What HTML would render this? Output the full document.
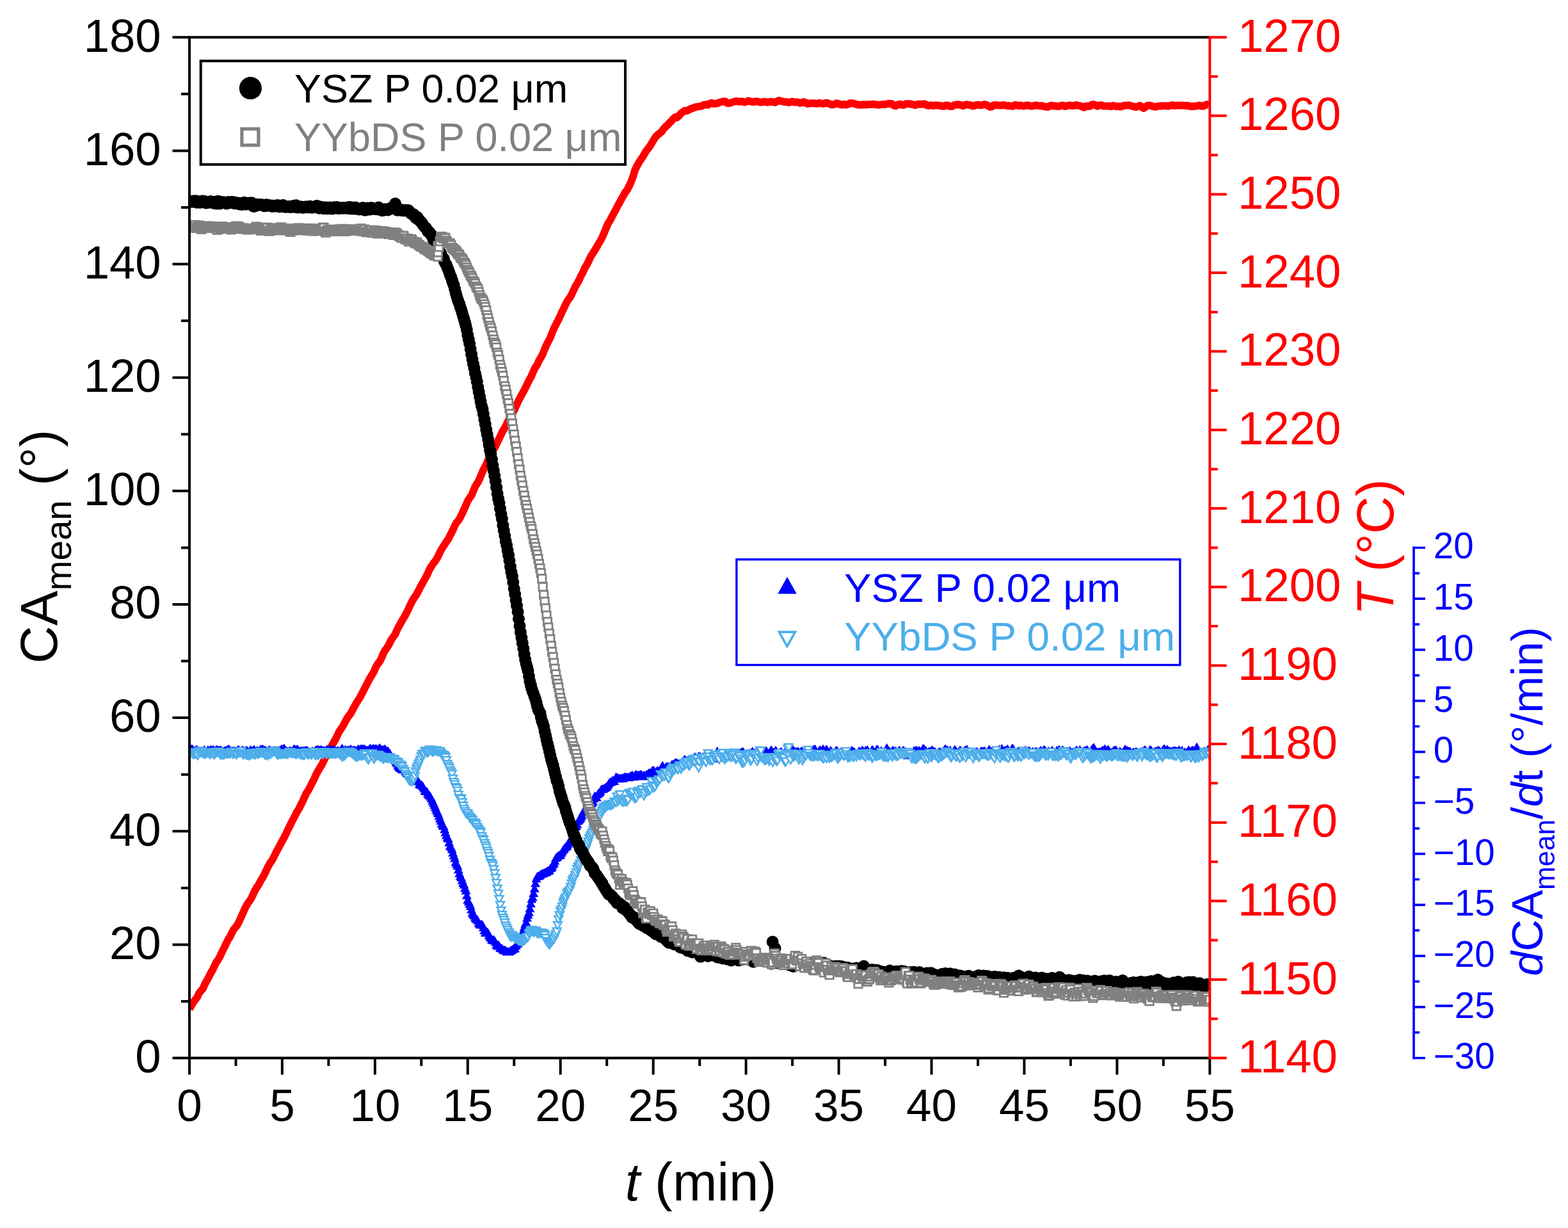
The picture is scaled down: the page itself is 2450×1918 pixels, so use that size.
<!DOCTYPE html>
<html><head><meta charset="utf-8"><title>CA mean vs time</title>
<style>html,body{margin:0;padding:0;background:#fff;overflow:hidden}svg{display:block}</style>
</head><body>
<svg xmlns="http://www.w3.org/2000/svg" width="2450" height="1918" viewBox="0 0 2450 1918" font-family="'Liberation Sans', Arial, Helvetica, sans-serif">
<rect width="2450" height="1918" fill="#fff"/>
<defs><clipPath id="pc"><rect x="296" y="56" width="1594.3" height="1600"/></clipPath></defs><g clip-path="url(#pc)"><path d="M296 1575.8 299 1570.9 302 1565.5 305 1561.6 308 1557.9 311 1551.3 314 1547.6 317 1544.3 320 1537.2 323 1531.8 326 1526.6 329 1520.4 332 1515.4 335 1508.9 338 1502.9 341 1498.7 344 1493.4 347 1486.7 350 1480.8 353 1474.4 356 1468.2 359 1463.9 362 1457.7 365 1451.8 368 1448.3 371 1444.5 374 1438.4 377 1431.8 380 1425.2 383 1418.4 386 1412.7 389 1408.4 392 1404.3 395 1398.1 398 1391.3 401 1386.4 404 1382 407 1376.2 410 1371.4 413 1365.9 416 1359.5 419 1353.3 422 1347.9 425 1343.9 428 1338.3 431 1331.9 434 1326.5 437 1321 440 1315.4 443 1309.9 446 1304.2 449 1297.6 452 1291.7 455 1285.4 458 1279.6 461 1274 464 1268 467 1263.4 470 1257.3 473 1251.3 476 1244.7 479 1238.3 482 1234 485 1228.1 488 1222.3 491 1216.4 494 1209.6 497 1204.1 500 1199 503 1194.3 506 1188 509 1181.9 512 1178 515 1172.3 518 1165.2 521 1160.2 524 1155.1 527 1149 530 1142.6 533 1138.2 536 1133.7 539 1128 542 1122.5 545 1118.2 548 1114.2 551 1108.8 554 1103.1 557 1097.7 560 1093.1 563 1088.3 566 1082.6 569 1076.7 572 1070.9 575 1065.1 578 1059.3 581 1054.5 584 1049.5 587 1042.5 590 1037.1 593 1033.6 596 1028 599 1020.6 602 1015.2 605 1011.4 608 1006.2 611 999.9 614 995.5 617 991.5 620 984.8 623 978.6 626 973.5 629 968 632 963.2 635 957.7 638 951.4 641 945 644 938.9 647 933.9 650 929.7 653 924.5 656 918.4 659 912.9 662 907.6 665 902.4 668 896.4 671 889.5 674 884.7 677 880.1 680 876.3 683 871.8 686 865.4 689 859.4 692 854.6 695 850.1 698 845.4 701 841.1 704 834.7 707 829.1 710 822.4 713 816.3 716 813.3 719 808.6 722 802.2 725 795.9 728 789 731 782.2 734 777.3 737 773.3 740 765.7 743 758.9 746 754.5 749 748.6 752 741.5 755 734.4 758 728.9 761 722.4 764 715.5 767 709.5 770 704.2 773 699 776 693 779 686.9 782 680.6 785 674.2 788 669.4 791 664 794 657.4 797 652.1 800 647.1 803 641.5 806 635.1 809 628.4 812 622.5 815 616.7 818 611.6 821 605.7 824 599.4 827 593.4 830 588.1 833 581 836 574.5 839 570.5 842 563.6 845 558.6 848 553.2 851 545.6 854 538.7 857 532.9 860 526.9 863 519 866 512 869 506.1 872 500.4 875 494.2 878 487.3 881 481.3 884 475 887 469.3 890 465.5 893 460.4 896 453.9 899 447.4 902 442.5 905 437 908 430.6 911 424.9 914 418.2 917 413.3 920 407.5 923 400.6 926 396.2 929 391.5 932 386.4 935 381.1 938 376.4 941 370.6 944 363.7 947 356.2 950 349.1 953 344.8 956 338.8 959 333.2 962 327.8 965 321.8 968 316.5 971 311 974 305.7 977 300.3 980 296.6 983 290.7 986 284.1 989 276.2 992 266.3 995 259.8 998 254.3 1001 249.8 1004 245.4 1007 240.2 1010 235.3 1013 231.7 1016 227.6 1019 222.4 1022 217.6 1025 213.1 1028 210.3 1031 208.2 1034 205.5 1037 201.2 1040 197.8 1043 195.6 1046 191.7 1049 189.2 1052 185.7 1055 182.9 1058 183.5 1061 180.5 1064 177.1 1067 174.9 1070 172.9 1073 173.2 1076 171.7 1079 170 1082 169.2 1085 167.8 1088 167 1091 166.5 1094 166.1 1097 165.5 1100 163.6 1103 163.4 1106 164 1109 161.6 1112 160.8 1115 162 1118 161.9 1121 161.5 1124 159.9 1127 159.2 1130 158.5 1133 158.4 1136 160.9 1139 161.3 1142 160.4 1145 159.6 1148 158.3 1151 158 1154 158.7 1157 158.9 1160 158.4 1163 159.6 1166 159 1169 157.5 1172 158.2 1175 159 1178 159.2 1181 158.4 1184 158.6 1187 159.5 1190 159.6 1193 159 1196 158.9 1199 159.8 1202 159.2 1205 159 1208 159.1 1211 160.1 1214 158.5 1217 156.8 1220 157.7 1223 158.5 1226 159.2 1229 159.2 1232 160.2 1235 159.5 1238 158.6 1241 159.5 1244 159.4 1247 159.9 1250 160.9 1253 160.3 1256 159.1 1259 160.6 1262 162.1 1265 161.5 1268 161.3 1271 161.1 1274 161.7 1277 161.8 1280 160.9 1283 161.5 1286 162 1289 161.2 1292 160.6 1295 161.9 1298 163 1301 163.6 1304 162.9 1307 161.2 1310 161.9 1313 163.3 1316 163.5 1319 162.9 1322 163.8 1325 163.1 1328 161.2 1331 161.2 1334 161.8 1337 162.6 1340 163.5 1343 163.6 1346 163.9 1349 163.2 1352 163.5 1355 163.5 1358 163.1 1361 163.1 1364 162.6 1367 163.3 1370 163.4 1373 163.9 1376 163.5 1379 163 1382 163.3 1385 162.6 1388 162 1391 161.9 1394 162.4 1397 164.9 1400 165.4 1403 163.4 1406 162.6 1409 163.8 1412 164 1415 162.3 1418 162 1421 162.4 1424 162.5 1427 163.6 1430 164.3 1433 163 1436 162.6 1439 162.9 1442 162.5 1445 162.3 1448 164.2 1451 165 1454 164.3 1457 165.1 1460 164.5 1463 164.3 1466 164.9 1469 164.8 1472 165.8 1475 165.9 1478 164.4 1481 164.7 1484 166 1487 166.2 1490 164.8 1493 163.6 1496 163.4 1499 163.5 1502 164.4 1505 165.4 1508 163.7 1511 163.2 1514 163.9 1517 164.4 1520 165.7 1523 164.8 1526 163.9 1529 163.9 1532 164.4 1535 164 1538 163 1541 163.7 1544 165.2 1547 167.1 1550 166.4 1553 164.1 1556 164.1 1559 164.4 1562 164.6 1565 164.5 1568 164 1571 164.7 1574 165.3 1577 165.2 1580 165.7 1583 165.9 1586 163.9 1589 164.4 1592 165.4 1595 164.4 1598 165.6 1601 165.4 1604 164.5 1607 164.7 1610 165.5 1613 165.7 1616 165 1619 164.4 1622 165.1 1625 165.3 1628 165 1631 166.4 1634 166.6 1637 167.1 1640 165.6 1643 164.7 1646 165.5 1649 165.5 1652 166.2 1655 166 1658 164.8 1661 164.6 1664 166.1 1667 165.5 1670 164.5 1673 164.7 1676 165.3 1679 164.9 1682 164 1685 165 1688 165.3 1691 166.9 1694 167.8 1697 165.6 1700 166 1703 165.9 1706 163.4 1709 163.2 1712 164.5 1715 165.8 1718 164.3 1721 164.2 1724 165.5 1727 165.6 1730 165.6 1733 165.7 1736 166.3 1739 165 1742 165.6 1745 166.4 1748 166 1751 166.7 1754 165.6 1757 164.7 1760 164.8 1763 164.3 1766 165 1769 165.8 1772 166.5 1775 167.2 1778 166.3 1781 164.9 1784 167 1787 168.9 1790 166.8 1793 164.8 1796 164.6 1799 165.4 1802 166.4 1805 166.8 1808 166.4 1811 165.6 1814 165.5 1817 165.4 1820 165.4 1823 165.5 1826 165.8 1829 164.7 1832 164.1 1835 165.1 1838 164.6 1841 164.7 1844 164.8 1847 164.5 1850 165 1853 165.2 1856 165 1859 165.9 1862 166.4 1865 165.9 1868 165.9 1871 165.3 1874 164.6 1877 165.6 1880 165.9 1883 164.2 1886 163.1 1889 164.3" fill="none" stroke="#ff0000" stroke-width="11.8" stroke-linejoin="round" stroke-linecap="butt"/><path d="M296 1166.7l7.5 13.0h-15.0zM297.4 1164.2l7.5 13.0h-15.0zM298.9 1162.4l7.5 13.0h-15.0zM300.3 1162.7l7.5 13.0h-15.0zM301.8 1163.7l7.5 13.0h-15.0zM303.2 1165.8l7.5 13.0h-15.0zM304.7 1166.3l7.5 13.0h-15.0zM306.1 1163.9l7.5 13.0h-15.0zM307.6 1163.6l7.5 13.0h-15.0zM309 1166l7.5 13.0h-15.0zM310.5 1165.5l7.5 13.0h-15.0zM311.9 1166.5l7.5 13.0h-15.0zM313.4 1166.4l7.5 13.0h-15.0zM314.8 1165.7l7.5 13.0h-15.0zM316.3 1168.4l7.5 13.0h-15.0zM317.7 1166.2l7.5 13.0h-15.0zM319.2 1163.7l7.5 13.0h-15.0zM320.6 1165.4l7.5 13.0h-15.0zM322.1 1168.7l7.5 13.0h-15.0zM323.5 1166.5l7.5 13.0h-15.0zM325 1164.1l7.5 13.0h-15.0zM326.4 1166l7.5 13.0h-15.0zM327.9 1165.1l7.5 13.0h-15.0zM329.3 1164l7.5 13.0h-15.0zM330.8 1163.9l7.5 13.0h-15.0zM332.2 1164.4l7.5 13.0h-15.0zM333.7 1163.8l7.5 13.0h-15.0zM335.1 1165.5l7.5 13.0h-15.0zM336.6 1165.6l7.5 13.0h-15.0zM338 1163.8l7.5 13.0h-15.0zM339.5 1164.2l7.5 13.0h-15.0zM340.9 1164.2l7.5 13.0h-15.0zM342.4 1164.9l7.5 13.0h-15.0zM343.8 1164.6l7.5 13.0h-15.0zM345.3 1164.3l7.5 13.0h-15.0zM346.7 1166.6l7.5 13.0h-15.0zM348.2 1167.8l7.5 13.0h-15.0zM349.6 1165.9l7.5 13.0h-15.0zM351.1 1165.8l7.5 13.0h-15.0zM352.5 1165.3l7.5 13.0h-15.0zM354 1164.7l7.5 13.0h-15.0zM355.4 1164.1l7.5 13.0h-15.0zM356.9 1162.8l7.5 13.0h-15.0zM358.3 1163.4l7.5 13.0h-15.0zM359.8 1165.5l7.5 13.0h-15.0zM361.2 1166.5l7.5 13.0h-15.0zM362.7 1165.9l7.5 13.0h-15.0zM364.1 1165.8l7.5 13.0h-15.0zM365.6 1165.7l7.5 13.0h-15.0zM367 1165.9l7.5 13.0h-15.0zM368.5 1166.3l7.5 13.0h-15.0zM369.9 1166.1l7.5 13.0h-15.0zM371.4 1164.5l7.5 13.0h-15.0zM372.8 1163.6l7.5 13.0h-15.0zM374.3 1165.6l7.5 13.0h-15.0zM375.7 1167.6l7.5 13.0h-15.0zM377.2 1167l7.5 13.0h-15.0zM378.6 1164.2l7.5 13.0h-15.0zM380.1 1165.1l7.5 13.0h-15.0zM381.5 1166.9l7.5 13.0h-15.0zM383 1165.4l7.5 13.0h-15.0zM384.4 1165.1l7.5 13.0h-15.0zM385.9 1164.9l7.5 13.0h-15.0zM387.3 1166.5l7.5 13.0h-15.0zM388.8 1168.4l7.5 13.0h-15.0zM390.2 1165.8l7.5 13.0h-15.0zM391.7 1164l7.5 13.0h-15.0zM393.1 1165.3l7.5 13.0h-15.0zM394.6 1166.7l7.5 13.0h-15.0zM396 1164.1l7.5 13.0h-15.0zM397.5 1163.8l7.5 13.0h-15.0zM398.9 1167.6l7.5 13.0h-15.0zM400.4 1166.4l7.5 13.0h-15.0zM401.8 1164.8l7.5 13.0h-15.0zM403.3 1166.3l7.5 13.0h-15.0zM404.7 1166.7l7.5 13.0h-15.0zM406.2 1164.3l7.5 13.0h-15.0zM407.6 1162.9l7.5 13.0h-15.0zM409.1 1163.2l7.5 13.0h-15.0zM410.5 1162.9l7.5 13.0h-15.0zM411.9 1163.9l7.5 13.0h-15.0zM413.4 1164.7l7.5 13.0h-15.0zM414.8 1164.7l7.5 13.0h-15.0zM416.3 1165.9l7.5 13.0h-15.0zM417.7 1167.5l7.5 13.0h-15.0zM419.2 1167l7.5 13.0h-15.0zM420.6 1163.7l7.5 13.0h-15.0zM422.1 1164.7l7.5 13.0h-15.0zM423.5 1166.3l7.5 13.0h-15.0zM425 1166.1l7.5 13.0h-15.0zM426.4 1165.8l7.5 13.0h-15.0zM427.9 1165l7.5 13.0h-15.0zM429.3 1165.3l7.5 13.0h-15.0zM430.8 1165l7.5 13.0h-15.0zM432.2 1166.3l7.5 13.0h-15.0zM433.7 1165.7l7.5 13.0h-15.0zM435.1 1164.7l7.5 13.0h-15.0zM436.6 1165.5l7.5 13.0h-15.0zM438 1165l7.5 13.0h-15.0zM439.5 1162.8l7.5 13.0h-15.0zM440.9 1163.5l7.5 13.0h-15.0zM442.4 1162.9l7.5 13.0h-15.0zM443.8 1161.2l7.5 13.0h-15.0zM445.3 1163.4l7.5 13.0h-15.0zM446.7 1165.1l7.5 13.0h-15.0zM448.2 1166.4l7.5 13.0h-15.0zM449.6 1166.7l7.5 13.0h-15.0zM451.1 1166.5l7.5 13.0h-15.0zM452.5 1165.4l7.5 13.0h-15.0zM454 1166l7.5 13.0h-15.0zM455.4 1166l7.5 13.0h-15.0zM456.9 1166l7.5 13.0h-15.0zM458.3 1164.1l7.5 13.0h-15.0zM459.8 1162.2l7.5 13.0h-15.0zM461.2 1163.8l7.5 13.0h-15.0zM462.7 1164.6l7.5 13.0h-15.0zM464.1 1163l7.5 13.0h-15.0zM465.6 1163.7l7.5 13.0h-15.0zM467 1166.8l7.5 13.0h-15.0zM468.5 1166.8l7.5 13.0h-15.0zM469.9 1165.4l7.5 13.0h-15.0zM471.4 1166l7.5 13.0h-15.0zM472.8 1166l7.5 13.0h-15.0zM474.3 1165.5l7.5 13.0h-15.0zM475.7 1166l7.5 13.0h-15.0zM477.2 1165.1l7.5 13.0h-15.0zM478.6 1165l7.5 13.0h-15.0zM480.1 1165l7.5 13.0h-15.0zM481.5 1166.2l7.5 13.0h-15.0zM483 1167.5l7.5 13.0h-15.0zM484.4 1167.8l7.5 13.0h-15.0zM485.9 1167.3l7.5 13.0h-15.0zM487.3 1166.6l7.5 13.0h-15.0zM488.8 1166.2l7.5 13.0h-15.0zM490.2 1167.2l7.5 13.0h-15.0zM491.7 1166.4l7.5 13.0h-15.0zM493.1 1164.2l7.5 13.0h-15.0zM494.6 1164.6l7.5 13.0h-15.0zM496 1163.7l7.5 13.0h-15.0zM497.5 1163.4l7.5 13.0h-15.0zM498.9 1164.9l7.5 13.0h-15.0zM500.4 1164.2l7.5 13.0h-15.0zM501.8 1163.7l7.5 13.0h-15.0zM503.3 1165.3l7.5 13.0h-15.0zM504.7 1165.6l7.5 13.0h-15.0zM506.2 1165l7.5 13.0h-15.0zM507.6 1166.2l7.5 13.0h-15.0zM509.1 1165.5l7.5 13.0h-15.0zM510.5 1163.5l7.5 13.0h-15.0zM512 1164l7.5 13.0h-15.0zM513.4 1165.4l7.5 13.0h-15.0zM514.9 1163.8l7.5 13.0h-15.0zM516.3 1164l7.5 13.0h-15.0zM517.8 1165.3l7.5 13.0h-15.0zM519.2 1164.3l7.5 13.0h-15.0zM520.7 1163.8l7.5 13.0h-15.0zM522.1 1164l7.5 13.0h-15.0zM523.6 1165.6l7.5 13.0h-15.0zM525 1166.2l7.5 13.0h-15.0zM526.4 1166.1l7.5 13.0h-15.0zM527.9 1165.2l7.5 13.0h-15.0zM529.3 1165.9l7.5 13.0h-15.0zM530.8 1167.4l7.5 13.0h-15.0zM532.2 1165.9l7.5 13.0h-15.0zM533.7 1162.2l7.5 13.0h-15.0zM535.1 1162.3l7.5 13.0h-15.0zM536.6 1167.2l7.5 13.0h-15.0zM538 1167l7.5 13.0h-15.0zM539.5 1163.5l7.5 13.0h-15.0zM540.9 1165.1l7.5 13.0h-15.0zM542.4 1165.4l7.5 13.0h-15.0zM543.8 1164.2l7.5 13.0h-15.0zM545.3 1165.5l7.5 13.0h-15.0zM546.7 1163.6l7.5 13.0h-15.0zM548.2 1163l7.5 13.0h-15.0zM549.6 1165.4l7.5 13.0h-15.0zM551.1 1164.9l7.5 13.0h-15.0zM552.5 1164.4l7.5 13.0h-15.0zM554 1164.6l7.5 13.0h-15.0zM555.4 1164.9l7.5 13.0h-15.0zM556.9 1166.6l7.5 13.0h-15.0zM558.3 1164.5l7.5 13.0h-15.0zM559.8 1162.5l7.5 13.0h-15.0zM561.2 1163.8l7.5 13.0h-15.0zM562.7 1163.5l7.5 13.0h-15.0zM564.1 1162.3l7.5 13.0h-15.0zM565.6 1162.5l7.5 13.0h-15.0zM567 1162.9l7.5 13.0h-15.0zM568.5 1162.6l7.5 13.0h-15.0zM569.9 1163.1l7.5 13.0h-15.0zM571.4 1164.4l7.5 13.0h-15.0zM572.8 1164.7l7.5 13.0h-15.0zM574.3 1164.5l7.5 13.0h-15.0zM575.7 1164.9l7.5 13.0h-15.0zM577.2 1162.9l7.5 13.0h-15.0zM578.6 1161.6l7.5 13.0h-15.0zM580.1 1163l7.5 13.0h-15.0zM581.5 1163.4l7.5 13.0h-15.0zM583 1161.7l7.5 13.0h-15.0zM584.4 1162.8l7.5 13.0h-15.0zM585.9 1163.3l7.5 13.0h-15.0zM587.3 1161.8l7.5 13.0h-15.0zM588.8 1163.2l7.5 13.0h-15.0zM590.2 1163.9l7.5 13.0h-15.0zM591.7 1162.6l7.5 13.0h-15.0zM593.1 1161.1l7.5 13.0h-15.0zM594.6 1162.2l7.5 13.0h-15.0zM596 1163.5l7.5 13.0h-15.0zM597.5 1164.3l7.5 13.0h-15.0zM598.9 1164.1l7.5 13.0h-15.0zM600.4 1163.2l7.5 13.0h-15.0zM601.8 1162.7l7.5 13.0h-15.0zM603.3 1165.3l7.5 13.0h-15.0zM604.7 1165.9l7.5 13.0h-15.0zM606.2 1165.7l7.5 13.0h-15.0zM607.6 1168.1l7.5 13.0h-15.0zM609.1 1169.6l7.5 13.0h-15.0zM610.5 1172l7.5 13.0h-15.0zM612 1174.5l7.5 13.0h-15.0zM613.4 1176l7.5 13.0h-15.0zM614.9 1177.6l7.5 13.0h-15.0zM616.3 1178.4l7.5 13.0h-15.0zM617.8 1180.5l7.5 13.0h-15.0zM619.2 1183.6l7.5 13.0h-15.0zM620.7 1185.5l7.5 13.0h-15.0zM622.1 1189l7.5 13.0h-15.0zM623.6 1190.7l7.5 13.0h-15.0zM625 1192l7.5 13.0h-15.0zM626.5 1193.1l7.5 13.0h-15.0zM627.9 1193.9l7.5 13.0h-15.0zM629.4 1194.9l7.5 13.0h-15.0zM630.8 1193.6l7.5 13.0h-15.0zM632.3 1194.5l7.5 13.0h-15.0zM633.7 1197.6l7.5 13.0h-15.0zM635.2 1199.4l7.5 13.0h-15.0zM636.6 1200.7l7.5 13.0h-15.0zM638 1201.6l7.5 13.0h-15.0zM639.5 1203.4l7.5 13.0h-15.0zM640.9 1205.1l7.5 13.0h-15.0zM642.4 1205.1l7.5 13.0h-15.0zM643.8 1206.4l7.5 13.0h-15.0zM645.3 1206.1l7.5 13.0h-15.0zM646.7 1206.3l7.5 13.0h-15.0zM648.2 1209l7.5 13.0h-15.0zM649.6 1211.6l7.5 13.0h-15.0zM651.1 1212.5l7.5 13.0h-15.0zM652.5 1211.5l7.5 13.0h-15.0zM654 1213.5l7.5 13.0h-15.0zM655.4 1217.6l7.5 13.0h-15.0zM656.9 1218.7l7.5 13.0h-15.0zM658.3 1218.6l7.5 13.0h-15.0zM659.8 1220.1l7.5 13.0h-15.0zM661.2 1221.7l7.5 13.0h-15.0zM662.7 1224.6l7.5 13.0h-15.0zM664.1 1227.9l7.5 13.0h-15.0zM665.6 1229l7.5 13.0h-15.0zM667 1229.1l7.5 13.0h-15.0zM668.5 1232.2l7.5 13.0h-15.0zM669.9 1234.5l7.5 13.0h-15.0zM671.4 1235.3l7.5 13.0h-15.0zM672.8 1237.6l7.5 13.0h-15.0zM674.3 1240.2l7.5 13.0h-15.0zM675.7 1243.7l7.5 13.0h-15.0zM677.2 1246.9l7.5 13.0h-15.0zM678.6 1250.3l7.5 13.0h-15.0zM680.1 1253.8l7.5 13.0h-15.0zM681.5 1257.2l7.5 13.0h-15.0zM683 1260.3l7.5 13.0h-15.0zM684.4 1263.3l7.5 13.0h-15.0zM685.9 1267.5l7.5 13.0h-15.0zM687.3 1271.4l7.5 13.0h-15.0zM688.8 1275l7.5 13.0h-15.0zM690.2 1279.6l7.5 13.0h-15.0zM691.7 1282.2l7.5 13.0h-15.0zM693.1 1283.2l7.5 13.0h-15.0zM694.6 1288.2l7.5 13.0h-15.0zM696 1293.2l7.5 13.0h-15.0zM697.5 1297.4l7.5 13.0h-15.0zM698.9 1301.2l7.5 13.0h-15.0zM700.4 1302.8l7.5 13.0h-15.0zM701.8 1308.7l7.5 13.0h-15.0zM703.3 1314.1l7.5 13.0h-15.0zM704.7 1316.1l7.5 13.0h-15.0zM706.2 1319.5l7.5 13.0h-15.0zM707.6 1324.7l7.5 13.0h-15.0zM709.1 1329.2l7.5 13.0h-15.0zM710.5 1333.6l7.5 13.0h-15.0zM712 1339.6l7.5 13.0h-15.0zM713.4 1342.4l7.5 13.0h-15.0zM714.9 1345.5l7.5 13.0h-15.0zM716.3 1351.2l7.5 13.0h-15.0zM717.8 1357l7.5 13.0h-15.0zM719.2 1361.3l7.5 13.0h-15.0zM720.7 1363.5l7.5 13.0h-15.0zM722.1 1367.9l7.5 13.0h-15.0zM723.6 1372l7.5 13.0h-15.0zM725 1374.8l7.5 13.0h-15.0zM726.5 1379.9l7.5 13.0h-15.0zM727.9 1384l7.5 13.0h-15.0zM729.4 1391.4l7.5 13.0h-15.0zM730.8 1398.5l7.5 13.0h-15.0zM732.3 1401.2l7.5 13.0h-15.0zM733.7 1404.7l7.5 13.0h-15.0zM735.2 1408.3l7.5 13.0h-15.0zM736.6 1413.4l7.5 13.0h-15.0zM738.1 1418.7l7.5 13.0h-15.0zM739.5 1421.1l7.5 13.0h-15.0zM741 1422.9l7.5 13.0h-15.0zM742.4 1426.2l7.5 13.0h-15.0zM743.9 1428.5l7.5 13.0h-15.0zM745.3 1428.5l7.5 13.0h-15.0zM746.8 1431.1l7.5 13.0h-15.0zM748.2 1434.7l7.5 13.0h-15.0zM749.7 1436.5l7.5 13.0h-15.0zM751.1 1437.3l7.5 13.0h-15.0zM752.5 1436.6l7.5 13.0h-15.0zM754 1437.8l7.5 13.0h-15.0zM755.4 1441.5l7.5 13.0h-15.0zM756.9 1446l7.5 13.0h-15.0zM758.3 1449.5l7.5 13.0h-15.0zM759.8 1449.9l7.5 13.0h-15.0zM761.2 1448.5l7.5 13.0h-15.0zM762.7 1449.9l7.5 13.0h-15.0zM764.1 1453.5l7.5 13.0h-15.0zM765.6 1456.1l7.5 13.0h-15.0zM767 1457.7l7.5 13.0h-15.0zM768.5 1460.4l7.5 13.0h-15.0zM769.9 1461.4l7.5 13.0h-15.0zM771.4 1460.2l7.5 13.0h-15.0zM772.8 1461.9l7.5 13.0h-15.0zM774.3 1464.3l7.5 13.0h-15.0zM775.7 1468.3l7.5 13.0h-15.0zM777.2 1470.4l7.5 13.0h-15.0zM778.6 1468.4l7.5 13.0h-15.0zM780.1 1470.2l7.5 13.0h-15.0zM781.5 1473.4l7.5 13.0h-15.0zM783 1474l7.5 13.0h-15.0zM784.4 1474.3l7.5 13.0h-15.0zM785.9 1476.1l7.5 13.0h-15.0zM787.3 1477.3l7.5 13.0h-15.0zM788.8 1476.6l7.5 13.0h-15.0zM790.2 1477.4l7.5 13.0h-15.0zM791.7 1479.2l7.5 13.0h-15.0zM793.1 1479.4l7.5 13.0h-15.0zM794.6 1479.4l7.5 13.0h-15.0zM796 1479.5l7.5 13.0h-15.0zM797.5 1478.1l7.5 13.0h-15.0zM798.9 1476.8l7.5 13.0h-15.0zM800.4 1476.6l7.5 13.0h-15.0zM801.8 1475.1l7.5 13.0h-15.0zM803.3 1474.3l7.5 13.0h-15.0zM804.7 1474.4l7.5 13.0h-15.0zM806.2 1470.2l7.5 13.0h-15.0zM807.6 1467.5l7.5 13.0h-15.0zM809.1 1466.6l7.5 13.0h-15.0zM810.5 1463.6l7.5 13.0h-15.0zM812 1461.3l7.5 13.0h-15.0zM813.4 1458.1l7.5 13.0h-15.0zM814.9 1454.6l7.5 13.0h-15.0zM816.3 1450.8l7.5 13.0h-15.0zM817.8 1446.3l7.5 13.0h-15.0zM819.2 1440.9l7.5 13.0h-15.0zM820.7 1435.7l7.5 13.0h-15.0zM822.1 1433.2l7.5 13.0h-15.0zM823.6 1426.6l7.5 13.0h-15.0zM825 1421.7l7.5 13.0h-15.0zM826.5 1417.9l7.5 13.0h-15.0zM827.9 1411.8l7.5 13.0h-15.0zM829.4 1404.3l7.5 13.0h-15.0zM830.8 1397.2l7.5 13.0h-15.0zM832.3 1394.3l7.5 13.0h-15.0zM833.7 1388.1l7.5 13.0h-15.0zM835.2 1380.7l7.5 13.0h-15.0zM836.6 1372.6l7.5 13.0h-15.0zM838.1 1365.2l7.5 13.0h-15.0zM839.5 1361.7l7.5 13.0h-15.0zM841 1361.2l7.5 13.0h-15.0zM842.4 1361l7.5 13.0h-15.0zM843.9 1359.6l7.5 13.0h-15.0zM845.3 1358.3l7.5 13.0h-15.0zM846.8 1357.6l7.5 13.0h-15.0zM848.2 1357.4l7.5 13.0h-15.0zM849.7 1356.4l7.5 13.0h-15.0zM851.1 1355.7l7.5 13.0h-15.0zM852.6 1355.7l7.5 13.0h-15.0zM854 1354.5l7.5 13.0h-15.0zM855.5 1353.1l7.5 13.0h-15.0zM856.9 1353.5l7.5 13.0h-15.0zM858.4 1351.9l7.5 13.0h-15.0zM859.8 1349.1l7.5 13.0h-15.0zM861.3 1348.7l7.5 13.0h-15.0zM862.7 1346.7l7.5 13.0h-15.0zM864.2 1343.2l7.5 13.0h-15.0zM865.6 1341l7.5 13.0h-15.0zM867 1337.4l7.5 13.0h-15.0zM868.5 1333.1l7.5 13.0h-15.0zM869.9 1331.8l7.5 13.0h-15.0zM871.4 1330.5l7.5 13.0h-15.0zM872.8 1328.8l7.5 13.0h-15.0zM874.3 1328.8l7.5 13.0h-15.0zM875.7 1328.6l7.5 13.0h-15.0zM877.2 1325.3l7.5 13.0h-15.0zM878.6 1322.4l7.5 13.0h-15.0zM880.1 1320.1l7.5 13.0h-15.0zM881.5 1318.4l7.5 13.0h-15.0zM883 1316.3l7.5 13.0h-15.0zM884.4 1315.3l7.5 13.0h-15.0zM885.9 1314l7.5 13.0h-15.0zM887.3 1311.2l7.5 13.0h-15.0zM888.8 1308.1l7.5 13.0h-15.0zM890.2 1306.1l7.5 13.0h-15.0zM891.7 1304.7l7.5 13.0h-15.0zM893.1 1302l7.5 13.0h-15.0zM894.6 1298.2l7.5 13.0h-15.0zM896 1291.7l7.5 13.0h-15.0zM897.5 1287.5l7.5 13.0h-15.0zM898.9 1284.3l7.5 13.0h-15.0zM900.4 1283l7.5 13.0h-15.0zM901.8 1280.3l7.5 13.0h-15.0zM903.3 1275.3l7.5 13.0h-15.0zM904.7 1273.6l7.5 13.0h-15.0zM906.2 1272l7.5 13.0h-15.0zM907.6 1269.6l7.5 13.0h-15.0zM909.1 1266.7l7.5 13.0h-15.0zM910.5 1262.4l7.5 13.0h-15.0zM912 1259.5l7.5 13.0h-15.0zM913.4 1257.3l7.5 13.0h-15.0zM914.9 1257.5l7.5 13.0h-15.0zM916.3 1258.2l7.5 13.0h-15.0zM917.8 1254.9l7.5 13.0h-15.0zM919.2 1252.8l7.5 13.0h-15.0zM920.7 1251.8l7.5 13.0h-15.0zM922.1 1250.1l7.5 13.0h-15.0zM923.6 1248.2l7.5 13.0h-15.0zM925 1246.7l7.5 13.0h-15.0zM926.5 1244.6l7.5 13.0h-15.0zM927.9 1240.2l7.5 13.0h-15.0zM929.4 1236.1l7.5 13.0h-15.0zM930.8 1237.4l7.5 13.0h-15.0zM932.3 1238.6l7.5 13.0h-15.0zM933.7 1233.7l7.5 13.0h-15.0zM935.2 1231.7l7.5 13.0h-15.0zM936.6 1231.3l7.5 13.0h-15.0zM938.1 1229l7.5 13.0h-15.0zM939.5 1225.8l7.5 13.0h-15.0zM941 1225.2l7.5 13.0h-15.0zM942.4 1225.6l7.5 13.0h-15.0zM943.9 1224l7.5 13.0h-15.0zM945.3 1223.4l7.5 13.0h-15.0zM946.8 1222.3l7.5 13.0h-15.0zM948.2 1221.4l7.5 13.0h-15.0zM949.7 1219.2l7.5 13.0h-15.0zM951.1 1216.8l7.5 13.0h-15.0zM952.6 1215l7.5 13.0h-15.0zM954 1214.3l7.5 13.0h-15.0zM955.5 1213.9l7.5 13.0h-15.0zM956.9 1211.7l7.5 13.0h-15.0zM958.4 1212.2l7.5 13.0h-15.0zM959.8 1213.1l7.5 13.0h-15.0zM961.3 1209.1l7.5 13.0h-15.0zM962.7 1206.3l7.5 13.0h-15.0zM964.2 1207.8l7.5 13.0h-15.0zM965.6 1207.7l7.5 13.0h-15.0zM967.1 1208.4l7.5 13.0h-15.0zM968.5 1209.2l7.5 13.0h-15.0zM970 1208.2l7.5 13.0h-15.0zM971.4 1208.5l7.5 13.0h-15.0zM972.9 1208.8l7.5 13.0h-15.0zM974.3 1207.4l7.5 13.0h-15.0zM975.8 1206.5l7.5 13.0h-15.0zM977.2 1206.8l7.5 13.0h-15.0zM978.7 1206.7l7.5 13.0h-15.0zM980.1 1206.8l7.5 13.0h-15.0zM981.5 1207.2l7.5 13.0h-15.0zM983 1207l7.5 13.0h-15.0zM984.4 1205.2l7.5 13.0h-15.0zM985.9 1204.8l7.5 13.0h-15.0zM987.3 1204.1l7.5 13.0h-15.0zM988.8 1204.1l7.5 13.0h-15.0zM990.2 1206.3l7.5 13.0h-15.0zM991.7 1205.4l7.5 13.0h-15.0zM993.1 1202.6l7.5 13.0h-15.0zM994.6 1202.9l7.5 13.0h-15.0zM996 1203.8l7.5 13.0h-15.0zM997.5 1203.7l7.5 13.0h-15.0zM998.9 1203.5l7.5 13.0h-15.0zM1000.4 1203.1l7.5 13.0h-15.0zM1001.8 1202.2l7.5 13.0h-15.0zM1003.3 1204.5l7.5 13.0h-15.0zM1004.7 1205.6l7.5 13.0h-15.0zM1006.2 1203.6l7.5 13.0h-15.0zM1007.6 1205l7.5 13.0h-15.0zM1009.1 1203.6l7.5 13.0h-15.0zM1010.5 1202.8l7.5 13.0h-15.0zM1012 1202.2l7.5 13.0h-15.0zM1013.4 1200.4l7.5 13.0h-15.0zM1014.9 1200l7.5 13.0h-15.0zM1016.3 1201.1l7.5 13.0h-15.0zM1017.8 1198.9l7.5 13.0h-15.0zM1019.2 1196.2l7.5 13.0h-15.0zM1020.7 1196.5l7.5 13.0h-15.0zM1022.1 1196.5l7.5 13.0h-15.0zM1023.6 1199.3l7.5 13.0h-15.0zM1025 1199.6l7.5 13.0h-15.0zM1026.5 1196.7l7.5 13.0h-15.0zM1027.9 1196.4l7.5 13.0h-15.0zM1029.4 1198.1l7.5 13.0h-15.0zM1030.8 1196l7.5 13.0h-15.0zM1032.3 1195.3l7.5 13.0h-15.0zM1033.7 1192l7.5 13.0h-15.0zM1035.2 1188.2l7.5 13.0h-15.0zM1036.6 1193.7l7.5 13.0h-15.0zM1038.1 1197l7.5 13.0h-15.0zM1039.5 1194.3l7.5 13.0h-15.0zM1041 1190.3l7.5 13.0h-15.0zM1042.4 1190.7l7.5 13.0h-15.0zM1043.9 1190.1l7.5 13.0h-15.0zM1045.3 1190.6l7.5 13.0h-15.0zM1046.8 1192.6l7.5 13.0h-15.0zM1048.2 1190.8l7.5 13.0h-15.0zM1049.7 1186.9l7.5 13.0h-15.0zM1051.1 1186.8l7.5 13.0h-15.0zM1052.6 1187.3l7.5 13.0h-15.0zM1054 1184.9l7.5 13.0h-15.0zM1055.5 1184.1l7.5 13.0h-15.0zM1056.9 1183.9l7.5 13.0h-15.0zM1058.4 1184.9l7.5 13.0h-15.0zM1059.8 1186.1l7.5 13.0h-15.0zM1061.3 1186.2l7.5 13.0h-15.0zM1062.7 1190l7.5 13.0h-15.0zM1064.2 1187.6l7.5 13.0h-15.0zM1065.6 1183.6l7.5 13.0h-15.0zM1067.1 1182.7l7.5 13.0h-15.0zM1068.5 1180.1l7.5 13.0h-15.0zM1070 1178.9l7.5 13.0h-15.0zM1071.4 1180.8l7.5 13.0h-15.0zM1072.9 1182.8l7.5 13.0h-15.0zM1074.3 1180.6l7.5 13.0h-15.0zM1075.8 1179.7l7.5 13.0h-15.0zM1077.2 1180.6l7.5 13.0h-15.0zM1078.7 1179.7l7.5 13.0h-15.0zM1080.1 1178.5l7.5 13.0h-15.0zM1081.6 1183.2l7.5 13.0h-15.0zM1083 1182l7.5 13.0h-15.0zM1084.5 1176.6l7.5 13.0h-15.0zM1085.9 1174.9l7.5 13.0h-15.0zM1087.4 1177l7.5 13.0h-15.0zM1088.8 1178.5l7.5 13.0h-15.0zM1090.3 1175.7l7.5 13.0h-15.0zM1091.7 1174l7.5 13.0h-15.0zM1093.2 1175.1l7.5 13.0h-15.0zM1094.6 1174.6l7.5 13.0h-15.0zM1096 1177.8l7.5 13.0h-15.0zM1097.5 1178.9l7.5 13.0h-15.0zM1098.9 1175l7.5 13.0h-15.0zM1100.4 1175l7.5 13.0h-15.0zM1101.8 1172.1l7.5 13.0h-15.0zM1103.3 1169.7l7.5 13.0h-15.0zM1104.7 1171.9l7.5 13.0h-15.0zM1106.2 1174l7.5 13.0h-15.0zM1107.6 1172.4l7.5 13.0h-15.0zM1109.1 1175l7.5 13.0h-15.0zM1110.5 1177.6l7.5 13.0h-15.0zM1112 1176.8l7.5 13.0h-15.0zM1113.4 1177.8l7.5 13.0h-15.0zM1114.9 1175.1l7.5 13.0h-15.0zM1116.3 1177l7.5 13.0h-15.0zM1117.8 1177.4l7.5 13.0h-15.0zM1119.2 1170.2l7.5 13.0h-15.0zM1120.7 1166l7.5 13.0h-15.0zM1122.1 1168.9l7.5 13.0h-15.0zM1123.6 1174l7.5 13.0h-15.0zM1125 1174l7.5 13.0h-15.0zM1126.5 1175.2l7.5 13.0h-15.0zM1127.9 1174.4l7.5 13.0h-15.0zM1129.4 1172.4l7.5 13.0h-15.0zM1130.8 1173.9l7.5 13.0h-15.0zM1132.3 1171.2l7.5 13.0h-15.0zM1133.7 1170.3l7.5 13.0h-15.0zM1135.2 1172.5l7.5 13.0h-15.0zM1136.6 1173.6l7.5 13.0h-15.0zM1138.1 1174.9l7.5 13.0h-15.0zM1139.5 1174.5l7.5 13.0h-15.0zM1141 1171.2l7.5 13.0h-15.0zM1142.4 1170.7l7.5 13.0h-15.0zM1143.9 1173.5l7.5 13.0h-15.0zM1145.3 1172.3l7.5 13.0h-15.0zM1146.8 1171.6l7.5 13.0h-15.0zM1148.2 1172.7l7.5 13.0h-15.0zM1149.7 1173.3l7.5 13.0h-15.0zM1151.1 1172l7.5 13.0h-15.0zM1152.6 1170.8l7.5 13.0h-15.0zM1154 1170.9l7.5 13.0h-15.0zM1155.5 1170.1l7.5 13.0h-15.0zM1156.9 1168.7l7.5 13.0h-15.0zM1158.4 1167.9l7.5 13.0h-15.0zM1159.8 1167l7.5 13.0h-15.0zM1161.3 1167.1l7.5 13.0h-15.0zM1162.7 1170l7.5 13.0h-15.0zM1164.2 1171.2l7.5 13.0h-15.0zM1165.6 1171.3l7.5 13.0h-15.0zM1167.1 1170l7.5 13.0h-15.0zM1168.5 1171l7.5 13.0h-15.0zM1170 1170.3l7.5 13.0h-15.0zM1171.4 1169.3l7.5 13.0h-15.0zM1172.9 1170.6l7.5 13.0h-15.0zM1174.3 1168.1l7.5 13.0h-15.0zM1175.8 1166.2l7.5 13.0h-15.0zM1177.2 1168.6l7.5 13.0h-15.0zM1178.7 1169.8l7.5 13.0h-15.0zM1180.1 1168.9l7.5 13.0h-15.0zM1181.6 1173.8l7.5 13.0h-15.0zM1183 1174.3l7.5 13.0h-15.0zM1184.5 1169.4l7.5 13.0h-15.0zM1185.9 1169.7l7.5 13.0h-15.0zM1187.4 1168.5l7.5 13.0h-15.0zM1188.8 1167l7.5 13.0h-15.0zM1190.3 1168.6l7.5 13.0h-15.0zM1191.7 1167.5l7.5 13.0h-15.0zM1193.2 1166.7l7.5 13.0h-15.0zM1194.6 1167.7l7.5 13.0h-15.0zM1196.1 1167.9l7.5 13.0h-15.0zM1197.5 1165.3l7.5 13.0h-15.0zM1199 1168l7.5 13.0h-15.0zM1200.4 1170.7l7.5 13.0h-15.0zM1201.9 1168.7l7.5 13.0h-15.0zM1203.3 1167.1l7.5 13.0h-15.0zM1204.8 1164.1l7.5 13.0h-15.0zM1206.2 1165.8l7.5 13.0h-15.0zM1207.6 1167.3l7.5 13.0h-15.0zM1209.1 1168.3l7.5 13.0h-15.0zM1210.5 1167.3l7.5 13.0h-15.0zM1212 1164.6l7.5 13.0h-15.0zM1213.4 1166.6l7.5 13.0h-15.0zM1214.9 1169.4l7.5 13.0h-15.0zM1216.3 1170.3l7.5 13.0h-15.0zM1217.8 1169.1l7.5 13.0h-15.0zM1219.2 1168l7.5 13.0h-15.0zM1220.7 1166.7l7.5 13.0h-15.0zM1222.1 1168.4l7.5 13.0h-15.0zM1223.6 1171.6l7.5 13.0h-15.0zM1225 1171.2l7.5 13.0h-15.0zM1226.5 1166.7l7.5 13.0h-15.0zM1227.9 1166.3l7.5 13.0h-15.0zM1229.4 1167.7l7.5 13.0h-15.0zM1230.8 1167.1l7.5 13.0h-15.0zM1232.3 1169l7.5 13.0h-15.0zM1233.7 1170.1l7.5 13.0h-15.0zM1235.2 1169.1l7.5 13.0h-15.0zM1236.6 1166.6l7.5 13.0h-15.0zM1238.1 1165.2l7.5 13.0h-15.0zM1239.5 1163.9l7.5 13.0h-15.0zM1241 1166.4l7.5 13.0h-15.0zM1242.4 1166.9l7.5 13.0h-15.0zM1243.9 1167l7.5 13.0h-15.0zM1245.3 1167.9l7.5 13.0h-15.0zM1246.8 1165.9l7.5 13.0h-15.0zM1248.2 1168l7.5 13.0h-15.0zM1249.7 1170.3l7.5 13.0h-15.0zM1251.1 1167.2l7.5 13.0h-15.0zM1252.6 1165.5l7.5 13.0h-15.0zM1254 1167.1l7.5 13.0h-15.0zM1255.5 1168.4l7.5 13.0h-15.0zM1256.9 1167.2l7.5 13.0h-15.0zM1258.4 1165.5l7.5 13.0h-15.0zM1259.8 1166.5l7.5 13.0h-15.0zM1261.3 1168.3l7.5 13.0h-15.0zM1262.7 1169.9l7.5 13.0h-15.0zM1264.2 1167.9l7.5 13.0h-15.0zM1265.6 1169.3l7.5 13.0h-15.0zM1267.1 1170.9l7.5 13.0h-15.0zM1268.5 1166.7l7.5 13.0h-15.0zM1270 1163.5l7.5 13.0h-15.0zM1271.4 1164l7.5 13.0h-15.0zM1272.9 1162.6l7.5 13.0h-15.0zM1274.3 1163.7l7.5 13.0h-15.0zM1275.8 1168.5l7.5 13.0h-15.0zM1277.2 1170.3l7.5 13.0h-15.0zM1278.7 1170.2l7.5 13.0h-15.0zM1280.1 1165.3l7.5 13.0h-15.0zM1281.6 1164.1l7.5 13.0h-15.0zM1283 1168l7.5 13.0h-15.0zM1284.5 1164.9l7.5 13.0h-15.0zM1285.9 1162.4l7.5 13.0h-15.0zM1287.4 1167l7.5 13.0h-15.0zM1288.8 1168.4l7.5 13.0h-15.0zM1290.3 1164.1l7.5 13.0h-15.0zM1291.7 1163.2l7.5 13.0h-15.0zM1293.2 1166.5l7.5 13.0h-15.0zM1294.6 1170.7l7.5 13.0h-15.0zM1296.1 1169.9l7.5 13.0h-15.0zM1297.5 1165.1l7.5 13.0h-15.0zM1299 1166.2l7.5 13.0h-15.0zM1300.4 1168.2l7.5 13.0h-15.0zM1301.9 1168.7l7.5 13.0h-15.0zM1303.3 1170.5l7.5 13.0h-15.0zM1304.8 1169.5l7.5 13.0h-15.0zM1306.2 1164.9l7.5 13.0h-15.0zM1307.7 1165.1l7.5 13.0h-15.0zM1309.1 1167.3l7.5 13.0h-15.0zM1310.6 1168.8l7.5 13.0h-15.0zM1312 1170.2l7.5 13.0h-15.0zM1313.5 1167.4l7.5 13.0h-15.0zM1314.9 1167.3l7.5 13.0h-15.0zM1316.4 1170.1l7.5 13.0h-15.0zM1317.8 1168.6l7.5 13.0h-15.0zM1319.3 1168.5l7.5 13.0h-15.0zM1320.7 1169l7.5 13.0h-15.0zM1322.1 1167.8l7.5 13.0h-15.0zM1323.6 1167.3l7.5 13.0h-15.0zM1325 1168.3l7.5 13.0h-15.0zM1326.5 1173.2l7.5 13.0h-15.0zM1327.9 1172.3l7.5 13.0h-15.0zM1329.4 1165.7l7.5 13.0h-15.0zM1330.8 1165l7.5 13.0h-15.0zM1332.3 1165.9l7.5 13.0h-15.0zM1333.7 1166.8l7.5 13.0h-15.0zM1335.2 1167.5l7.5 13.0h-15.0zM1336.6 1171.1l7.5 13.0h-15.0zM1338.1 1172.5l7.5 13.0h-15.0zM1339.5 1171.4l7.5 13.0h-15.0zM1341 1169.1l7.5 13.0h-15.0zM1342.4 1165.7l7.5 13.0h-15.0zM1343.9 1170.2l7.5 13.0h-15.0zM1345.3 1167.8l7.5 13.0h-15.0zM1346.8 1164.7l7.5 13.0h-15.0zM1348.2 1164.9l7.5 13.0h-15.0zM1349.7 1167.2l7.5 13.0h-15.0zM1351.1 1167.4l7.5 13.0h-15.0zM1352.6 1164.4l7.5 13.0h-15.0zM1354 1166.4l7.5 13.0h-15.0zM1355.5 1164.1l7.5 13.0h-15.0zM1356.9 1168.4l7.5 13.0h-15.0zM1358.4 1170.9l7.5 13.0h-15.0zM1359.8 1169.6l7.5 13.0h-15.0zM1361.3 1168.7l7.5 13.0h-15.0zM1362.7 1163.7l7.5 13.0h-15.0zM1364.2 1165.1l7.5 13.0h-15.0zM1365.6 1167.8l7.5 13.0h-15.0zM1367.1 1172.2l7.5 13.0h-15.0zM1368.5 1170.2l7.5 13.0h-15.0zM1370 1162.9l7.5 13.0h-15.0zM1371.4 1163.5l7.5 13.0h-15.0zM1372.9 1166.5l7.5 13.0h-15.0zM1374.3 1168.5l7.5 13.0h-15.0zM1375.8 1166.8l7.5 13.0h-15.0zM1377.2 1165.3l7.5 13.0h-15.0zM1378.7 1167.4l7.5 13.0h-15.0zM1380.1 1169.8l7.5 13.0h-15.0zM1381.6 1167.9l7.5 13.0h-15.0zM1383 1166.4l7.5 13.0h-15.0zM1384.5 1162.8l7.5 13.0h-15.0zM1385.9 1161l7.5 13.0h-15.0zM1387.4 1166.2l7.5 13.0h-15.0zM1388.8 1167.8l7.5 13.0h-15.0zM1390.3 1166.8l7.5 13.0h-15.0zM1391.7 1169.4l7.5 13.0h-15.0zM1393.2 1169.2l7.5 13.0h-15.0zM1394.6 1164.8l7.5 13.0h-15.0zM1396.1 1165.6l7.5 13.0h-15.0zM1397.5 1167.8l7.5 13.0h-15.0zM1399 1165.5l7.5 13.0h-15.0zM1400.4 1166.8l7.5 13.0h-15.0zM1401.9 1171.5l7.5 13.0h-15.0zM1403.3 1168.9l7.5 13.0h-15.0zM1404.8 1164.7l7.5 13.0h-15.0zM1406.2 1165.5l7.5 13.0h-15.0zM1407.7 1169l7.5 13.0h-15.0zM1409.1 1168.2l7.5 13.0h-15.0zM1410.6 1165l7.5 13.0h-15.0zM1412 1164.9l7.5 13.0h-15.0zM1413.5 1166.5l7.5 13.0h-15.0zM1414.9 1167.8l7.5 13.0h-15.0zM1416.4 1167.1l7.5 13.0h-15.0zM1417.8 1168.7l7.5 13.0h-15.0zM1419.3 1172.7l7.5 13.0h-15.0zM1420.7 1169.8l7.5 13.0h-15.0zM1422.2 1167.8l7.5 13.0h-15.0zM1423.6 1169.2l7.5 13.0h-15.0zM1425.1 1172.4l7.5 13.0h-15.0zM1426.5 1170.5l7.5 13.0h-15.0zM1428 1165.1l7.5 13.0h-15.0zM1429.4 1166.7l7.5 13.0h-15.0zM1430.9 1164.9l7.5 13.0h-15.0zM1432.3 1164.4l7.5 13.0h-15.0zM1433.8 1167.9l7.5 13.0h-15.0zM1435.2 1165.8l7.5 13.0h-15.0zM1436.6 1164.9l7.5 13.0h-15.0zM1438.1 1170.1l7.5 13.0h-15.0zM1439.5 1169l7.5 13.0h-15.0zM1441 1164.6l7.5 13.0h-15.0zM1442.4 1161.4l7.5 13.0h-15.0zM1443.9 1162.7l7.5 13.0h-15.0zM1445.3 1164.2l7.5 13.0h-15.0zM1446.8 1165.3l7.5 13.0h-15.0zM1448.2 1170.6l7.5 13.0h-15.0zM1449.7 1170.6l7.5 13.0h-15.0zM1451.1 1166.6l7.5 13.0h-15.0zM1452.6 1166.8l7.5 13.0h-15.0zM1454 1167.3l7.5 13.0h-15.0zM1455.5 1164.4l7.5 13.0h-15.0zM1456.9 1164.4l7.5 13.0h-15.0zM1458.4 1166.6l7.5 13.0h-15.0zM1459.8 1166.8l7.5 13.0h-15.0zM1461.3 1167.3l7.5 13.0h-15.0zM1462.7 1171.3l7.5 13.0h-15.0zM1464.2 1171.5l7.5 13.0h-15.0zM1465.6 1169.2l7.5 13.0h-15.0zM1467.1 1167.1l7.5 13.0h-15.0zM1468.5 1168.1l7.5 13.0h-15.0zM1470 1169.7l7.5 13.0h-15.0zM1471.4 1169.2l7.5 13.0h-15.0zM1472.9 1167.4l7.5 13.0h-15.0zM1474.3 1166.1l7.5 13.0h-15.0zM1475.8 1163.5l7.5 13.0h-15.0zM1477.2 1162.6l7.5 13.0h-15.0zM1478.7 1165l7.5 13.0h-15.0zM1480.1 1163.9l7.5 13.0h-15.0zM1481.6 1168.1l7.5 13.0h-15.0zM1483 1167.3l7.5 13.0h-15.0zM1484.5 1164.2l7.5 13.0h-15.0zM1485.9 1166.5l7.5 13.0h-15.0zM1487.4 1167.6l7.5 13.0h-15.0zM1488.8 1169.4l7.5 13.0h-15.0zM1490.3 1166l7.5 13.0h-15.0zM1491.7 1163.4l7.5 13.0h-15.0zM1493.2 1164.9l7.5 13.0h-15.0zM1494.6 1166.9l7.5 13.0h-15.0zM1496.1 1169.6l7.5 13.0h-15.0zM1497.5 1167.8l7.5 13.0h-15.0zM1499 1165.4l7.5 13.0h-15.0zM1500.4 1164.4l7.5 13.0h-15.0zM1501.9 1165.9l7.5 13.0h-15.0zM1503.3 1170.2l7.5 13.0h-15.0zM1504.8 1170.2l7.5 13.0h-15.0zM1506.2 1166.4l7.5 13.0h-15.0zM1507.7 1164.4l7.5 13.0h-15.0zM1509.1 1164.4l7.5 13.0h-15.0zM1510.6 1163l7.5 13.0h-15.0zM1512 1167l7.5 13.0h-15.0zM1513.5 1169.8l7.5 13.0h-15.0zM1514.9 1166.5l7.5 13.0h-15.0zM1516.4 1170l7.5 13.0h-15.0zM1517.8 1170.9l7.5 13.0h-15.0zM1519.3 1169.6l7.5 13.0h-15.0zM1520.7 1169.7l7.5 13.0h-15.0zM1522.2 1169.1l7.5 13.0h-15.0zM1523.6 1168.8l7.5 13.0h-15.0zM1525.1 1166.4l7.5 13.0h-15.0zM1526.5 1166.9l7.5 13.0h-15.0zM1528 1168.7l7.5 13.0h-15.0zM1529.4 1169.8l7.5 13.0h-15.0zM1530.9 1169l7.5 13.0h-15.0zM1532.3 1166.8l7.5 13.0h-15.0zM1533.8 1165.8l7.5 13.0h-15.0zM1535.2 1166.7l7.5 13.0h-15.0zM1536.7 1166.6l7.5 13.0h-15.0zM1538.1 1165.5l7.5 13.0h-15.0zM1539.6 1167.2l7.5 13.0h-15.0zM1541 1168.7l7.5 13.0h-15.0zM1542.5 1168.6l7.5 13.0h-15.0zM1543.9 1166.4l7.5 13.0h-15.0zM1545.4 1163.3l7.5 13.0h-15.0zM1546.8 1164.9l7.5 13.0h-15.0zM1548.3 1167.5l7.5 13.0h-15.0zM1549.7 1166.4l7.5 13.0h-15.0zM1551.1 1166.6l7.5 13.0h-15.0zM1552.6 1168.6l7.5 13.0h-15.0zM1554 1167.9l7.5 13.0h-15.0zM1555.5 1167.1l7.5 13.0h-15.0zM1556.9 1165.9l7.5 13.0h-15.0zM1558.4 1164.9l7.5 13.0h-15.0zM1559.8 1165.1l7.5 13.0h-15.0zM1561.3 1163.1l7.5 13.0h-15.0zM1562.7 1165.2l7.5 13.0h-15.0zM1564.2 1162.9l7.5 13.0h-15.0zM1565.6 1162.1l7.5 13.0h-15.0zM1567.1 1168l7.5 13.0h-15.0zM1568.5 1168.7l7.5 13.0h-15.0zM1570 1164.9l7.5 13.0h-15.0zM1571.4 1164.7l7.5 13.0h-15.0zM1572.9 1164.2l7.5 13.0h-15.0zM1574.3 1162.4l7.5 13.0h-15.0zM1575.8 1167.7l7.5 13.0h-15.0zM1577.2 1169.4l7.5 13.0h-15.0zM1578.7 1169l7.5 13.0h-15.0zM1580.1 1166.9l7.5 13.0h-15.0zM1581.6 1161.6l7.5 13.0h-15.0zM1583 1162.2l7.5 13.0h-15.0zM1584.5 1167.7l7.5 13.0h-15.0zM1585.9 1170.4l7.5 13.0h-15.0zM1587.4 1170l7.5 13.0h-15.0zM1588.8 1168.3l7.5 13.0h-15.0zM1590.3 1166.4l7.5 13.0h-15.0zM1591.7 1166.3l7.5 13.0h-15.0zM1593.2 1171.2l7.5 13.0h-15.0zM1594.6 1171.7l7.5 13.0h-15.0zM1596.1 1169.8l7.5 13.0h-15.0zM1597.5 1169.4l7.5 13.0h-15.0zM1599 1168.8l7.5 13.0h-15.0zM1600.4 1167.3l7.5 13.0h-15.0zM1601.9 1164.2l7.5 13.0h-15.0zM1603.3 1166.6l7.5 13.0h-15.0zM1604.8 1166.4l7.5 13.0h-15.0zM1606.2 1165.2l7.5 13.0h-15.0zM1607.7 1165.9l7.5 13.0h-15.0zM1609.1 1165.7l7.5 13.0h-15.0zM1610.6 1168.5l7.5 13.0h-15.0zM1612 1171.2l7.5 13.0h-15.0zM1613.5 1166.4l7.5 13.0h-15.0zM1614.9 1167.3l7.5 13.0h-15.0zM1616.4 1169.5l7.5 13.0h-15.0zM1617.8 1166.7l7.5 13.0h-15.0zM1619.3 1166.5l7.5 13.0h-15.0zM1620.7 1168l7.5 13.0h-15.0zM1622.2 1169.4l7.5 13.0h-15.0zM1623.6 1167.1l7.5 13.0h-15.0zM1625.1 1166.1l7.5 13.0h-15.0zM1626.5 1164.8l7.5 13.0h-15.0zM1628 1167.7l7.5 13.0h-15.0zM1629.4 1168.5l7.5 13.0h-15.0zM1630.9 1164l7.5 13.0h-15.0zM1632.3 1164.2l7.5 13.0h-15.0zM1633.8 1165.9l7.5 13.0h-15.0zM1635.2 1168.3l7.5 13.0h-15.0zM1636.7 1167.5l7.5 13.0h-15.0zM1638.1 1166.3l7.5 13.0h-15.0zM1639.6 1166.3l7.5 13.0h-15.0zM1641 1168.4l7.5 13.0h-15.0zM1642.5 1169.3l7.5 13.0h-15.0zM1643.9 1164.4l7.5 13.0h-15.0zM1645.4 1166.5l7.5 13.0h-15.0zM1646.8 1169.8l7.5 13.0h-15.0zM1648.3 1170.5l7.5 13.0h-15.0zM1649.7 1169l7.5 13.0h-15.0zM1651.2 1165l7.5 13.0h-15.0zM1652.6 1165.8l7.5 13.0h-15.0zM1654.1 1164.3l7.5 13.0h-15.0zM1655.5 1164l7.5 13.0h-15.0zM1657 1168.3l7.5 13.0h-15.0zM1658.4 1170l7.5 13.0h-15.0zM1659.9 1164.1l7.5 13.0h-15.0zM1661.3 1165l7.5 13.0h-15.0zM1662.7 1169.5l7.5 13.0h-15.0zM1664.2 1168.8l7.5 13.0h-15.0zM1665.6 1168.3l7.5 13.0h-15.0zM1667.1 1167.2l7.5 13.0h-15.0zM1668.5 1167.3l7.5 13.0h-15.0zM1670 1167l7.5 13.0h-15.0zM1671.4 1165.2l7.5 13.0h-15.0zM1672.9 1166.9l7.5 13.0h-15.0zM1674.3 1168.9l7.5 13.0h-15.0zM1675.8 1167.8l7.5 13.0h-15.0zM1677.2 1168l7.5 13.0h-15.0zM1678.7 1166.9l7.5 13.0h-15.0zM1680.1 1166.3l7.5 13.0h-15.0zM1681.6 1164.6l7.5 13.0h-15.0zM1683 1165.1l7.5 13.0h-15.0zM1684.5 1167.7l7.5 13.0h-15.0zM1685.9 1166.9l7.5 13.0h-15.0zM1687.4 1163.7l7.5 13.0h-15.0zM1688.8 1166.2l7.5 13.0h-15.0zM1690.3 1168.7l7.5 13.0h-15.0zM1691.7 1166.5l7.5 13.0h-15.0zM1693.2 1166.3l7.5 13.0h-15.0zM1694.6 1165.4l7.5 13.0h-15.0zM1696.1 1165.2l7.5 13.0h-15.0zM1697.5 1164.4l7.5 13.0h-15.0zM1699 1164.1l7.5 13.0h-15.0zM1700.4 1169.3l7.5 13.0h-15.0zM1701.9 1172.1l7.5 13.0h-15.0zM1703.3 1172l7.5 13.0h-15.0zM1704.8 1169.1l7.5 13.0h-15.0zM1706.2 1162.8l7.5 13.0h-15.0zM1707.7 1161.5l7.5 13.0h-15.0zM1709.1 1160.3l7.5 13.0h-15.0zM1710.6 1164.3l7.5 13.0h-15.0zM1712 1170.6l7.5 13.0h-15.0zM1713.5 1169l7.5 13.0h-15.0zM1714.9 1167.6l7.5 13.0h-15.0zM1716.4 1168.1l7.5 13.0h-15.0zM1717.8 1167.3l7.5 13.0h-15.0zM1719.3 1167.8l7.5 13.0h-15.0zM1720.7 1166.4l7.5 13.0h-15.0zM1722.2 1164.5l7.5 13.0h-15.0zM1723.6 1165.9l7.5 13.0h-15.0zM1725.1 1163.8l7.5 13.0h-15.0zM1726.5 1162.4l7.5 13.0h-15.0zM1728 1165.9l7.5 13.0h-15.0zM1729.4 1168.1l7.5 13.0h-15.0zM1730.9 1163.4l7.5 13.0h-15.0zM1732.3 1164.3l7.5 13.0h-15.0zM1733.8 1168.9l7.5 13.0h-15.0zM1735.2 1168.7l7.5 13.0h-15.0zM1736.7 1168l7.5 13.0h-15.0zM1738.1 1167.7l7.5 13.0h-15.0zM1739.6 1165.7l7.5 13.0h-15.0zM1741 1164.4l7.5 13.0h-15.0zM1742.5 1164.8l7.5 13.0h-15.0zM1743.9 1164.3l7.5 13.0h-15.0zM1745.4 1167.9l7.5 13.0h-15.0zM1746.8 1171.4l7.5 13.0h-15.0zM1748.3 1169.5l7.5 13.0h-15.0zM1749.7 1166.2l7.5 13.0h-15.0zM1751.2 1167.4l7.5 13.0h-15.0zM1752.6 1168.8l7.5 13.0h-15.0zM1754.1 1170.7l7.5 13.0h-15.0zM1755.5 1171l7.5 13.0h-15.0zM1757 1164l7.5 13.0h-15.0zM1758.4 1163.1l7.5 13.0h-15.0zM1759.9 1166.4l7.5 13.0h-15.0zM1761.3 1165l7.5 13.0h-15.0zM1762.8 1165.7l7.5 13.0h-15.0zM1764.2 1167.1l7.5 13.0h-15.0zM1765.7 1166.3l7.5 13.0h-15.0zM1767.1 1168.7l7.5 13.0h-15.0zM1768.6 1169.9l7.5 13.0h-15.0zM1770 1168.1l7.5 13.0h-15.0zM1771.5 1167.7l7.5 13.0h-15.0zM1772.9 1169.1l7.5 13.0h-15.0zM1774.4 1167l7.5 13.0h-15.0zM1775.8 1167l7.5 13.0h-15.0zM1777.2 1168.4l7.5 13.0h-15.0zM1778.7 1168.9l7.5 13.0h-15.0zM1780.1 1171.6l7.5 13.0h-15.0zM1781.6 1169.9l7.5 13.0h-15.0zM1783 1166.9l7.5 13.0h-15.0zM1784.5 1166.5l7.5 13.0h-15.0zM1785.9 1167.9l7.5 13.0h-15.0zM1787.4 1165l7.5 13.0h-15.0zM1788.8 1163.9l7.5 13.0h-15.0zM1790.3 1165.2l7.5 13.0h-15.0zM1791.7 1167.9l7.5 13.0h-15.0zM1793.2 1171.8l7.5 13.0h-15.0zM1794.6 1168.4l7.5 13.0h-15.0zM1796.1 1164.8l7.5 13.0h-15.0zM1797.5 1163.8l7.5 13.0h-15.0zM1799 1165.1l7.5 13.0h-15.0zM1800.4 1168.6l7.5 13.0h-15.0zM1801.9 1171.1l7.5 13.0h-15.0zM1803.3 1167.6l7.5 13.0h-15.0zM1804.8 1166.2l7.5 13.0h-15.0zM1806.2 1168.1l7.5 13.0h-15.0zM1807.7 1165.4l7.5 13.0h-15.0zM1809.1 1165.1l7.5 13.0h-15.0zM1810.6 1165l7.5 13.0h-15.0zM1812 1166.3l7.5 13.0h-15.0zM1813.5 1167.5l7.5 13.0h-15.0zM1814.9 1168.7l7.5 13.0h-15.0zM1816.4 1167.9l7.5 13.0h-15.0zM1817.8 1162.9l7.5 13.0h-15.0zM1819.3 1162.2l7.5 13.0h-15.0zM1820.7 1165.8l7.5 13.0h-15.0zM1822.2 1165l7.5 13.0h-15.0zM1823.6 1163.2l7.5 13.0h-15.0zM1825.1 1166.4l7.5 13.0h-15.0zM1826.5 1165.4l7.5 13.0h-15.0zM1828 1165.9l7.5 13.0h-15.0zM1829.4 1168.7l7.5 13.0h-15.0zM1830.9 1166.4l7.5 13.0h-15.0zM1832.3 1165.8l7.5 13.0h-15.0zM1833.8 1165.9l7.5 13.0h-15.0zM1835.2 1165.3l7.5 13.0h-15.0zM1836.7 1165.6l7.5 13.0h-15.0zM1838.1 1166.3l7.5 13.0h-15.0zM1839.6 1166.7l7.5 13.0h-15.0zM1841 1165.4l7.5 13.0h-15.0zM1842.5 1164l7.5 13.0h-15.0zM1843.9 1168.5l7.5 13.0h-15.0zM1845.4 1168.4l7.5 13.0h-15.0zM1846.8 1164.7l7.5 13.0h-15.0zM1848.3 1168.5l7.5 13.0h-15.0zM1849.7 1170.3l7.5 13.0h-15.0zM1851.2 1167.2l7.5 13.0h-15.0zM1852.6 1168.9l7.5 13.0h-15.0zM1854.1 1172.9l7.5 13.0h-15.0zM1855.5 1169.1l7.5 13.0h-15.0zM1857 1164.3l7.5 13.0h-15.0zM1858.4 1165.8l7.5 13.0h-15.0zM1859.9 1167.5l7.5 13.0h-15.0zM1861.3 1166l7.5 13.0h-15.0zM1862.8 1165l7.5 13.0h-15.0zM1864.2 1164.5l7.5 13.0h-15.0zM1865.7 1166.1l7.5 13.0h-15.0zM1867.1 1168.5l7.5 13.0h-15.0zM1868.6 1164.9l7.5 13.0h-15.0zM1870 1159.6l7.5 13.0h-15.0zM1871.5 1164.5l7.5 13.0h-15.0zM1872.9 1167l7.5 13.0h-15.0zM1874.4 1166.5l7.5 13.0h-15.0zM1875.8 1168.1l7.5 13.0h-15.0zM1877.3 1169l7.5 13.0h-15.0zM1878.7 1170.3l7.5 13.0h-15.0zM1880.2 1167.8l7.5 13.0h-15.0zM1881.6 1166.1l7.5 13.0h-15.0zM1883.1 1167l7.5 13.0h-15.0zM1884.5 1168.5l7.5 13.0h-15.0zM1886 1167l7.5 13.0h-15.0zM1887.4 1163.3l7.5 13.0h-15.0zM1888.9 1164.5l7.5 13.0h-15.0zM1890.3 1166.9l7.5 13.0h-15.0z" fill="#0000ff"/><defs><path id="tv" d="M-6.5 -5.5H6.5L0 6z" fill="#fff" stroke="#4daeea" stroke-width="2.4"/></defs><g><use href="#tv" x="296" y="1177.7"/><use href="#tv" x="297.4" y="1177.7"/><use href="#tv" x="298.9" y="1175"/><use href="#tv" x="300.3" y="1175.7"/><use href="#tv" x="301.8" y="1178.1"/><use href="#tv" x="303.2" y="1177.4"/><use href="#tv" x="304.7" y="1177.6"/><use href="#tv" x="306.1" y="1177.1"/><use href="#tv" x="307.6" y="1178.3"/><use href="#tv" x="309" y="1180"/><use href="#tv" x="310.5" y="1176.1"/><use href="#tv" x="311.9" y="1173.3"/><use href="#tv" x="313.4" y="1175.5"/><use href="#tv" x="314.8" y="1173.7"/><use href="#tv" x="316.3" y="1175.8"/><use href="#tv" x="317.7" y="1177.6"/><use href="#tv" x="319.2" y="1176.4"/><use href="#tv" x="320.6" y="1177.7"/><use href="#tv" x="322.1" y="1176.7"/><use href="#tv" x="323.5" y="1175.2"/><use href="#tv" x="325" y="1175"/><use href="#tv" x="326.4" y="1176.4"/><use href="#tv" x="327.9" y="1177.8"/><use href="#tv" x="329.3" y="1177.5"/><use href="#tv" x="330.8" y="1176"/><use href="#tv" x="332.2" y="1175.9"/><use href="#tv" x="333.7" y="1178.1"/><use href="#tv" x="335.1" y="1178.8"/><use href="#tv" x="336.6" y="1176.3"/><use href="#tv" x="338" y="1174.3"/><use href="#tv" x="339.5" y="1174.7"/><use href="#tv" x="340.9" y="1175.1"/><use href="#tv" x="342.4" y="1175.1"/><use href="#tv" x="343.8" y="1178"/><use href="#tv" x="345.3" y="1179.4"/><use href="#tv" x="346.7" y="1178"/><use href="#tv" x="348.2" y="1177.6"/><use href="#tv" x="349.6" y="1179.5"/><use href="#tv" x="351.1" y="1177.6"/><use href="#tv" x="352.5" y="1176"/><use href="#tv" x="354" y="1177.2"/><use href="#tv" x="355.4" y="1176.8"/><use href="#tv" x="356.9" y="1177.1"/><use href="#tv" x="358.3" y="1176.6"/><use href="#tv" x="359.8" y="1177.2"/><use href="#tv" x="361.2" y="1174.8"/><use href="#tv" x="362.7" y="1174.5"/><use href="#tv" x="364.1" y="1178.1"/><use href="#tv" x="365.6" y="1176.6"/><use href="#tv" x="367" y="1174.5"/><use href="#tv" x="368.5" y="1178.1"/><use href="#tv" x="369.9" y="1178.2"/><use href="#tv" x="371.4" y="1175.3"/><use href="#tv" x="372.8" y="1175.5"/><use href="#tv" x="374.3" y="1175.2"/><use href="#tv" x="375.7" y="1175.3"/><use href="#tv" x="377.2" y="1173.5"/><use href="#tv" x="378.6" y="1177.3"/><use href="#tv" x="380.1" y="1179.1"/><use href="#tv" x="381.5" y="1176.6"/><use href="#tv" x="383" y="1177.4"/><use href="#tv" x="384.4" y="1178.6"/><use href="#tv" x="385.9" y="1179.6"/><use href="#tv" x="387.3" y="1179.3"/><use href="#tv" x="388.8" y="1179.9"/><use href="#tv" x="390.2" y="1179.6"/><use href="#tv" x="391.7" y="1178.1"/><use href="#tv" x="393.1" y="1178.2"/><use href="#tv" x="394.6" y="1176.2"/><use href="#tv" x="396" y="1176.2"/><use href="#tv" x="397.5" y="1179.1"/><use href="#tv" x="398.9" y="1178.3"/><use href="#tv" x="400.4" y="1175.8"/><use href="#tv" x="401.8" y="1177.1"/><use href="#tv" x="403.3" y="1177.9"/><use href="#tv" x="404.7" y="1177"/><use href="#tv" x="406.2" y="1175.6"/><use href="#tv" x="407.6" y="1174.5"/><use href="#tv" x="409.1" y="1176.1"/><use href="#tv" x="410.5" y="1175.3"/><use href="#tv" x="411.9" y="1175.3"/><use href="#tv" x="413.4" y="1178.5"/><use href="#tv" x="414.8" y="1179.3"/><use href="#tv" x="416.3" y="1177.5"/><use href="#tv" x="417.7" y="1180.3"/><use href="#tv" x="419.2" y="1178"/><use href="#tv" x="420.6" y="1177.3"/><use href="#tv" x="422.1" y="1178.6"/><use href="#tv" x="423.5" y="1175.9"/><use href="#tv" x="425" y="1175.9"/><use href="#tv" x="426.4" y="1174.4"/><use href="#tv" x="427.9" y="1173"/><use href="#tv" x="429.3" y="1173.8"/><use href="#tv" x="430.8" y="1175"/><use href="#tv" x="432.2" y="1177.4"/><use href="#tv" x="433.7" y="1179.5"/><use href="#tv" x="435.1" y="1178.1"/><use href="#tv" x="436.6" y="1177.2"/><use href="#tv" x="438" y="1178.2"/><use href="#tv" x="439.5" y="1177.5"/><use href="#tv" x="440.9" y="1177.2"/><use href="#tv" x="442.4" y="1176.8"/><use href="#tv" x="443.8" y="1177.2"/><use href="#tv" x="445.3" y="1177.7"/><use href="#tv" x="446.7" y="1177"/><use href="#tv" x="448.2" y="1177.6"/><use href="#tv" x="449.6" y="1177.8"/><use href="#tv" x="451.1" y="1176.5"/><use href="#tv" x="452.5" y="1174.7"/><use href="#tv" x="454" y="1175.5"/><use href="#tv" x="455.4" y="1176.5"/><use href="#tv" x="456.9" y="1175.9"/><use href="#tv" x="458.3" y="1176.5"/><use href="#tv" x="459.8" y="1176.3"/><use href="#tv" x="461.2" y="1177"/><use href="#tv" x="462.7" y="1178.4"/><use href="#tv" x="464.1" y="1176.7"/><use href="#tv" x="465.6" y="1176.6"/><use href="#tv" x="467" y="1176.6"/><use href="#tv" x="468.5" y="1177"/><use href="#tv" x="469.9" y="1179"/><use href="#tv" x="471.4" y="1178.1"/><use href="#tv" x="472.8" y="1178.5"/><use href="#tv" x="474.3" y="1179.8"/><use href="#tv" x="475.7" y="1179.2"/><use href="#tv" x="477.2" y="1175.6"/><use href="#tv" x="478.6" y="1175.2"/><use href="#tv" x="480.1" y="1177.8"/><use href="#tv" x="481.5" y="1178.7"/><use href="#tv" x="483" y="1177.2"/><use href="#tv" x="484.4" y="1177.1"/><use href="#tv" x="485.9" y="1178.8"/><use href="#tv" x="487.3" y="1178.4"/><use href="#tv" x="488.8" y="1176.4"/><use href="#tv" x="490.2" y="1174.8"/><use href="#tv" x="491.7" y="1177.8"/><use href="#tv" x="493.1" y="1180"/><use href="#tv" x="494.6" y="1178.4"/><use href="#tv" x="496" y="1178.8"/><use href="#tv" x="497.5" y="1179.2"/><use href="#tv" x="498.9" y="1177.3"/><use href="#tv" x="500.4" y="1175"/><use href="#tv" x="501.8" y="1176.8"/><use href="#tv" x="503.3" y="1178.7"/><use href="#tv" x="504.7" y="1177.7"/><use href="#tv" x="506.2" y="1175.6"/><use href="#tv" x="507.6" y="1174.7"/><use href="#tv" x="509.1" y="1177.3"/><use href="#tv" x="510.5" y="1177.7"/><use href="#tv" x="512" y="1176.5"/><use href="#tv" x="513.4" y="1175.4"/><use href="#tv" x="514.9" y="1176.6"/><use href="#tv" x="516.3" y="1177.6"/><use href="#tv" x="517.8" y="1176.9"/><use href="#tv" x="519.2" y="1177.1"/><use href="#tv" x="520.7" y="1176.7"/><use href="#tv" x="522.1" y="1176.7"/><use href="#tv" x="523.6" y="1176.8"/><use href="#tv" x="525" y="1177.3"/><use href="#tv" x="526.4" y="1176.4"/><use href="#tv" x="527.9" y="1175"/><use href="#tv" x="529.3" y="1176.8"/><use href="#tv" x="530.8" y="1178.1"/><use href="#tv" x="532.2" y="1178.3"/><use href="#tv" x="533.7" y="1181.1"/><use href="#tv" x="535.1" y="1181.9"/><use href="#tv" x="536.6" y="1180.8"/><use href="#tv" x="538" y="1180.5"/><use href="#tv" x="539.5" y="1179"/><use href="#tv" x="540.9" y="1177.5"/><use href="#tv" x="542.4" y="1175.4"/><use href="#tv" x="543.8" y="1174.7"/><use href="#tv" x="545.3" y="1174.1"/><use href="#tv" x="546.7" y="1174.6"/><use href="#tv" x="548.2" y="1175.6"/><use href="#tv" x="549.6" y="1175.9"/><use href="#tv" x="551.1" y="1177.9"/><use href="#tv" x="552.5" y="1178.7"/><use href="#tv" x="554" y="1179.9"/><use href="#tv" x="555.4" y="1181.7"/><use href="#tv" x="556.9" y="1181.9"/><use href="#tv" x="558.3" y="1181.9"/><use href="#tv" x="559.8" y="1181.1"/><use href="#tv" x="561.2" y="1179.4"/><use href="#tv" x="562.7" y="1179.8"/><use href="#tv" x="564.1" y="1180.2"/><use href="#tv" x="565.6" y="1179.4"/><use href="#tv" x="567" y="1180.4"/><use href="#tv" x="568.5" y="1179.3"/><use href="#tv" x="569.9" y="1176.9"/><use href="#tv" x="571.4" y="1178.8"/><use href="#tv" x="572.8" y="1183.1"/><use href="#tv" x="574.3" y="1184.2"/><use href="#tv" x="575.7" y="1186.8"/><use href="#tv" x="577.2" y="1183.8"/><use href="#tv" x="578.6" y="1178.3"/><use href="#tv" x="580.1" y="1177.3"/><use href="#tv" x="581.5" y="1177.1"/><use href="#tv" x="583" y="1182.5"/><use href="#tv" x="584.4" y="1185.7"/><use href="#tv" x="585.9" y="1182.2"/><use href="#tv" x="587.3" y="1179.9"/><use href="#tv" x="588.8" y="1180.3"/><use href="#tv" x="590.2" y="1179.1"/><use href="#tv" x="591.7" y="1180"/><use href="#tv" x="593.1" y="1181.4"/><use href="#tv" x="594.6" y="1182"/><use href="#tv" x="596" y="1182.9"/><use href="#tv" x="597.5" y="1183.9"/><use href="#tv" x="598.9" y="1185.5"/><use href="#tv" x="600.4" y="1184.3"/><use href="#tv" x="601.8" y="1183"/><use href="#tv" x="603.3" y="1183.4"/><use href="#tv" x="604.7" y="1184.2"/><use href="#tv" x="606.2" y="1184.4"/><use href="#tv" x="607.6" y="1183.4"/><use href="#tv" x="609.1" y="1183.3"/><use href="#tv" x="610.5" y="1185.2"/><use href="#tv" x="612" y="1185.1"/><use href="#tv" x="613.4" y="1185.7"/><use href="#tv" x="614.9" y="1186"/><use href="#tv" x="616.3" y="1186.7"/><use href="#tv" x="617.8" y="1189.4"/><use href="#tv" x="619.2" y="1189.8"/><use href="#tv" x="620.7" y="1190.4"/><use href="#tv" x="622.1" y="1191.6"/><use href="#tv" x="623.6" y="1194.5"/><use href="#tv" x="625" y="1195.7"/><use href="#tv" x="626.5" y="1195"/><use href="#tv" x="627.9" y="1197.2"/><use href="#tv" x="629.4" y="1200.9"/><use href="#tv" x="630.8" y="1203.5"/><use href="#tv" x="632.3" y="1205.3"/><use href="#tv" x="633.7" y="1209"/><use href="#tv" x="635.2" y="1211.6"/><use href="#tv" x="636.6" y="1213"/><use href="#tv" x="638" y="1215.3"/><use href="#tv" x="639.5" y="1219.4"/><use href="#tv" x="640.9" y="1220.1"/><use href="#tv" x="642.4" y="1218.7"/><use href="#tv" x="643.8" y="1220.7"/><use href="#tv" x="645.3" y="1219.9"/><use href="#tv" x="646.7" y="1217.4"/><use href="#tv" x="648.2" y="1212.5"/><use href="#tv" x="649.6" y="1205.1"/><use href="#tv" x="651.1" y="1200.6"/><use href="#tv" x="652.5" y="1197.4"/><use href="#tv" x="654" y="1193.6"/><use href="#tv" x="655.4" y="1190.6"/><use href="#tv" x="656.9" y="1186.9"/><use href="#tv" x="658.3" y="1181.7"/><use href="#tv" x="659.8" y="1177.6"/><use href="#tv" x="661.2" y="1178.5"/><use href="#tv" x="662.7" y="1177.8"/><use href="#tv" x="664.1" y="1173.4"/><use href="#tv" x="665.6" y="1173"/><use href="#tv" x="667" y="1175.2"/><use href="#tv" x="668.5" y="1175.2"/><use href="#tv" x="669.9" y="1174"/><use href="#tv" x="671.4" y="1171.3"/><use href="#tv" x="672.8" y="1171.1"/><use href="#tv" x="674.3" y="1172.9"/><use href="#tv" x="675.7" y="1174.3"/><use href="#tv" x="677.2" y="1174.3"/><use href="#tv" x="678.6" y="1172.7"/><use href="#tv" x="680.1" y="1172.2"/><use href="#tv" x="681.5" y="1172.3"/><use href="#tv" x="683" y="1173.4"/><use href="#tv" x="684.4" y="1173.7"/><use href="#tv" x="685.9" y="1173.5"/><use href="#tv" x="687.3" y="1173.9"/><use href="#tv" x="688.8" y="1176.1"/><use href="#tv" x="690.2" y="1178.2"/><use href="#tv" x="691.7" y="1179.3"/><use href="#tv" x="693.1" y="1179.8"/><use href="#tv" x="694.6" y="1181"/><use href="#tv" x="696" y="1183"/><use href="#tv" x="697.5" y="1187.6"/><use href="#tv" x="698.9" y="1193.7"/><use href="#tv" x="700.4" y="1196.9"/><use href="#tv" x="701.8" y="1199.5"/><use href="#tv" x="703.3" y="1203.4"/><use href="#tv" x="704.7" y="1206.3"/><use href="#tv" x="706.2" y="1209.2"/><use href="#tv" x="707.6" y="1216.5"/><use href="#tv" x="709.1" y="1221.6"/><use href="#tv" x="710.5" y="1225.1"/><use href="#tv" x="712" y="1229.7"/><use href="#tv" x="713.4" y="1231.4"/><use href="#tv" x="714.9" y="1235.1"/><use href="#tv" x="716.3" y="1241.6"/><use href="#tv" x="717.8" y="1246.9"/><use href="#tv" x="719.2" y="1247.3"/><use href="#tv" x="720.7" y="1248"/><use href="#tv" x="722.1" y="1253.2"/><use href="#tv" x="723.6" y="1258.8"/><use href="#tv" x="725" y="1263.6"/><use href="#tv" x="726.5" y="1267.1"/><use href="#tv" x="727.9" y="1270.2"/><use href="#tv" x="729.4" y="1270.8"/><use href="#tv" x="730.8" y="1270.6"/><use href="#tv" x="732.3" y="1274"/><use href="#tv" x="733.7" y="1276.7"/><use href="#tv" x="735.2" y="1277.9"/><use href="#tv" x="736.6" y="1279.9"/><use href="#tv" x="738.1" y="1281.5"/><use href="#tv" x="739.5" y="1284.7"/><use href="#tv" x="741" y="1286"/><use href="#tv" x="742.4" y="1285.5"/><use href="#tv" x="743.9" y="1287.7"/><use href="#tv" x="745.3" y="1291.6"/><use href="#tv" x="746.8" y="1294.4"/><use href="#tv" x="748.2" y="1296.9"/><use href="#tv" x="749.7" y="1298.2"/><use href="#tv" x="751.1" y="1300.5"/><use href="#tv" x="752.5" y="1306.5"/><use href="#tv" x="754" y="1310.4"/><use href="#tv" x="755.4" y="1312.3"/><use href="#tv" x="756.9" y="1317.1"/><use href="#tv" x="758.3" y="1320.8"/><use href="#tv" x="759.8" y="1324.3"/><use href="#tv" x="761.2" y="1328.9"/><use href="#tv" x="762.7" y="1332.5"/><use href="#tv" x="764.1" y="1337.3"/><use href="#tv" x="765.6" y="1343.2"/><use href="#tv" x="767" y="1347.7"/><use href="#tv" x="768.5" y="1349.4"/><use href="#tv" x="769.9" y="1352.1"/><use href="#tv" x="771.4" y="1357.8"/><use href="#tv" x="772.8" y="1364.3"/><use href="#tv" x="774.3" y="1371.5"/><use href="#tv" x="775.7" y="1379.4"/><use href="#tv" x="777.2" y="1388.2"/><use href="#tv" x="778.6" y="1396.1"/><use href="#tv" x="780.1" y="1404.6"/><use href="#tv" x="781.5" y="1413.9"/><use href="#tv" x="783" y="1422.4"/><use href="#tv" x="784.4" y="1429.3"/><use href="#tv" x="785.9" y="1433.8"/><use href="#tv" x="787.3" y="1437.1"/><use href="#tv" x="788.8" y="1441.1"/><use href="#tv" x="790.2" y="1446"/><use href="#tv" x="791.7" y="1449.4"/><use href="#tv" x="793.1" y="1452.8"/><use href="#tv" x="794.6" y="1456.4"/><use href="#tv" x="796" y="1459.2"/><use href="#tv" x="797.5" y="1462.9"/><use href="#tv" x="798.9" y="1463.3"/><use href="#tv" x="800.4" y="1460.9"/><use href="#tv" x="801.8" y="1463.1"/><use href="#tv" x="803.3" y="1464.3"/><use href="#tv" x="804.7" y="1464.5"/><use href="#tv" x="806.2" y="1466.3"/><use href="#tv" x="807.6" y="1466.4"/><use href="#tv" x="809.1" y="1467.8"/><use href="#tv" x="810.5" y="1469.6"/><use href="#tv" x="812" y="1469.4"/><use href="#tv" x="813.4" y="1469.7"/><use href="#tv" x="814.9" y="1470.6"/><use href="#tv" x="816.3" y="1469.8"/><use href="#tv" x="817.8" y="1469.3"/><use href="#tv" x="819.2" y="1469"/><use href="#tv" x="820.7" y="1467.1"/><use href="#tv" x="822.1" y="1465"/><use href="#tv" x="823.6" y="1464.7"/><use href="#tv" x="825" y="1463.5"/><use href="#tv" x="826.5" y="1458.6"/><use href="#tv" x="827.9" y="1456.9"/><use href="#tv" x="829.4" y="1454.2"/><use href="#tv" x="830.8" y="1452.8"/><use href="#tv" x="832.3" y="1455"/><use href="#tv" x="833.7" y="1455.9"/><use href="#tv" x="835.2" y="1455.5"/><use href="#tv" x="836.6" y="1453.8"/><use href="#tv" x="838.1" y="1455.8"/><use href="#tv" x="839.5" y="1457.9"/><use href="#tv" x="841" y="1457.9"/><use href="#tv" x="842.4" y="1457.4"/><use href="#tv" x="843.9" y="1457.6"/><use href="#tv" x="845.3" y="1457"/><use href="#tv" x="846.8" y="1457.8"/><use href="#tv" x="848.2" y="1458.4"/><use href="#tv" x="849.7" y="1458.2"/><use href="#tv" x="851.1" y="1460.8"/><use href="#tv" x="852.6" y="1465.3"/><use href="#tv" x="854" y="1470.3"/><use href="#tv" x="855.5" y="1471.4"/><use href="#tv" x="856.9" y="1473.9"/><use href="#tv" x="858.4" y="1475.8"/><use href="#tv" x="859.8" y="1473"/><use href="#tv" x="861.3" y="1471.7"/><use href="#tv" x="862.7" y="1470.1"/><use href="#tv" x="864.2" y="1468.1"/><use href="#tv" x="865.6" y="1466.9"/><use href="#tv" x="867" y="1462.8"/><use href="#tv" x="868.5" y="1459.5"/><use href="#tv" x="869.9" y="1455"/><use href="#tv" x="871.4" y="1445.3"/><use href="#tv" x="872.8" y="1436.2"/><use href="#tv" x="874.3" y="1429.7"/><use href="#tv" x="875.7" y="1423.7"/><use href="#tv" x="877.2" y="1420.6"/><use href="#tv" x="878.6" y="1416"/><use href="#tv" x="880.1" y="1410.2"/><use href="#tv" x="881.5" y="1407.1"/><use href="#tv" x="883" y="1404.3"/><use href="#tv" x="884.4" y="1401.4"/><use href="#tv" x="885.9" y="1396.5"/><use href="#tv" x="887.3" y="1393.7"/><use href="#tv" x="888.8" y="1393"/><use href="#tv" x="890.2" y="1390.4"/><use href="#tv" x="891.7" y="1385.7"/><use href="#tv" x="893.1" y="1380.3"/><use href="#tv" x="894.6" y="1376"/><use href="#tv" x="896" y="1373.5"/><use href="#tv" x="897.5" y="1371.1"/><use href="#tv" x="898.9" y="1367.3"/><use href="#tv" x="900.4" y="1363.3"/><use href="#tv" x="901.8" y="1357.8"/><use href="#tv" x="903.3" y="1354.5"/><use href="#tv" x="904.7" y="1352.8"/><use href="#tv" x="906.2" y="1349.1"/><use href="#tv" x="907.6" y="1344.3"/><use href="#tv" x="909.1" y="1340.7"/><use href="#tv" x="910.5" y="1338.1"/><use href="#tv" x="912" y="1333.5"/><use href="#tv" x="913.4" y="1330.3"/><use href="#tv" x="914.9" y="1327.2"/><use href="#tv" x="916.3" y="1322.7"/><use href="#tv" x="917.8" y="1319"/><use href="#tv" x="919.2" y="1314.6"/><use href="#tv" x="920.7" y="1310.3"/><use href="#tv" x="922.1" y="1307.2"/><use href="#tv" x="923.6" y="1304.4"/><use href="#tv" x="925" y="1301.4"/><use href="#tv" x="926.5" y="1297.2"/><use href="#tv" x="927.9" y="1293.8"/><use href="#tv" x="929.4" y="1291.6"/><use href="#tv" x="930.8" y="1286.3"/><use href="#tv" x="932.3" y="1281.6"/><use href="#tv" x="933.7" y="1279.6"/><use href="#tv" x="935.2" y="1276.9"/><use href="#tv" x="936.6" y="1275.6"/><use href="#tv" x="938.1" y="1274"/><use href="#tv" x="939.5" y="1269.7"/><use href="#tv" x="941" y="1266.3"/><use href="#tv" x="942.4" y="1263.2"/><use href="#tv" x="943.9" y="1260.7"/><use href="#tv" x="945.3" y="1262"/><use href="#tv" x="946.8" y="1260.3"/><use href="#tv" x="948.2" y="1258.6"/><use href="#tv" x="949.7" y="1258.6"/><use href="#tv" x="951.1" y="1256.9"/><use href="#tv" x="952.6" y="1256.7"/><use href="#tv" x="954" y="1258"/><use href="#tv" x="955.5" y="1257.7"/><use href="#tv" x="956.9" y="1255.8"/><use href="#tv" x="958.4" y="1255.9"/><use href="#tv" x="959.8" y="1252.8"/><use href="#tv" x="961.3" y="1252.1"/><use href="#tv" x="962.7" y="1253.3"/><use href="#tv" x="964.2" y="1244.5"/><use href="#tv" x="965.6" y="1251.5"/><use href="#tv" x="967.1" y="1249.3"/><use href="#tv" x="968.5" y="1241"/><use href="#tv" x="970" y="1248"/><use href="#tv" x="971.4" y="1252"/><use href="#tv" x="972.9" y="1250.7"/><use href="#tv" x="974.3" y="1252.7"/><use href="#tv" x="975.8" y="1248.6"/><use href="#tv" x="977.2" y="1251.9"/><use href="#tv" x="978.7" y="1251.2"/><use href="#tv" x="980.1" y="1251.7"/><use href="#tv" x="981.5" y="1249.2"/><use href="#tv" x="983" y="1239.1"/><use href="#tv" x="984.4" y="1239.3"/><use href="#tv" x="985.9" y="1242.7"/><use href="#tv" x="987.3" y="1240.8"/><use href="#tv" x="988.8" y="1237.3"/><use href="#tv" x="990.2" y="1245"/><use href="#tv" x="991.7" y="1247.2"/><use href="#tv" x="993.1" y="1245.8"/><use href="#tv" x="994.6" y="1245.8"/><use href="#tv" x="996" y="1239.6"/><use href="#tv" x="997.5" y="1235.4"/><use href="#tv" x="998.9" y="1237.2"/><use href="#tv" x="1000.4" y="1239.1"/><use href="#tv" x="1001.8" y="1236.1"/><use href="#tv" x="1003.3" y="1233.3"/><use href="#tv" x="1004.7" y="1238.8"/><use href="#tv" x="1006.2" y="1243"/><use href="#tv" x="1007.6" y="1238.4"/><use href="#tv" x="1009.1" y="1233"/><use href="#tv" x="1010.5" y="1229.8"/><use href="#tv" x="1012" y="1236.2"/><use href="#tv" x="1013.4" y="1234.6"/><use href="#tv" x="1014.9" y="1234.5"/><use href="#tv" x="1016.3" y="1233.2"/><use href="#tv" x="1017.8" y="1220.1"/><use href="#tv" x="1019.2" y="1227.5"/><use href="#tv" x="1020.7" y="1230.7"/><use href="#tv" x="1022.1" y="1228"/><use href="#tv" x="1023.6" y="1228.7"/><use href="#tv" x="1025" y="1221.9"/><use href="#tv" x="1026.5" y="1222.4"/><use href="#tv" x="1027.9" y="1221.1"/><use href="#tv" x="1029.4" y="1218.3"/><use href="#tv" x="1030.8" y="1217.7"/><use href="#tv" x="1032.3" y="1209.6"/><use href="#tv" x="1033.7" y="1210.2"/><use href="#tv" x="1035.2" y="1213.1"/><use href="#tv" x="1036.6" y="1210.3"/><use href="#tv" x="1038.1" y="1212.3"/><use href="#tv" x="1039.5" y="1207.2"/><use href="#tv" x="1041" y="1206.7"/><use href="#tv" x="1042.4" y="1212.1"/><use href="#tv" x="1043.9" y="1215.5"/><use href="#tv" x="1045.3" y="1215.5"/><use href="#tv" x="1046.8" y="1209.6"/><use href="#tv" x="1048.2" y="1204.2"/><use href="#tv" x="1049.7" y="1202.2"/><use href="#tv" x="1051.1" y="1199.1"/><use href="#tv" x="1052.6" y="1199.7"/><use href="#tv" x="1054" y="1202.8"/><use href="#tv" x="1055.5" y="1199.6"/><use href="#tv" x="1056.9" y="1199.5"/><use href="#tv" x="1058.4" y="1201.4"/><use href="#tv" x="1059.8" y="1201.5"/><use href="#tv" x="1061.3" y="1195.6"/><use href="#tv" x="1062.7" y="1198.3"/><use href="#tv" x="1064.2" y="1201.4"/><use href="#tv" x="1065.6" y="1197.6"/><use href="#tv" x="1067.1" y="1196.9"/><use href="#tv" x="1068.5" y="1192.3"/><use href="#tv" x="1070" y="1192.5"/><use href="#tv" x="1071.4" y="1193.7"/><use href="#tv" x="1072.9" y="1189.6"/><use href="#tv" x="1074.3" y="1190.7"/><use href="#tv" x="1075.8" y="1195.3"/><use href="#tv" x="1077.2" y="1196.4"/><use href="#tv" x="1078.7" y="1194.1"/><use href="#tv" x="1080.1" y="1189.9"/><use href="#tv" x="1081.6" y="1187.9"/><use href="#tv" x="1083" y="1189"/><use href="#tv" x="1084.5" y="1185.2"/><use href="#tv" x="1085.9" y="1187.8"/><use href="#tv" x="1087.4" y="1192.3"/><use href="#tv" x="1088.8" y="1185.3"/><use href="#tv" x="1090.3" y="1189.4"/><use href="#tv" x="1091.7" y="1199.2"/><use href="#tv" x="1093.2" y="1190.1"/><use href="#tv" x="1094.6" y="1183.1"/><use href="#tv" x="1096" y="1184.2"/><use href="#tv" x="1097.5" y="1186.9"/><use href="#tv" x="1098.9" y="1184.9"/><use href="#tv" x="1100.4" y="1183.7"/><use href="#tv" x="1101.8" y="1188.9"/><use href="#tv" x="1103.3" y="1190.6"/><use href="#tv" x="1104.7" y="1183.1"/><use href="#tv" x="1106.2" y="1177"/><use href="#tv" x="1107.6" y="1182"/><use href="#tv" x="1109.1" y="1187.2"/><use href="#tv" x="1110.5" y="1187.9"/><use href="#tv" x="1112" y="1187"/><use href="#tv" x="1113.4" y="1187.9"/><use href="#tv" x="1114.9" y="1182.6"/><use href="#tv" x="1116.3" y="1180.6"/><use href="#tv" x="1117.8" y="1182"/><use href="#tv" x="1119.2" y="1181.2"/><use href="#tv" x="1120.7" y="1179.4"/><use href="#tv" x="1122.1" y="1182.6"/><use href="#tv" x="1123.6" y="1186.4"/><use href="#tv" x="1125" y="1177.9"/><use href="#tv" x="1126.5" y="1179.2"/><use href="#tv" x="1127.9" y="1183.4"/><use href="#tv" x="1129.4" y="1176.3"/><use href="#tv" x="1130.8" y="1181.9"/><use href="#tv" x="1132.3" y="1186.5"/><use href="#tv" x="1133.7" y="1183.8"/><use href="#tv" x="1135.2" y="1183.4"/><use href="#tv" x="1136.6" y="1182.2"/><use href="#tv" x="1138.1" y="1176.9"/><use href="#tv" x="1139.5" y="1179.4"/><use href="#tv" x="1141" y="1182.8"/><use href="#tv" x="1142.4" y="1180.5"/><use href="#tv" x="1143.9" y="1182.5"/><use href="#tv" x="1145.3" y="1179.4"/><use href="#tv" x="1146.8" y="1175.7"/><use href="#tv" x="1148.2" y="1178.3"/><use href="#tv" x="1149.7" y="1186.3"/><use href="#tv" x="1151.1" y="1184.7"/><use href="#tv" x="1152.6" y="1178.8"/><use href="#tv" x="1154" y="1181.1"/><use href="#tv" x="1155.5" y="1181.2"/><use href="#tv" x="1156.9" y="1185.1"/><use href="#tv" x="1158.4" y="1188.3"/><use href="#tv" x="1159.8" y="1192.1"/><use href="#tv" x="1161.3" y="1191.4"/><use href="#tv" x="1162.7" y="1190.5"/><use href="#tv" x="1164.2" y="1188"/><use href="#tv" x="1165.6" y="1181.7"/><use href="#tv" x="1167.1" y="1180.2"/><use href="#tv" x="1168.5" y="1178.3"/><use href="#tv" x="1170" y="1180.6"/><use href="#tv" x="1171.4" y="1183.8"/><use href="#tv" x="1172.9" y="1189.1"/><use href="#tv" x="1174.3" y="1186.4"/><use href="#tv" x="1175.8" y="1177.5"/><use href="#tv" x="1177.2" y="1178.4"/><use href="#tv" x="1178.7" y="1182.4"/><use href="#tv" x="1180.1" y="1180.9"/><use href="#tv" x="1181.6" y="1184.1"/><use href="#tv" x="1183" y="1189.3"/><use href="#tv" x="1184.5" y="1184.3"/><use href="#tv" x="1185.9" y="1178.5"/><use href="#tv" x="1187.4" y="1172.5"/><use href="#tv" x="1188.8" y="1172.7"/><use href="#tv" x="1190.3" y="1183.5"/><use href="#tv" x="1191.7" y="1182.6"/><use href="#tv" x="1193.2" y="1182.7"/><use href="#tv" x="1194.6" y="1187.7"/><use href="#tv" x="1196.1" y="1186.8"/><use href="#tv" x="1197.5" y="1186.6"/><use href="#tv" x="1199" y="1184.3"/><use href="#tv" x="1200.4" y="1185.5"/><use href="#tv" x="1201.9" y="1189"/><use href="#tv" x="1203.3" y="1186.8"/><use href="#tv" x="1204.8" y="1183.3"/><use href="#tv" x="1206.2" y="1186.2"/><use href="#tv" x="1207.6" y="1191"/><use href="#tv" x="1209.1" y="1184.8"/><use href="#tv" x="1210.5" y="1182.6"/><use href="#tv" x="1212" y="1184.7"/><use href="#tv" x="1213.4" y="1189.4"/><use href="#tv" x="1214.9" y="1188.1"/><use href="#tv" x="1216.3" y="1178.6"/><use href="#tv" x="1217.8" y="1176.6"/><use href="#tv" x="1219.2" y="1181.4"/><use href="#tv" x="1220.7" y="1180.9"/><use href="#tv" x="1222.1" y="1179.9"/><use href="#tv" x="1223.6" y="1181.6"/><use href="#tv" x="1225" y="1183.7"/><use href="#tv" x="1226.5" y="1190.2"/><use href="#tv" x="1227.9" y="1189.5"/><use href="#tv" x="1229.4" y="1178.3"/><use href="#tv" x="1230.8" y="1169.9"/><use href="#tv" x="1232.3" y="1167.5"/><use href="#tv" x="1233.7" y="1180.4"/><use href="#tv" x="1235.2" y="1187"/><use href="#tv" x="1236.6" y="1177.3"/><use href="#tv" x="1238.1" y="1179.3"/><use href="#tv" x="1239.5" y="1182.5"/><use href="#tv" x="1241" y="1180.7"/><use href="#tv" x="1242.4" y="1179.7"/><use href="#tv" x="1243.9" y="1180.3"/><use href="#tv" x="1245.3" y="1177.8"/><use href="#tv" x="1246.8" y="1181.1"/><use href="#tv" x="1248.2" y="1186.7"/><use href="#tv" x="1249.7" y="1183.4"/><use href="#tv" x="1251.1" y="1180"/><use href="#tv" x="1252.6" y="1183.4"/><use href="#tv" x="1254" y="1188.1"/><use href="#tv" x="1255.5" y="1184.8"/><use href="#tv" x="1256.9" y="1181.4"/><use href="#tv" x="1258.4" y="1180.5"/><use href="#tv" x="1259.8" y="1180"/><use href="#tv" x="1261.3" y="1176.1"/><use href="#tv" x="1262.7" y="1171.4"/><use href="#tv" x="1264.2" y="1176.9"/><use href="#tv" x="1265.6" y="1180.7"/><use href="#tv" x="1267.1" y="1180.6"/><use href="#tv" x="1268.5" y="1181.1"/><use href="#tv" x="1270" y="1181.4"/><use href="#tv" x="1271.4" y="1181.8"/><use href="#tv" x="1272.9" y="1180.3"/><use href="#tv" x="1274.3" y="1180.6"/><use href="#tv" x="1275.8" y="1179.7"/><use href="#tv" x="1277.2" y="1181.6"/><use href="#tv" x="1278.7" y="1181"/><use href="#tv" x="1280.1" y="1177.7"/><use href="#tv" x="1281.6" y="1181.1"/><use href="#tv" x="1283" y="1181.2"/><use href="#tv" x="1284.5" y="1181.3"/><use href="#tv" x="1285.9" y="1184.7"/><use href="#tv" x="1287.4" y="1184.3"/><use href="#tv" x="1288.8" y="1180.9"/><use href="#tv" x="1290.3" y="1182.9"/><use href="#tv" x="1291.7" y="1184.6"/><use href="#tv" x="1293.2" y="1179.3"/><use href="#tv" x="1294.6" y="1182.2"/><use href="#tv" x="1296.1" y="1184.3"/><use href="#tv" x="1297.5" y="1181.7"/><use href="#tv" x="1299" y="1183"/><use href="#tv" x="1300.4" y="1181"/><use href="#tv" x="1301.9" y="1181"/><use href="#tv" x="1303.3" y="1179.6"/><use href="#tv" x="1304.8" y="1176.2"/><use href="#tv" x="1306.2" y="1177.7"/><use href="#tv" x="1307.7" y="1183.5"/><use href="#tv" x="1309.1" y="1185.4"/><use href="#tv" x="1310.6" y="1183.5"/><use href="#tv" x="1312" y="1181.6"/><use href="#tv" x="1313.5" y="1180.4"/><use href="#tv" x="1314.9" y="1177.3"/><use href="#tv" x="1316.4" y="1175.9"/><use href="#tv" x="1317.8" y="1180.6"/><use href="#tv" x="1319.3" y="1180"/><use href="#tv" x="1320.7" y="1175.6"/><use href="#tv" x="1322.1" y="1173.6"/><use href="#tv" x="1323.6" y="1178.4"/><use href="#tv" x="1325" y="1183.9"/><use href="#tv" x="1326.5" y="1182"/><use href="#tv" x="1327.9" y="1182.5"/><use href="#tv" x="1329.4" y="1180.8"/><use href="#tv" x="1330.8" y="1179"/><use href="#tv" x="1332.3" y="1181.9"/><use href="#tv" x="1333.7" y="1182.7"/><use href="#tv" x="1335.2" y="1179.4"/><use href="#tv" x="1336.6" y="1179.3"/><use href="#tv" x="1338.1" y="1182.2"/><use href="#tv" x="1339.5" y="1178.8"/><use href="#tv" x="1341" y="1177.7"/><use href="#tv" x="1342.4" y="1178.9"/><use href="#tv" x="1343.9" y="1180.3"/><use href="#tv" x="1345.3" y="1179.1"/><use href="#tv" x="1346.8" y="1176.9"/><use href="#tv" x="1348.2" y="1178.7"/><use href="#tv" x="1349.7" y="1180.2"/><use href="#tv" x="1351.1" y="1180.9"/><use href="#tv" x="1352.6" y="1182.7"/><use href="#tv" x="1354" y="1178.3"/><use href="#tv" x="1355.5" y="1176.4"/><use href="#tv" x="1356.9" y="1180.3"/><use href="#tv" x="1358.4" y="1180.5"/><use href="#tv" x="1359.8" y="1178.1"/><use href="#tv" x="1361.3" y="1179.3"/><use href="#tv" x="1362.7" y="1184.4"/><use href="#tv" x="1364.2" y="1182.8"/><use href="#tv" x="1365.6" y="1178.1"/><use href="#tv" x="1367.1" y="1179.9"/><use href="#tv" x="1368.5" y="1181.4"/><use href="#tv" x="1370" y="1180.2"/><use href="#tv" x="1371.4" y="1180.5"/><use href="#tv" x="1372.9" y="1179.5"/><use href="#tv" x="1374.3" y="1179"/><use href="#tv" x="1375.8" y="1178.5"/><use href="#tv" x="1377.2" y="1174.9"/><use href="#tv" x="1378.7" y="1178.1"/><use href="#tv" x="1380.1" y="1182.3"/><use href="#tv" x="1381.6" y="1180.2"/><use href="#tv" x="1383" y="1182.2"/><use href="#tv" x="1384.5" y="1182"/><use href="#tv" x="1385.9" y="1181.6"/><use href="#tv" x="1387.4" y="1183.4"/><use href="#tv" x="1388.8" y="1180.8"/><use href="#tv" x="1390.3" y="1177"/><use href="#tv" x="1391.7" y="1178.4"/><use href="#tv" x="1393.2" y="1181.1"/><use href="#tv" x="1394.6" y="1182.1"/><use href="#tv" x="1396.1" y="1178.8"/><use href="#tv" x="1397.5" y="1176.7"/><use href="#tv" x="1399" y="1180"/><use href="#tv" x="1400.4" y="1180.9"/><use href="#tv" x="1401.9" y="1180.6"/><use href="#tv" x="1403.3" y="1180.6"/><use href="#tv" x="1404.8" y="1176.1"/><use href="#tv" x="1406.2" y="1174.9"/><use href="#tv" x="1407.7" y="1178"/><use href="#tv" x="1409.1" y="1175.7"/><use href="#tv" x="1410.6" y="1177.1"/><use href="#tv" x="1412" y="1179.3"/><use href="#tv" x="1413.5" y="1176.9"/><use href="#tv" x="1414.9" y="1175"/><use href="#tv" x="1416.4" y="1177.8"/><use href="#tv" x="1417.8" y="1175.6"/><use href="#tv" x="1419.3" y="1174.9"/><use href="#tv" x="1420.7" y="1177.5"/><use href="#tv" x="1422.2" y="1177.9"/><use href="#tv" x="1423.6" y="1183.5"/><use href="#tv" x="1425.1" y="1185.2"/><use href="#tv" x="1426.5" y="1181.5"/><use href="#tv" x="1428" y="1182.4"/><use href="#tv" x="1429.4" y="1186"/><use href="#tv" x="1430.9" y="1185.1"/><use href="#tv" x="1432.3" y="1185"/><use href="#tv" x="1433.8" y="1183.6"/><use href="#tv" x="1435.2" y="1181.3"/><use href="#tv" x="1436.6" y="1180.8"/><use href="#tv" x="1438.1" y="1178.9"/><use href="#tv" x="1439.5" y="1179.1"/><use href="#tv" x="1441" y="1178.4"/><use href="#tv" x="1442.4" y="1178.1"/><use href="#tv" x="1443.9" y="1183.7"/><use href="#tv" x="1445.3" y="1185.2"/><use href="#tv" x="1446.8" y="1180.7"/><use href="#tv" x="1448.2" y="1182.6"/><use href="#tv" x="1449.7" y="1185.7"/><use href="#tv" x="1451.1" y="1180.5"/><use href="#tv" x="1452.6" y="1176.5"/><use href="#tv" x="1454" y="1181.7"/><use href="#tv" x="1455.5" y="1183.2"/><use href="#tv" x="1456.9" y="1180.3"/><use href="#tv" x="1458.4" y="1179.1"/><use href="#tv" x="1459.8" y="1176.7"/><use href="#tv" x="1461.3" y="1179.9"/><use href="#tv" x="1462.7" y="1180.4"/><use href="#tv" x="1464.2" y="1179.3"/><use href="#tv" x="1465.6" y="1184.2"/><use href="#tv" x="1467.1" y="1184.2"/><use href="#tv" x="1468.5" y="1180.4"/><use href="#tv" x="1470" y="1180.5"/><use href="#tv" x="1471.4" y="1182"/><use href="#tv" x="1472.9" y="1180"/><use href="#tv" x="1474.3" y="1179.4"/><use href="#tv" x="1475.8" y="1178"/><use href="#tv" x="1477.2" y="1174.2"/><use href="#tv" x="1478.7" y="1175.5"/><use href="#tv" x="1480.1" y="1175.5"/><use href="#tv" x="1481.6" y="1175.3"/><use href="#tv" x="1483" y="1178.3"/><use href="#tv" x="1484.5" y="1179.8"/><use href="#tv" x="1485.9" y="1183.5"/><use href="#tv" x="1487.4" y="1181.5"/><use href="#tv" x="1488.8" y="1177.1"/><use href="#tv" x="1490.3" y="1178"/><use href="#tv" x="1491.7" y="1176.9"/><use href="#tv" x="1493.2" y="1181.6"/><use href="#tv" x="1494.6" y="1182"/><use href="#tv" x="1496.1" y="1177.8"/><use href="#tv" x="1497.5" y="1178.9"/><use href="#tv" x="1499" y="1183.9"/><use href="#tv" x="1500.4" y="1183.6"/><use href="#tv" x="1501.9" y="1177.6"/><use href="#tv" x="1503.3" y="1180.5"/><use href="#tv" x="1504.8" y="1180.7"/><use href="#tv" x="1506.2" y="1174.5"/><use href="#tv" x="1507.7" y="1177.8"/><use href="#tv" x="1509.1" y="1183.5"/><use href="#tv" x="1510.6" y="1178.7"/><use href="#tv" x="1512" y="1174.6"/><use href="#tv" x="1513.5" y="1177.2"/><use href="#tv" x="1514.9" y="1177.7"/><use href="#tv" x="1516.4" y="1174.9"/><use href="#tv" x="1517.8" y="1174.5"/><use href="#tv" x="1519.3" y="1180.7"/><use href="#tv" x="1520.7" y="1184.9"/><use href="#tv" x="1522.2" y="1179.6"/><use href="#tv" x="1523.6" y="1177.2"/><use href="#tv" x="1525.1" y="1179.4"/><use href="#tv" x="1526.5" y="1179.1"/><use href="#tv" x="1528" y="1178.8"/><use href="#tv" x="1529.4" y="1182.7"/><use href="#tv" x="1530.9" y="1181.6"/><use href="#tv" x="1532.3" y="1176.8"/><use href="#tv" x="1533.8" y="1177.9"/><use href="#tv" x="1535.2" y="1178.1"/><use href="#tv" x="1536.7" y="1177.3"/><use href="#tv" x="1538.1" y="1177.8"/><use href="#tv" x="1539.6" y="1176.7"/><use href="#tv" x="1541" y="1179.8"/><use href="#tv" x="1542.5" y="1180.4"/><use href="#tv" x="1543.9" y="1180.7"/><use href="#tv" x="1545.4" y="1180.3"/><use href="#tv" x="1546.8" y="1176.1"/><use href="#tv" x="1548.3" y="1178.1"/><use href="#tv" x="1549.7" y="1179.4"/><use href="#tv" x="1551.1" y="1180.5"/><use href="#tv" x="1552.6" y="1182.3"/><use href="#tv" x="1554" y="1185"/><use href="#tv" x="1555.5" y="1178.2"/><use href="#tv" x="1556.9" y="1171.9"/><use href="#tv" x="1558.4" y="1177.3"/><use href="#tv" x="1559.8" y="1178.9"/><use href="#tv" x="1561.3" y="1178.9"/><use href="#tv" x="1562.7" y="1184.2"/><use href="#tv" x="1564.2" y="1180"/><use href="#tv" x="1565.6" y="1176.4"/><use href="#tv" x="1567.1" y="1180.2"/><use href="#tv" x="1568.5" y="1178.9"/><use href="#tv" x="1570" y="1181.4"/><use href="#tv" x="1571.4" y="1181.3"/><use href="#tv" x="1572.9" y="1180.7"/><use href="#tv" x="1574.3" y="1183.3"/><use href="#tv" x="1575.8" y="1184.1"/><use href="#tv" x="1577.2" y="1178.1"/><use href="#tv" x="1578.7" y="1174.6"/><use href="#tv" x="1580.1" y="1175.6"/><use href="#tv" x="1581.6" y="1175.4"/><use href="#tv" x="1583" y="1177.5"/><use href="#tv" x="1584.5" y="1182.9"/><use href="#tv" x="1585.9" y="1182.1"/><use href="#tv" x="1587.4" y="1177.5"/><use href="#tv" x="1588.8" y="1178.4"/><use href="#tv" x="1590.3" y="1181.8"/><use href="#tv" x="1591.7" y="1181.1"/><use href="#tv" x="1593.2" y="1179.1"/><use href="#tv" x="1594.6" y="1181.7"/><use href="#tv" x="1596.1" y="1181.9"/><use href="#tv" x="1597.5" y="1176.5"/><use href="#tv" x="1599" y="1173"/><use href="#tv" x="1600.4" y="1178.1"/><use href="#tv" x="1601.9" y="1177.2"/><use href="#tv" x="1603.3" y="1175.4"/><use href="#tv" x="1604.8" y="1175.9"/><use href="#tv" x="1606.2" y="1177.1"/><use href="#tv" x="1607.7" y="1179.8"/><use href="#tv" x="1609.1" y="1176.1"/><use href="#tv" x="1610.6" y="1175.7"/><use href="#tv" x="1612" y="1176.6"/><use href="#tv" x="1613.5" y="1176"/><use href="#tv" x="1614.9" y="1180.4"/><use href="#tv" x="1616.4" y="1182"/><use href="#tv" x="1617.8" y="1180.3"/><use href="#tv" x="1619.3" y="1182.6"/><use href="#tv" x="1620.7" y="1182.2"/><use href="#tv" x="1622.2" y="1181.8"/><use href="#tv" x="1623.6" y="1182.3"/><use href="#tv" x="1625.1" y="1180.4"/><use href="#tv" x="1626.5" y="1178.9"/><use href="#tv" x="1628" y="1176.8"/><use href="#tv" x="1629.4" y="1175.6"/><use href="#tv" x="1630.9" y="1175.4"/><use href="#tv" x="1632.3" y="1178.3"/><use href="#tv" x="1633.8" y="1180.9"/><use href="#tv" x="1635.2" y="1178.3"/><use href="#tv" x="1636.7" y="1179.8"/><use href="#tv" x="1638.1" y="1180.2"/><use href="#tv" x="1639.6" y="1177.2"/><use href="#tv" x="1641" y="1175.8"/><use href="#tv" x="1642.5" y="1174.9"/><use href="#tv" x="1643.9" y="1179.2"/><use href="#tv" x="1645.4" y="1181.6"/><use href="#tv" x="1646.8" y="1178.7"/><use href="#tv" x="1648.3" y="1180.2"/><use href="#tv" x="1649.7" y="1181.3"/><use href="#tv" x="1651.2" y="1179.1"/><use href="#tv" x="1652.6" y="1181.2"/><use href="#tv" x="1654.1" y="1182"/><use href="#tv" x="1655.5" y="1179.4"/><use href="#tv" x="1657" y="1176.5"/><use href="#tv" x="1658.4" y="1179.6"/><use href="#tv" x="1659.9" y="1177.1"/><use href="#tv" x="1661.3" y="1173.5"/><use href="#tv" x="1662.7" y="1174.7"/><use href="#tv" x="1664.2" y="1174.7"/><use href="#tv" x="1665.6" y="1179.6"/><use href="#tv" x="1667.1" y="1180.1"/><use href="#tv" x="1668.5" y="1177.7"/><use href="#tv" x="1670" y="1178.2"/><use href="#tv" x="1671.4" y="1182.7"/><use href="#tv" x="1672.9" y="1185.4"/><use href="#tv" x="1674.3" y="1182.1"/><use href="#tv" x="1675.8" y="1178.3"/><use href="#tv" x="1677.2" y="1177.2"/><use href="#tv" x="1678.7" y="1179"/><use href="#tv" x="1680.1" y="1179.3"/><use href="#tv" x="1681.6" y="1178.5"/><use href="#tv" x="1683" y="1176.9"/><use href="#tv" x="1684.5" y="1174.6"/><use href="#tv" x="1685.9" y="1174.5"/><use href="#tv" x="1687.4" y="1177.5"/><use href="#tv" x="1688.8" y="1177.9"/><use href="#tv" x="1690.3" y="1182.2"/><use href="#tv" x="1691.7" y="1184.9"/><use href="#tv" x="1693.2" y="1181.4"/><use href="#tv" x="1694.6" y="1182.3"/><use href="#tv" x="1696.1" y="1179.1"/><use href="#tv" x="1697.5" y="1175.1"/><use href="#tv" x="1699" y="1176.6"/><use href="#tv" x="1700.4" y="1179.9"/><use href="#tv" x="1701.9" y="1181.4"/><use href="#tv" x="1703.3" y="1183.4"/><use href="#tv" x="1704.8" y="1185"/><use href="#tv" x="1706.2" y="1183.9"/><use href="#tv" x="1707.7" y="1183.5"/><use href="#tv" x="1709.1" y="1182"/><use href="#tv" x="1710.6" y="1181.5"/><use href="#tv" x="1712" y="1180.6"/><use href="#tv" x="1713.5" y="1178.2"/><use href="#tv" x="1714.9" y="1180.5"/><use href="#tv" x="1716.4" y="1178.2"/><use href="#tv" x="1717.8" y="1179.1"/><use href="#tv" x="1719.3" y="1185.7"/><use href="#tv" x="1720.7" y="1182.2"/><use href="#tv" x="1722.2" y="1180.2"/><use href="#tv" x="1723.6" y="1181.4"/><use href="#tv" x="1725.1" y="1178.2"/><use href="#tv" x="1726.5" y="1178.6"/><use href="#tv" x="1728" y="1181.4"/><use href="#tv" x="1729.4" y="1182.6"/><use href="#tv" x="1730.9" y="1181"/><use href="#tv" x="1732.3" y="1179.4"/><use href="#tv" x="1733.8" y="1178.9"/><use href="#tv" x="1735.2" y="1180.5"/><use href="#tv" x="1736.7" y="1181.5"/><use href="#tv" x="1738.1" y="1181.2"/><use href="#tv" x="1739.6" y="1180.2"/><use href="#tv" x="1741" y="1178.8"/><use href="#tv" x="1742.5" y="1178.4"/><use href="#tv" x="1743.9" y="1176.8"/><use href="#tv" x="1745.4" y="1180.5"/><use href="#tv" x="1746.8" y="1181.5"/><use href="#tv" x="1748.3" y="1179.3"/><use href="#tv" x="1749.7" y="1181"/><use href="#tv" x="1751.2" y="1179.7"/><use href="#tv" x="1752.6" y="1181.9"/><use href="#tv" x="1754.1" y="1182"/><use href="#tv" x="1755.5" y="1177.6"/><use href="#tv" x="1757" y="1183.1"/><use href="#tv" x="1758.4" y="1180.7"/><use href="#tv" x="1759.9" y="1179.9"/><use href="#tv" x="1761.3" y="1183.8"/><use href="#tv" x="1762.8" y="1181.5"/><use href="#tv" x="1764.2" y="1178.8"/><use href="#tv" x="1765.7" y="1178.2"/><use href="#tv" x="1767.1" y="1177.8"/><use href="#tv" x="1768.6" y="1179.3"/><use href="#tv" x="1770" y="1181.2"/><use href="#tv" x="1771.5" y="1178.1"/><use href="#tv" x="1772.9" y="1177.6"/><use href="#tv" x="1774.4" y="1178.6"/><use href="#tv" x="1775.8" y="1181.3"/><use href="#tv" x="1777.2" y="1182.2"/><use href="#tv" x="1778.7" y="1179"/><use href="#tv" x="1780.1" y="1176.7"/><use href="#tv" x="1781.6" y="1176.2"/><use href="#tv" x="1783" y="1179.3"/><use href="#tv" x="1784.5" y="1182.1"/><use href="#tv" x="1785.9" y="1178.5"/><use href="#tv" x="1787.4" y="1174.6"/><use href="#tv" x="1788.8" y="1176.5"/><use href="#tv" x="1790.3" y="1178.5"/><use href="#tv" x="1791.7" y="1179.6"/><use href="#tv" x="1793.2" y="1180.4"/><use href="#tv" x="1794.6" y="1180.1"/><use href="#tv" x="1796.1" y="1181.8"/><use href="#tv" x="1797.5" y="1183"/><use href="#tv" x="1799" y="1181.1"/><use href="#tv" x="1800.4" y="1180.5"/><use href="#tv" x="1801.9" y="1179.9"/><use href="#tv" x="1803.3" y="1176.3"/><use href="#tv" x="1804.8" y="1177.8"/><use href="#tv" x="1806.2" y="1182.2"/><use href="#tv" x="1807.7" y="1184.4"/><use href="#tv" x="1809.1" y="1182.1"/><use href="#tv" x="1810.6" y="1176.3"/><use href="#tv" x="1812" y="1177"/><use href="#tv" x="1813.5" y="1179.8"/><use href="#tv" x="1814.9" y="1180.3"/><use href="#tv" x="1816.4" y="1182.7"/><use href="#tv" x="1817.8" y="1180.7"/><use href="#tv" x="1819.3" y="1177.4"/><use href="#tv" x="1820.7" y="1177.5"/><use href="#tv" x="1822.2" y="1177.5"/><use href="#tv" x="1823.6" y="1176.4"/><use href="#tv" x="1825.1" y="1178.1"/><use href="#tv" x="1826.5" y="1178.5"/><use href="#tv" x="1828" y="1177.6"/><use href="#tv" x="1829.4" y="1178.4"/><use href="#tv" x="1830.9" y="1177.7"/><use href="#tv" x="1832.3" y="1179.5"/><use href="#tv" x="1833.8" y="1179.7"/><use href="#tv" x="1835.2" y="1178.5"/><use href="#tv" x="1836.7" y="1180.8"/><use href="#tv" x="1838.1" y="1180.7"/><use href="#tv" x="1839.6" y="1176.5"/><use href="#tv" x="1841" y="1175.9"/><use href="#tv" x="1842.5" y="1177.7"/><use href="#tv" x="1843.9" y="1179.7"/><use href="#tv" x="1845.4" y="1183.6"/><use href="#tv" x="1846.8" y="1182.8"/><use href="#tv" x="1848.3" y="1179.5"/><use href="#tv" x="1849.7" y="1181.9"/><use href="#tv" x="1851.2" y="1180.8"/><use href="#tv" x="1852.6" y="1178.7"/><use href="#tv" x="1854.1" y="1180.8"/><use href="#tv" x="1855.5" y="1180.2"/><use href="#tv" x="1857" y="1179"/><use href="#tv" x="1858.4" y="1179.4"/><use href="#tv" x="1859.9" y="1182.5"/><use href="#tv" x="1861.3" y="1183.2"/><use href="#tv" x="1862.8" y="1179.4"/><use href="#tv" x="1864.2" y="1178.8"/><use href="#tv" x="1865.7" y="1181.7"/><use href="#tv" x="1867.1" y="1184.4"/><use href="#tv" x="1868.6" y="1184.1"/><use href="#tv" x="1870" y="1181.2"/><use href="#tv" x="1871.5" y="1182.3"/><use href="#tv" x="1872.9" y="1183.6"/><use href="#tv" x="1874.4" y="1181.3"/><use href="#tv" x="1875.8" y="1178.5"/><use href="#tv" x="1877.3" y="1178.3"/><use href="#tv" x="1878.7" y="1181.3"/><use href="#tv" x="1880.2" y="1179.2"/><use href="#tv" x="1881.6" y="1174.5"/><use href="#tv" x="1883.1" y="1177.4"/><use href="#tv" x="1884.5" y="1177.5"/><use href="#tv" x="1886" y="1174.2"/><use href="#tv" x="1887.4" y="1176.6"/><use href="#tv" x="1888.9" y="1178.6"/><use href="#tv" x="1890.3" y="1179"/></g><path d="M296 315.4h0M297.4 314.2h0M298.9 314.7h0M300.3 315.3h0M301.8 313.9h0M303.2 314.8h0M304.7 314.8h0M306.1 313.7h0M307.6 316.2h0M309 316h0M310.5 314.8h0M311.9 316.3h0M313.4 316.2h0M314.8 314.3h0M316.3 314h0M317.7 315h0M319.2 314.3h0M320.6 315.5h0M322.1 317h0M323.5 316.4h0M325 316.4h0M326.4 316.2h0M327.9 315.8h0M329.3 314.4h0M330.8 315.3h0M332.2 316.5h0M333.7 317.2h0M335.1 316.4h0M336.6 315.3h0M338 318h0M339.5 316.9h0M340.9 314.3h0M342.4 315.6h0M343.8 317.9h0M345.3 316.9h0M346.7 315.6h0M348.2 316.5h0M349.6 316.1h0M351.1 316.1h0M352.5 317.5h0M354 317.9h0M355.4 316h0M356.9 315.5h0M358.3 316.7h0M359.8 316.1h0M361.2 315.6h0M362.7 316.4h0M364.1 315.4h0M365.6 317.2h0M367 317.7h0M368.5 316.4h0M369.9 317.6h0M371.4 317.1h0M372.8 318.3h0M374.3 318.9h0M375.7 317.4h0M377.2 318.3h0M378.6 319.4h0M380.1 317.8h0M381.5 316.3h0M383 317.9h0M384.4 319h0M385.9 317.3h0M387.3 317.9h0M388.8 318h0M390.2 317.1h0M391.7 317.7h0M393.1 316.7h0M394.6 318h0M396 322.3h0M397.5 322.4h0M398.9 320.1h0M400.4 319.4h0M401.8 319.2h0M403.3 319.7h0M404.7 320.3h0M406.2 319.8h0M407.6 319.4h0M409.1 319.8h0M410.5 320.3h0M411.9 321.3h0M413.4 321.8h0M414.8 320.8h0M416.3 319.7h0M417.7 320.7h0M419.2 321h0M420.6 320.4h0M422.1 321h0M423.5 321.6h0M425 322.4h0M426.4 321.2h0M427.9 321.2h0M429.3 321.9h0M430.8 321.6h0M432.2 321h0M433.7 320.5h0M435.1 321.1h0M436.6 322.7h0M438 322.5h0M439.5 322.1h0M440.9 322.2h0M442.4 320.5h0M443.8 321.5h0M445.3 323.2h0M446.7 323h0M448.2 322.7h0M449.6 323h0M451.1 322.5h0M452.5 323.5h0M454 323.6h0M455.4 323.3h0M456.9 322.4h0M458.3 321.6h0M459.8 323.3h0M461.2 323.2h0M462.7 320.8h0M464.1 321.8h0M465.6 324h0M467 323.2h0M468.5 322.9h0M469.9 322.9h0M471.4 323.2h0M472.8 324.3h0M474.3 324.3h0M475.7 323.4h0M477.2 322.9h0M478.6 322.9h0M480.1 322.9h0M481.5 323.8h0M483 323.4h0M484.4 322.3h0M485.9 323.4h0M487.3 324.2h0M488.8 324.1h0M490.2 323.6h0M491.7 323.6h0M493.1 322.8h0M494.6 321.6h0M496 321.7h0M497.5 323.2h0M498.9 325.3h0M500.4 324.8h0M501.8 323.3h0M503.3 323.5h0M504.7 325.4h0M506.2 325.8h0M507.6 324.5h0M509.1 324h0M510.5 324.3h0M512 325.8h0M513.4 325.6h0M514.9 324h0M516.3 325h0M517.8 325.6h0M519.2 326h0M520.7 325.3h0M522.1 323.8h0M523.6 324.9h0M525 323.7h0M526.4 323.6h0M527.9 325.5h0M529.3 325.4h0M530.8 325.3h0M532.2 325.5h0M533.7 324.6h0M535.1 325.1h0M536.6 325.2h0M538 324.4h0M539.5 324.5h0M540.9 325.2h0M542.4 325.5h0M543.8 324.7h0M545.3 323.4h0M546.7 323.6h0M548.2 326.1h0M549.6 324.7h0M551.1 324.3h0M552.5 325.9h0M554 324.3h0M555.4 324h0M556.9 326.2h0M558.3 326.5h0M559.8 326.1h0M561.2 327h0M562.7 326.5h0M564.1 326.4h0M565.6 325.7h0M567 324.4h0M568.5 326.5h0M569.9 328.3h0M571.4 328h0M572.8 325.8h0M574.3 325h0M575.7 325.5h0M577.2 327.2h0M578.6 326.9h0M580.1 324.4h0M581.5 325h0M583 326.3h0M584.4 326.3h0M585.9 325.9h0M587.3 326.6h0M588.8 326.8h0M590.2 325.1h0M591.7 324.1h0M593.1 326.8h0M594.6 327.7h0M596 327.8h0M597.5 328.8h0M598.9 328.2h0M600.4 327.1h0M601.8 327.3h0M603.3 326.9h0M604.7 327.3h0M606.2 328.1h0M607.6 326.7h0M609.1 325.9h0M610.5 325h0M612 325h0M613.4 325.1h0M614.9 324.6h0M616.3 324.1h0M617.8 325h0M619.2 326.8h0M620.7 328.3h0M622.1 328.2h0M623.6 326.8h0M625 326.9h0M626.5 328.6h0M627.9 328.5h0M629.4 328.3h0M630.8 328.9h0M632.3 328.6h0M633.7 328.2h0M635.2 329.1h0M636.6 329.3h0M638 328.5h0M639.5 330h0M640.9 332.3h0M642.4 333.6h0M643.8 334.5h0M645.3 334.6h0M646.7 335.1h0M648.2 337.4h0M649.6 340.4h0M651.1 338.8h0M652.5 339.6h0M654 343.3h0M655.4 344.3h0M656.9 345.7h0M658.3 347.3h0M659.8 349h0M661.2 351.6h0M662.7 353.5h0M664.1 354.8h0M665.6 356h0M667 358.5h0M668.5 361.6h0M669.9 361.6h0M671.4 363.3h0M672.8 365.8h0M674.3 367.3h0M675.7 370.2h0M677.2 374.2h0M678.6 378.1h0M680.1 380.5h0M681.5 383.1h0M683 386.3h0M684.4 388.9h0M685.9 392h0M687.3 393.5h0M688.8 395.4h0M690.2 400.3h0M691.7 402.4h0M693.1 403.5h0M694.6 408.7h0M696 411.6h0M697.5 413.6h0M698.9 417.8h0M700.4 421h0M701.8 425.1h0M703.3 429.6h0M704.7 432.5h0M706.2 437.3h0M707.6 441.7h0M709.1 445.2h0M710.5 451.1h0M712 457.1h0M713.4 461.9h0M714.9 467h0M716.3 470.9h0M717.8 474.7h0M719.2 479.8h0M720.7 483.8h0M722.1 488.6h0M723.6 493.7h0M725 498.2h0M726.5 503.4h0M727.9 508.8h0M729.4 514.9h0M730.8 523.4h0M732.3 530.3h0M733.7 536.8h0M735.2 544.9h0M736.6 553.3h0M738.1 561.4h0M739.5 568.4h0M741 575.1h0M742.4 582.9h0M743.9 588.9h0M745.3 596.2h0M746.8 604.8h0M748.2 612.1h0M749.7 619.7h0M751.1 627.3h0M752.5 634.1h0M754 639h0M755.4 646.8h0M756.9 655.1h0M758.3 662.5h0M759.8 671.2h0M761.2 678.4h0M762.7 685.9h0M764.1 695.1h0M765.6 703.5h0M767 709.8h0M768.5 717.5h0M769.9 726.8h0M771.4 735h0M772.8 743.3h0M774.3 751.7h0M775.7 761.3h0M777.2 771h0M778.6 779.2h0M780.1 785.6h0M781.5 794.5h0M783 803h0M784.4 810.4h0M785.9 820.5h0M787.3 828.7h0M788.8 836.6h0M790.2 845h0M791.7 851.6h0M793.1 859.6h0M794.6 867.3h0M796 875.6h0M797.5 885.1h0M798.9 893.4h0M800.4 900.2h0M801.8 909.5h0M803.3 919.7h0M804.7 928.1h0M806.2 937.5h0M807.6 946.1h0M809.1 955.7h0M810.5 966.7h0M812 977.8h0M813.4 987.5h0M814.9 996.1h0M816.3 1004.5h0M817.8 1012.6h0M819.2 1021.9h0M820.7 1030.2h0M822.1 1036.7h0M823.6 1042.2h0M825 1047.7h0M826.5 1055.9h0M827.9 1063.9h0M829.4 1070.3h0M830.8 1075.7h0M832.3 1079.9h0M833.7 1083.6h0M835.2 1088.1h0M836.6 1092.1h0M838.1 1097.2h0M839.5 1103.4h0M841 1108.3h0M842.4 1111h0M843.9 1113.5h0M845.3 1119.9h0M846.8 1126.2h0M848.2 1129.7h0M849.7 1134.7h0M851.1 1142.1h0M852.6 1148.5h0M854 1154.9h0M855.5 1161.5h0M856.9 1167.1h0M858.4 1173.5h0M859.8 1179.8h0M861.3 1186.1h0M862.7 1190.8h0M864.2 1195.4h0M865.6 1201.5h0M867 1207h0M868.5 1213.2h0M869.9 1219.2h0M871.4 1222.7h0M872.8 1228.3h0M874.3 1235.4h0M875.7 1239.9h0M877.2 1244.5h0M878.6 1249.6h0M880.1 1254.5h0M881.5 1257.3h0M883 1261.1h0M884.4 1266.8h0M885.9 1271.6h0M887.3 1275.9h0M888.8 1281h0M890.2 1284.9h0M891.7 1288.2h0M893.1 1292.4h0M894.6 1297h0M896 1301.9h0M897.5 1305h0M898.9 1308.6h0M900.4 1312.3h0M901.8 1316.2h0M903.3 1318.1h0M904.7 1320.1h0M906.2 1325.3h0M907.6 1327.8h0M909.1 1328.9h0M910.5 1331.2h0M912 1334.8h0M913.4 1337.5h0M914.9 1340.3h0M916.3 1343h0M917.8 1344.2h0M919.2 1346.1h0M920.7 1349.1h0M922.1 1352.3h0M923.6 1353.6h0M925 1354.3h0M926.5 1356.2h0M927.9 1359.6h0M929.4 1363.9h0M930.8 1365.4h0M932.3 1366.9h0M933.7 1369.3h0M935.2 1371.8h0M936.6 1373.4h0M938.1 1375.6h0M939.5 1378.1h0M941 1379.5h0M942.4 1382.9h0M943.9 1385.6h0M945.3 1387.5h0M946.8 1390.1h0M948.2 1392.3h0M949.7 1394.8h0M951.1 1396.8h0M952.6 1396.8h0M954 1397.7h0M955.5 1399.4h0M956.9 1400.5h0M958.4 1403.5h0M959.8 1404.6h0M961.3 1405.5h0M962.7 1408.4h0M964.2 1410.6h0M965.6 1410.8h0M967.1 1410.4h0M968.5 1411.9h0M970 1412.8h0M971.4 1415.2h0M972.9 1418.3h0M974.3 1416.9h0M975.8 1416.8h0M977.2 1420.9h0M978.7 1422h0M980.1 1422.3h0M981.5 1424.7h0M983 1426.8h0M984.4 1428.3h0M985.9 1429.8h0M987.3 1432.7h0M988.8 1432.6h0M990.2 1432.4h0M991.7 1434.5h0M993.1 1436.3h0M994.6 1437.9h0M996 1439.2h0M997.5 1440.6h0M998.9 1442.9h0M1000.4 1443.6h0M1001.8 1440.8h0M1003.3 1444.7h0M1004.7 1445.7h0M1006.2 1445.7h0M1007.6 1445h0M1009.1 1446.6h0M1010.5 1449.4h0M1012 1450h0M1013.4 1449.8h0M1014.9 1449.1h0M1016.3 1450h0M1017.8 1453.8h0M1019.2 1453.4h0M1020.7 1452.6h0M1022.1 1456.2h0M1023.6 1458.2h0M1025 1459.1h0M1026.5 1456.9h0M1027.9 1458.1h0M1029.4 1458.1h0M1030.8 1459.8h0M1032.3 1462.9h0M1033.7 1461.4h0M1035.2 1461.8h0M1036.6 1464.5h0M1038.1 1463.8h0M1039.5 1466.3h0M1041 1468.5h0M1042.4 1469.1h0M1043.9 1471.2h0M1045.3 1472.5h0M1046.8 1471.5h0M1048.2 1470.9h0M1049.7 1473.2h0M1051.1 1471.9h0M1052.6 1473.8h0M1054 1475.1h0M1055.5 1473.6h0M1056.9 1474.3h0M1058.4 1474.9h0M1059.8 1475.5h0M1061.3 1477.1h0M1062.7 1479.5h0M1064.2 1480.1h0M1065.6 1478.1h0M1067.1 1479.8h0M1068.5 1481h0M1070 1479.2h0M1071.4 1478.5h0M1072.9 1482.8h0M1074.3 1484.8h0M1075.8 1485.2h0M1077.2 1484.5h0M1078.7 1481.4h0M1080.1 1485.6h0M1081.6 1487.3h0M1083 1485.2h0M1084.5 1485.8h0M1085.9 1485.1h0M1087.4 1487.4h0M1088.8 1487.6h0M1090.3 1487.7h0M1091.7 1488.4h0M1093.2 1491.4h0M1094.6 1494.2h0M1096 1492.6h0M1097.5 1489.7h0M1098.9 1489h0M1100.4 1490.8h0M1101.8 1489.4h0M1103.3 1489.4h0M1104.7 1491.9h0M1106.2 1493.4h0M1107.6 1491.8h0M1109.1 1491.1h0M1110.5 1491.1h0M1112 1491.4h0M1113.4 1492.1h0M1114.9 1491.5h0M1116.3 1490.8h0M1117.8 1489.5h0M1119.2 1490.8h0M1120.7 1494.8h0M1122.1 1494.4h0M1123.6 1495.6h0M1125 1495.4h0M1126.5 1493.7h0M1127.9 1496.5h0M1129.4 1496.9h0M1130.8 1494.4h0M1132.3 1494.7h0M1133.7 1495.3h0M1135.2 1496.5h0M1136.6 1498.2h0M1138.1 1496.5h0M1139.5 1496.3h0M1141 1499.1h0M1142.4 1500.1h0M1143.9 1499h0M1145.3 1497.3h0M1146.8 1495.5h0M1148.2 1494.9h0M1149.7 1497.2h0M1151.1 1496.9h0M1152.6 1496.2h0M1154 1500h0M1155.5 1497.4h0M1156.9 1495.8h0M1158.4 1496.7h0M1159.8 1496.2h0M1161.3 1498.4h0M1162.7 1497.4h0M1164.2 1495h0M1165.6 1495.9h0M1167.1 1498.1h0M1168.5 1498.2h0M1170 1496.8h0M1171.4 1498.4h0M1172.9 1498.3h0M1174.3 1495.5h0M1175.8 1497.3h0M1177.2 1502.3h0M1178.7 1501.6h0M1180.1 1498.6h0M1181.6 1498h0M1183 1497.4h0M1184.5 1497.4h0M1185.9 1498.7h0M1187.4 1499.5h0M1188.8 1498.1h0M1190.3 1500.4h0M1191.7 1499.6h0M1193.2 1499.7h0M1194.6 1501.6h0M1196.1 1499.2h0M1197.5 1499.5h0M1199 1500.5h0M1200.4 1501h0M1201.9 1501.2h0M1203.3 1503.5h0M1204.8 1505.3h0M1206.2 1504.4h0M1207.6 1501.4h0M1209.1 1499.5h0M1210.5 1502.9h0M1212 1504.3h0M1213.4 1502.8h0M1214.9 1502h0M1216.3 1503.5h0M1217.8 1501.2h0M1219.2 1498.7h0M1220.7 1499.5h0M1222.1 1502.3h0M1223.6 1502.5h0M1225 1500.6h0M1226.5 1504.5h0M1227.9 1504.5h0M1229.4 1503.2h0M1230.8 1503.8h0M1232.3 1504.4h0M1233.7 1507.5h0M1235.2 1505.1h0M1236.6 1502.2h0M1238.1 1506.1h0M1239.5 1509.5h0M1241 1507.1h0M1242.4 1505.9h0M1243.9 1507.2h0M1245.3 1506.3h0M1246.8 1503.6h0M1248.2 1500.6h0M1249.7 1502.9h0M1251.1 1505.1h0M1252.6 1504.9h0M1254 1503.5h0M1255.5 1505.8h0M1256.9 1507.3h0M1258.4 1509.1h0M1259.8 1509.2h0M1261.3 1506.1h0M1262.7 1507.6h0M1264.2 1506.8h0M1265.6 1504.5h0M1267.1 1504.3h0M1268.5 1505.9h0M1270 1506.1h0M1271.4 1508.9h0M1272.9 1509h0M1274.3 1507.5h0M1275.8 1509.5h0M1277.2 1508.8h0M1278.7 1506.4h0M1280.1 1507h0M1281.6 1509.9h0M1283 1509.6h0M1284.5 1508.5h0M1285.9 1505.4h0M1287.4 1504.1h0M1288.8 1506.9h0M1290.3 1508.8h0M1291.7 1510.2h0M1293.2 1509.7h0M1294.6 1509h0M1296.1 1508.2h0M1297.5 1509h0M1299 1511.5h0M1300.4 1510.6h0M1301.9 1511.1h0M1303.3 1511h0M1304.8 1509.2h0M1306.2 1509.3h0M1307.7 1512.9h0M1309.1 1511.2h0M1310.6 1508.9h0M1312 1510.8h0M1313.5 1510.8h0M1314.9 1509.4h0M1316.4 1510.4h0M1317.8 1513.5h0M1319.3 1512.3h0M1320.7 1510.9h0M1322.1 1511.5h0M1323.6 1513.6h0M1325 1511.5h0M1326.5 1512.3h0M1327.9 1514.1h0M1329.4 1513.5h0M1330.8 1512.9h0M1332.3 1514.6h0M1333.7 1516.2h0M1335.2 1516.1h0M1336.6 1515.1h0M1338.1 1512h0M1339.5 1514.5h0M1341 1516.5h0M1342.4 1515.5h0M1343.9 1516.4h0M1345.3 1516.7h0M1346.8 1514.7h0M1348.2 1511.7h0M1349.7 1509.1h0M1351.1 1512.7h0M1352.6 1516.7h0M1354 1514.8h0M1355.5 1514.9h0M1356.9 1515.9h0M1358.4 1515.4h0M1359.8 1517.1h0M1361.3 1515.1h0M1362.7 1514.4h0M1364.2 1517.3h0M1365.6 1516.7h0M1367.1 1516.4h0M1368.5 1515.2h0M1370 1515.3h0M1371.4 1517.8h0M1372.9 1518.8h0M1374.3 1517.1h0M1375.8 1517.2h0M1377.2 1518.7h0M1378.7 1518.6h0M1380.1 1518.3h0M1381.6 1518.3h0M1383 1518.8h0M1384.5 1521.3h0M1385.9 1520.7h0M1387.4 1519.1h0M1388.8 1519.6h0M1390.3 1516.1h0M1391.7 1516.9h0M1393.2 1520.6h0M1394.6 1521.1h0M1396.1 1520.6h0M1397.5 1518.6h0M1399 1518h0M1400.4 1517.3h0M1401.9 1519.4h0M1403.3 1523.5h0M1404.8 1519.8h0M1406.2 1517.2h0M1407.7 1517.1h0M1409.1 1516.7h0M1410.6 1517.8h0M1412 1517.4h0M1413.5 1517.4h0M1414.9 1520h0M1416.4 1520.3h0M1417.8 1520.5h0M1419.3 1520.8h0M1420.7 1520h0M1422.2 1518.6h0M1423.6 1519.8h0M1425.1 1520.1h0M1426.5 1518.4h0M1428 1518.3h0M1429.4 1519.6h0M1430.9 1520h0M1432.3 1520.1h0M1433.8 1524.3h0M1435.2 1524.1h0M1436.6 1518.5h0M1438.1 1519.4h0M1439.5 1522.8h0M1441 1522.4h0M1442.4 1522.8h0M1443.9 1523.6h0M1445.3 1524.5h0M1446.8 1523h0M1448.2 1520h0M1449.7 1520h0M1451.1 1522.9h0M1452.6 1520.5h0M1454 1519.8h0M1455.5 1519.9h0M1456.9 1521.3h0M1458.4 1526.4h0M1459.8 1526.2h0M1461.3 1523.2h0M1462.7 1523.1h0M1464.2 1525.6h0M1465.6 1526.9h0M1467.1 1527.1h0M1468.5 1526.4h0M1470 1523.2h0M1471.4 1521.6h0M1472.9 1523.7h0M1474.3 1524h0M1475.8 1520.7h0M1477.2 1520.5h0M1478.7 1522.3h0M1480.1 1522.9h0M1481.6 1524.4h0M1483 1522.2h0M1484.5 1520.8h0M1485.9 1523.1h0M1487.4 1522.7h0M1488.8 1522.5h0M1490.3 1522.9h0M1491.7 1522h0M1493.2 1524.5h0M1494.6 1525.3h0M1496.1 1523.4h0M1497.5 1525.8h0M1499 1526.2h0M1500.4 1524.1h0M1501.9 1524.6h0M1503.3 1528.9h0M1504.8 1529.8h0M1506.2 1526.9h0M1507.7 1525.6h0M1509.1 1525.7h0M1510.6 1527.8h0M1512 1525.1h0M1513.5 1524.2h0M1514.9 1528.1h0M1516.4 1530.1h0M1517.8 1528.3h0M1519.3 1529h0M1520.7 1527.8h0M1522.2 1526.2h0M1523.6 1527.9h0M1525.1 1525.1h0M1526.5 1525.8h0M1528 1525.6h0M1529.4 1523.4h0M1530.9 1525.1h0M1532.3 1524.4h0M1533.8 1526.2h0M1535.2 1527.3h0M1536.7 1524.1h0M1538.1 1525.1h0M1539.6 1526.9h0M1541 1525.1h0M1542.5 1524.4h0M1543.9 1527.2h0M1545.4 1529.1h0M1546.8 1525.8h0M1548.3 1526.1h0M1549.7 1529.7h0M1551.1 1530h0M1552.6 1528.1h0M1554 1525.5h0M1555.5 1526.1h0M1556.9 1526.3h0M1558.4 1526.2h0M1559.8 1526.3h0M1561.3 1526.3h0M1562.7 1526.6h0M1564.2 1527.1h0M1565.6 1528h0M1567.1 1527.7h0M1568.5 1526.8h0M1570 1529.4h0M1571.4 1531.4h0M1572.9 1530h0M1574.3 1527.6h0M1575.8 1527.8h0M1577.2 1528.9h0M1578.7 1528.9h0M1580.1 1529.5h0M1581.6 1532.2h0M1583 1531.9h0M1584.5 1527.2h0M1585.9 1528.7h0M1587.4 1531.7h0M1588.8 1532.1h0M1590.3 1527.1h0M1591.7 1524h0M1593.2 1526.5h0M1594.6 1525.6h0M1596.1 1526.9h0M1597.5 1530.1h0M1599 1531.5h0M1600.4 1531.9h0M1601.9 1530.5h0M1603.3 1531.4h0M1604.8 1531.8h0M1606.2 1525.9h0M1607.7 1525.2h0M1609.1 1528h0M1610.6 1528.9h0M1612 1529.4h0M1613.5 1528.6h0M1614.9 1531.1h0M1616.4 1530.6h0M1617.8 1526.9h0M1619.3 1528.3h0M1620.7 1531.1h0M1622.2 1530.6h0M1623.6 1529.8h0M1625.1 1529.2h0M1626.5 1527.5h0M1628 1527.3h0M1629.4 1527.7h0M1630.9 1530.4h0M1632.3 1531.6h0M1633.8 1531.9h0M1635.2 1532.1h0M1636.7 1529h0M1638.1 1529.5h0M1639.6 1531.1h0M1641 1532.7h0M1642.5 1529.7h0M1643.9 1527.4h0M1645.4 1530.8h0M1646.8 1530.4h0M1648.3 1530h0M1649.7 1530.7h0M1651.2 1532.6h0M1652.6 1534.7h0M1654.1 1530h0M1655.5 1526.3h0M1657 1528.1h0M1658.4 1530.1h0M1659.9 1531.1h0M1661.3 1530.5h0M1662.7 1531.6h0M1664.2 1533.6h0M1665.6 1532.9h0M1667.1 1531.4h0M1668.5 1531.4h0M1670 1530.7h0M1671.4 1531.8h0M1672.9 1534.2h0M1674.3 1531.8h0M1675.8 1532.7h0M1677.2 1534h0M1678.7 1533.2h0M1680.1 1533.3h0M1681.6 1532h0M1683 1533h0M1684.5 1532h0M1685.9 1530.7h0M1687.4 1530.5h0M1688.8 1531.6h0M1690.3 1532.9h0M1691.7 1531.9h0M1693.2 1531.5h0M1694.6 1532.9h0M1696.1 1534h0M1697.5 1532.9h0M1699 1532h0M1700.4 1534.8h0M1701.9 1537.5h0M1703.3 1533.6h0M1704.8 1533.3h0M1706.2 1535.6h0M1707.7 1534.4h0M1709.1 1534.3h0M1710.6 1532.1h0M1712 1534.9h0M1713.5 1539.6h0M1714.9 1536.4h0M1716.4 1533.7h0M1717.8 1533.9h0M1719.3 1533h0M1720.7 1533.6h0M1722.2 1534.5h0M1723.6 1532.3h0M1725.1 1531.8h0M1726.5 1532.4h0M1728 1532.3h0M1729.4 1532.7h0M1730.9 1534.5h0M1732.3 1534.4h0M1733.8 1531.4h0M1735.2 1534h0M1736.7 1535.4h0M1738.1 1535.5h0M1739.6 1536.6h0M1741 1535.5h0M1742.5 1534h0M1743.9 1533.5h0M1745.4 1534.2h0M1746.8 1534h0M1748.3 1535.2h0M1749.7 1534.8h0M1751.2 1535.4h0M1752.6 1534h0M1754.1 1531.5h0M1755.5 1534h0M1757 1536.3h0M1758.4 1537.2h0M1759.9 1538.7h0M1761.3 1537.9h0M1762.8 1536.8h0M1764.2 1536.6h0M1765.7 1535.8h0M1767.1 1535.4h0M1768.6 1535.4h0M1770 1534.8h0M1771.5 1534.5h0M1772.9 1536.4h0M1774.4 1537.4h0M1775.8 1537.9h0M1777.2 1536.6h0M1778.7 1534.6h0M1780.1 1535.9h0M1781.6 1535.3h0M1783 1533.5h0M1784.5 1535.6h0M1785.9 1536.4h0M1787.4 1536.8h0M1788.8 1537.3h0M1790.3 1535.6h0M1791.7 1534.1h0M1793.2 1536.4h0M1794.6 1537.7h0M1796.1 1534.9h0M1797.5 1533h0M1799 1532.6h0M1800.4 1534.1h0M1801.9 1537.5h0M1803.3 1536.9h0M1804.8 1535.6h0M1806.2 1537.2h0M1807.7 1532.3h0M1809.1 1530.3h0M1810.6 1536h0M1812 1534.9h0M1813.5 1535.4h0M1814.9 1538.2h0M1816.4 1534.5h0M1817.8 1537h0M1819.3 1539.2h0M1820.7 1538.8h0M1822.2 1539.3h0M1823.6 1536.2h0M1825.1 1537.5h0M1826.5 1541h0M1828 1541.2h0M1829.4 1537.2h0M1830.9 1536.4h0M1832.3 1536.4h0M1833.8 1534.8h0M1835.2 1538.3h0M1836.7 1537.2h0M1838.1 1538.8h0M1839.6 1538.7h0M1841 1533.5h0M1842.5 1536.7h0M1843.9 1538.2h0M1845.4 1537.1h0M1846.8 1536.1h0M1848.3 1537.3h0M1849.7 1539h0M1851.2 1537.9h0M1852.6 1536.5h0M1854.1 1534.6h0M1855.5 1535.7h0M1857 1534.8h0M1858.4 1534h0M1859.9 1537.9h0M1861.3 1539.8h0M1862.8 1538.4h0M1864.2 1533.9h0M1865.7 1535.3h0M1867.1 1540.1h0M1868.6 1539.4h0M1870 1540h0M1871.5 1541.4h0M1872.9 1537.4h0M1874.4 1535.7h0M1875.8 1537.4h0M1877.3 1539.9h0M1878.7 1542h0M1880.2 1540.1h0M1881.6 1539.4h0M1883.1 1540.5h0M1884.5 1538.8h0M1886 1537.4h0M1887.4 1538.3h0M1888.9 1538h0M1890.3 1537.7h0M1207.2 1471h0M1211 1481h0M617.6 318h0" stroke="#000" stroke-width="19" stroke-linecap="round" fill="none"/><g fill="#fff" stroke="#808080" stroke-width="2.8"><rect x="289.8" y="348" width="12.4" height="12.4"/><rect x="291.2" y="347" width="12.4" height="12.4"/><rect x="292.7" y="347.7" width="12.4" height="12.4"/><rect x="294.1" y="348.8" width="12.4" height="12.4"/><rect x="295.6" y="349.7" width="12.4" height="12.4"/><rect x="297" y="346.5" width="12.4" height="12.4"/><rect x="298.5" y="345.2" width="12.4" height="12.4"/><rect x="299.9" y="349.2" width="12.4" height="12.4"/><rect x="301.4" y="350.1" width="12.4" height="12.4"/><rect x="302.8" y="347" width="12.4" height="12.4"/><rect x="304.3" y="345.7" width="12.4" height="12.4"/><rect x="305.7" y="346.7" width="12.4" height="12.4"/><rect x="307.2" y="349" width="12.4" height="12.4"/><rect x="308.6" y="352" width="12.4" height="12.4"/><rect x="310.1" y="349.5" width="12.4" height="12.4"/><rect x="311.5" y="348.1" width="12.4" height="12.4"/><rect x="313" y="349.1" width="12.4" height="12.4"/><rect x="314.4" y="349.2" width="12.4" height="12.4"/><rect x="315.9" y="349.3" width="12.4" height="12.4"/><rect x="317.3" y="347.3" width="12.4" height="12.4"/><rect x="318.8" y="346.9" width="12.4" height="12.4"/><rect x="320.2" y="347.4" width="12.4" height="12.4"/><rect x="321.7" y="349.9" width="12.4" height="12.4"/><rect x="323.1" y="349.8" width="12.4" height="12.4"/><rect x="324.6" y="348.8" width="12.4" height="12.4"/><rect x="326" y="348.7" width="12.4" height="12.4"/><rect x="327.5" y="347.3" width="12.4" height="12.4"/><rect x="328.9" y="348.6" width="12.4" height="12.4"/><rect x="330.4" y="348.7" width="12.4" height="12.4"/><rect x="331.8" y="350.8" width="12.4" height="12.4"/><rect x="333.3" y="353" width="12.4" height="12.4"/><rect x="334.7" y="349.4" width="12.4" height="12.4"/><rect x="336.2" y="348.5" width="12.4" height="12.4"/><rect x="337.6" y="351.6" width="12.4" height="12.4"/><rect x="339.1" y="349.7" width="12.4" height="12.4"/><rect x="340.5" y="347.5" width="12.4" height="12.4"/><rect x="342" y="350.6" width="12.4" height="12.4"/><rect x="343.4" y="350.2" width="12.4" height="12.4"/><rect x="344.9" y="349.3" width="12.4" height="12.4"/><rect x="346.3" y="350.2" width="12.4" height="12.4"/><rect x="347.8" y="349.7" width="12.4" height="12.4"/><rect x="349.2" y="348.6" width="12.4" height="12.4"/><rect x="350.7" y="348.4" width="12.4" height="12.4"/><rect x="352.1" y="349.1" width="12.4" height="12.4"/><rect x="353.6" y="351.3" width="12.4" height="12.4"/><rect x="355" y="352.6" width="12.4" height="12.4"/><rect x="356.5" y="350.7" width="12.4" height="12.4"/><rect x="357.9" y="350" width="12.4" height="12.4"/><rect x="359.4" y="350.7" width="12.4" height="12.4"/><rect x="360.8" y="348.9" width="12.4" height="12.4"/><rect x="362.3" y="347" width="12.4" height="12.4"/><rect x="363.7" y="347.8" width="12.4" height="12.4"/><rect x="365.2" y="348.1" width="12.4" height="12.4"/><rect x="366.6" y="347.3" width="12.4" height="12.4"/><rect x="368.1" y="348.9" width="12.4" height="12.4"/><rect x="369.5" y="350.3" width="12.4" height="12.4"/><rect x="371" y="351.2" width="12.4" height="12.4"/><rect x="372.4" y="351.6" width="12.4" height="12.4"/><rect x="373.9" y="349.8" width="12.4" height="12.4"/><rect x="375.3" y="350.5" width="12.4" height="12.4"/><rect x="376.8" y="351.5" width="12.4" height="12.4"/><rect x="378.2" y="350.7" width="12.4" height="12.4"/><rect x="379.7" y="350.9" width="12.4" height="12.4"/><rect x="381.1" y="352.7" width="12.4" height="12.4"/><rect x="382.6" y="351.6" width="12.4" height="12.4"/><rect x="384" y="351.6" width="12.4" height="12.4"/><rect x="385.5" y="352" width="12.4" height="12.4"/><rect x="386.9" y="351.5" width="12.4" height="12.4"/><rect x="388.4" y="351.8" width="12.4" height="12.4"/><rect x="389.8" y="350.4" width="12.4" height="12.4"/><rect x="391.3" y="350.8" width="12.4" height="12.4"/><rect x="392.7" y="350" width="12.4" height="12.4"/><rect x="394.2" y="347.8" width="12.4" height="12.4"/><rect x="395.6" y="349.1" width="12.4" height="12.4"/><rect x="397.1" y="350.7" width="12.4" height="12.4"/><rect x="398.5" y="349.5" width="12.4" height="12.4"/><rect x="400" y="352.3" width="12.4" height="12.4"/><rect x="401.4" y="354.1" width="12.4" height="12.4"/><rect x="402.9" y="350.8" width="12.4" height="12.4"/><rect x="404.3" y="351" width="12.4" height="12.4"/><rect x="405.7" y="352.5" width="12.4" height="12.4"/><rect x="407.2" y="351.5" width="12.4" height="12.4"/><rect x="408.6" y="350.6" width="12.4" height="12.4"/><rect x="410.1" y="349" width="12.4" height="12.4"/><rect x="411.5" y="349.6" width="12.4" height="12.4"/><rect x="413" y="353.9" width="12.4" height="12.4"/><rect x="414.4" y="355" width="12.4" height="12.4"/><rect x="415.9" y="354.1" width="12.4" height="12.4"/><rect x="417.3" y="352.1" width="12.4" height="12.4"/><rect x="418.8" y="349.7" width="12.4" height="12.4"/><rect x="420.2" y="351.4" width="12.4" height="12.4"/><rect x="421.7" y="353" width="12.4" height="12.4"/><rect x="423.1" y="351.8" width="12.4" height="12.4"/><rect x="424.6" y="351.2" width="12.4" height="12.4"/><rect x="426" y="352.5" width="12.4" height="12.4"/><rect x="427.5" y="353.6" width="12.4" height="12.4"/><rect x="428.9" y="352" width="12.4" height="12.4"/><rect x="430.4" y="351.2" width="12.4" height="12.4"/><rect x="431.8" y="349.9" width="12.4" height="12.4"/><rect x="433.3" y="348.7" width="12.4" height="12.4"/><rect x="434.7" y="351.3" width="12.4" height="12.4"/><rect x="436.2" y="352.1" width="12.4" height="12.4"/><rect x="437.6" y="350.5" width="12.4" height="12.4"/><rect x="439.1" y="351.4" width="12.4" height="12.4"/><rect x="440.5" y="353.8" width="12.4" height="12.4"/><rect x="442" y="352.6" width="12.4" height="12.4"/><rect x="443.4" y="350.8" width="12.4" height="12.4"/><rect x="444.9" y="351.5" width="12.4" height="12.4"/><rect x="446.3" y="354.7" width="12.4" height="12.4"/><rect x="447.8" y="356.2" width="12.4" height="12.4"/><rect x="449.2" y="353.7" width="12.4" height="12.4"/><rect x="450.7" y="350.9" width="12.4" height="12.4"/><rect x="452.1" y="351.5" width="12.4" height="12.4"/><rect x="453.6" y="353.8" width="12.4" height="12.4"/><rect x="455" y="352.8" width="12.4" height="12.4"/><rect x="456.5" y="351.3" width="12.4" height="12.4"/><rect x="457.9" y="351" width="12.4" height="12.4"/><rect x="459.4" y="350" width="12.4" height="12.4"/><rect x="460.8" y="350.1" width="12.4" height="12.4"/><rect x="462.3" y="351.5" width="12.4" height="12.4"/><rect x="463.7" y="350.9" width="12.4" height="12.4"/><rect x="465.2" y="351.1" width="12.4" height="12.4"/><rect x="466.6" y="350.3" width="12.4" height="12.4"/><rect x="468.1" y="352" width="12.4" height="12.4"/><rect x="469.5" y="353.6" width="12.4" height="12.4"/><rect x="471" y="351" width="12.4" height="12.4"/><rect x="472.4" y="352.1" width="12.4" height="12.4"/><rect x="473.9" y="354.1" width="12.4" height="12.4"/><rect x="475.3" y="352.6" width="12.4" height="12.4"/><rect x="476.8" y="350.5" width="12.4" height="12.4"/><rect x="478.2" y="351" width="12.4" height="12.4"/><rect x="479.7" y="353.1" width="12.4" height="12.4"/><rect x="481.1" y="353.9" width="12.4" height="12.4"/><rect x="482.6" y="354.4" width="12.4" height="12.4"/><rect x="484" y="354.7" width="12.4" height="12.4"/><rect x="485.5" y="352" width="12.4" height="12.4"/><rect x="486.9" y="351.1" width="12.4" height="12.4"/><rect x="488.4" y="350.7" width="12.4" height="12.4"/><rect x="489.8" y="351.7" width="12.4" height="12.4"/><rect x="491.3" y="354.3" width="12.4" height="12.4"/><rect x="492.7" y="354.3" width="12.4" height="12.4"/><rect x="494.2" y="353.9" width="12.4" height="12.4"/><rect x="495.6" y="352.8" width="12.4" height="12.4"/><rect x="497.1" y="352.1" width="12.4" height="12.4"/><rect x="498.5" y="349" width="12.4" height="12.4"/><rect x="500" y="349.4" width="12.4" height="12.4"/><rect x="501.4" y="355.5" width="12.4" height="12.4"/><rect x="502.9" y="357.2" width="12.4" height="12.4"/><rect x="504.3" y="354" width="12.4" height="12.4"/><rect x="505.8" y="353" width="12.4" height="12.4"/><rect x="507.2" y="353.8" width="12.4" height="12.4"/><rect x="508.7" y="352.7" width="12.4" height="12.4"/><rect x="510.1" y="352.2" width="12.4" height="12.4"/><rect x="511.6" y="353.3" width="12.4" height="12.4"/><rect x="513" y="352.8" width="12.4" height="12.4"/><rect x="514.5" y="352.9" width="12.4" height="12.4"/><rect x="515.9" y="354.9" width="12.4" height="12.4"/><rect x="517.4" y="355.3" width="12.4" height="12.4"/><rect x="518.8" y="354.3" width="12.4" height="12.4"/><rect x="520.2" y="353.1" width="12.4" height="12.4"/><rect x="521.7" y="353.7" width="12.4" height="12.4"/><rect x="523.1" y="353.3" width="12.4" height="12.4"/><rect x="524.6" y="351.7" width="12.4" height="12.4"/><rect x="526" y="353.8" width="12.4" height="12.4"/><rect x="527.5" y="354.1" width="12.4" height="12.4"/><rect x="528.9" y="351.2" width="12.4" height="12.4"/><rect x="530.4" y="352.6" width="12.4" height="12.4"/><rect x="531.8" y="354.9" width="12.4" height="12.4"/><rect x="533.3" y="355.3" width="12.4" height="12.4"/><rect x="534.7" y="354.4" width="12.4" height="12.4"/><rect x="536.2" y="354.4" width="12.4" height="12.4"/><rect x="537.6" y="354.4" width="12.4" height="12.4"/><rect x="539.1" y="352" width="12.4" height="12.4"/><rect x="540.5" y="351.9" width="12.4" height="12.4"/><rect x="542" y="353.4" width="12.4" height="12.4"/><rect x="543.4" y="352.4" width="12.4" height="12.4"/><rect x="544.9" y="351.9" width="12.4" height="12.4"/><rect x="546.3" y="353.5" width="12.4" height="12.4"/><rect x="547.8" y="353.2" width="12.4" height="12.4"/><rect x="549.2" y="353" width="12.4" height="12.4"/><rect x="550.7" y="353.5" width="12.4" height="12.4"/><rect x="552.1" y="352.5" width="12.4" height="12.4"/><rect x="553.6" y="353" width="12.4" height="12.4"/><rect x="555" y="354.6" width="12.4" height="12.4"/><rect x="556.5" y="352" width="12.4" height="12.4"/><rect x="557.9" y="350.6" width="12.4" height="12.4"/><rect x="559.4" y="353.9" width="12.4" height="12.4"/><rect x="560.8" y="355.2" width="12.4" height="12.4"/><rect x="562.3" y="352.2" width="12.4" height="12.4"/><rect x="563.7" y="352.1" width="12.4" height="12.4"/><rect x="565.2" y="355.9" width="12.4" height="12.4"/><rect x="566.6" y="356.7" width="12.4" height="12.4"/><rect x="568.1" y="356.1" width="12.4" height="12.4"/><rect x="569.5" y="355.1" width="12.4" height="12.4"/><rect x="571" y="354.4" width="12.4" height="12.4"/><rect x="572.4" y="353.3" width="12.4" height="12.4"/><rect x="573.9" y="353.4" width="12.4" height="12.4"/><rect x="575.3" y="357.4" width="12.4" height="12.4"/><rect x="576.8" y="357.5" width="12.4" height="12.4"/><rect x="578.2" y="353.9" width="12.4" height="12.4"/><rect x="579.7" y="354.7" width="12.4" height="12.4"/><rect x="581.1" y="353.6" width="12.4" height="12.4"/><rect x="582.6" y="355.7" width="12.4" height="12.4"/><rect x="584" y="358.8" width="12.4" height="12.4"/><rect x="585.5" y="356.1" width="12.4" height="12.4"/><rect x="586.9" y="355.1" width="12.4" height="12.4"/><rect x="588.4" y="354.6" width="12.4" height="12.4"/><rect x="589.8" y="355.3" width="12.4" height="12.4"/><rect x="591.3" y="356.5" width="12.4" height="12.4"/><rect x="592.7" y="354.8" width="12.4" height="12.4"/><rect x="594.2" y="356.1" width="12.4" height="12.4"/><rect x="595.6" y="357.7" width="12.4" height="12.4"/><rect x="597.1" y="355.6" width="12.4" height="12.4"/><rect x="598.5" y="357.3" width="12.4" height="12.4"/><rect x="600" y="359.6" width="12.4" height="12.4"/><rect x="601.4" y="358.1" width="12.4" height="12.4"/><rect x="602.9" y="356.8" width="12.4" height="12.4"/><rect x="604.3" y="359" width="12.4" height="12.4"/><rect x="605.8" y="359.5" width="12.4" height="12.4"/><rect x="607.2" y="358.8" width="12.4" height="12.4"/><rect x="608.7" y="361.1" width="12.4" height="12.4"/><rect x="610.1" y="359.8" width="12.4" height="12.4"/><rect x="611.6" y="356.9" width="12.4" height="12.4"/><rect x="613" y="357.7" width="12.4" height="12.4"/><rect x="614.5" y="359.2" width="12.4" height="12.4"/><rect x="615.9" y="360.7" width="12.4" height="12.4"/><rect x="617.4" y="362.9" width="12.4" height="12.4"/><rect x="618.8" y="362.9" width="12.4" height="12.4"/><rect x="620.3" y="364.3" width="12.4" height="12.4"/><rect x="621.7" y="365.6" width="12.4" height="12.4"/><rect x="623.2" y="362" width="12.4" height="12.4"/><rect x="624.6" y="362.3" width="12.4" height="12.4"/><rect x="626.1" y="366" width="12.4" height="12.4"/><rect x="627.5" y="368" width="12.4" height="12.4"/><rect x="629" y="367" width="12.4" height="12.4"/><rect x="630.4" y="366.3" width="12.4" height="12.4"/><rect x="631.8" y="370.3" width="12.4" height="12.4"/><rect x="633.3" y="371.3" width="12.4" height="12.4"/><rect x="634.7" y="368.4" width="12.4" height="12.4"/><rect x="636.2" y="367.2" width="12.4" height="12.4"/><rect x="637.6" y="368.4" width="12.4" height="12.4"/><rect x="639.1" y="371.3" width="12.4" height="12.4"/><rect x="640.5" y="371.2" width="12.4" height="12.4"/><rect x="642" y="373.1" width="12.4" height="12.4"/><rect x="643.4" y="374.2" width="12.4" height="12.4"/><rect x="644.9" y="372.1" width="12.4" height="12.4"/><rect x="646.3" y="374" width="12.4" height="12.4"/><rect x="647.8" y="376.5" width="12.4" height="12.4"/><rect x="649.2" y="376.6" width="12.4" height="12.4"/><rect x="650.7" y="378.5" width="12.4" height="12.4"/><rect x="652.1" y="379" width="12.4" height="12.4"/><rect x="653.6" y="379.4" width="12.4" height="12.4"/><rect x="655" y="380.3" width="12.4" height="12.4"/><rect x="656.5" y="382" width="12.4" height="12.4"/><rect x="657.9" y="383.4" width="12.4" height="12.4"/><rect x="659.4" y="382.9" width="12.4" height="12.4"/><rect x="660.8" y="384.4" width="12.4" height="12.4"/><rect x="662.3" y="385.4" width="12.4" height="12.4"/><rect x="663.7" y="386.5" width="12.4" height="12.4"/><rect x="665.2" y="387.5" width="12.4" height="12.4"/><rect x="666.6" y="388.7" width="12.4" height="12.4"/><rect x="668.1" y="390.1" width="12.4" height="12.4"/><rect x="669.5" y="390.1" width="12.4" height="12.4"/><rect x="671" y="391.4" width="12.4" height="12.4"/><rect x="672.4" y="393" width="12.4" height="12.4"/><rect x="673.9" y="392.4" width="12.4" height="12.4"/><rect x="675.3" y="392.4" width="12.4" height="12.4"/><rect x="676.8" y="392.1" width="12.4" height="12.4"/><rect x="677.8" y="377.8" width="12.4" height="12.4"/><rect x="677.8" y="386.8" width="12.4" height="12.4"/><rect x="677.8" y="394.8" width="12.4" height="12.4"/><rect x="678.2" y="387.9" width="12.4" height="12.4"/><rect x="679.7" y="379.6" width="12.4" height="12.4"/><rect x="681.1" y="370.7" width="12.4" height="12.4"/><rect x="682.6" y="364.2" width="12.4" height="12.4"/><rect x="684" y="363.2" width="12.4" height="12.4"/><rect x="685.5" y="365" width="12.4" height="12.4"/><rect x="686.9" y="366.1" width="12.4" height="12.4"/><rect x="688.4" y="364.9" width="12.4" height="12.4"/><rect x="689.8" y="365.7" width="12.4" height="12.4"/><rect x="691.3" y="369.5" width="12.4" height="12.4"/><rect x="692.7" y="372.1" width="12.4" height="12.4"/><rect x="694.2" y="373.5" width="12.4" height="12.4"/><rect x="695.6" y="374" width="12.4" height="12.4"/><rect x="697.1" y="373.9" width="12.4" height="12.4"/><rect x="698.5" y="376.5" width="12.4" height="12.4"/><rect x="700" y="380.6" width="12.4" height="12.4"/><rect x="701.4" y="381.5" width="12.4" height="12.4"/><rect x="702.9" y="382.6" width="12.4" height="12.4"/><rect x="704.3" y="384.1" width="12.4" height="12.4"/><rect x="705.8" y="385.2" width="12.4" height="12.4"/><rect x="707.2" y="386.9" width="12.4" height="12.4"/><rect x="708.7" y="389.4" width="12.4" height="12.4"/><rect x="710.1" y="390.8" width="12.4" height="12.4"/><rect x="711.6" y="392" width="12.4" height="12.4"/><rect x="713" y="395.4" width="12.4" height="12.4"/><rect x="714.5" y="397.2" width="12.4" height="12.4"/><rect x="715.9" y="397.6" width="12.4" height="12.4"/><rect x="717.4" y="400.2" width="12.4" height="12.4"/><rect x="718.8" y="403.6" width="12.4" height="12.4"/><rect x="720.3" y="404.9" width="12.4" height="12.4"/><rect x="721.7" y="407.7" width="12.4" height="12.4"/><rect x="723.2" y="411.4" width="12.4" height="12.4"/><rect x="724.6" y="415" width="12.4" height="12.4"/><rect x="726.1" y="417.8" width="12.4" height="12.4"/><rect x="727.5" y="420.3" width="12.4" height="12.4"/><rect x="729" y="424.1" width="12.4" height="12.4"/><rect x="730.4" y="425.2" width="12.4" height="12.4"/><rect x="731.9" y="428.3" width="12.4" height="12.4"/><rect x="733.3" y="432.6" width="12.4" height="12.4"/><rect x="734.8" y="433.7" width="12.4" height="12.4"/><rect x="736.2" y="436.6" width="12.4" height="12.4"/><rect x="737.7" y="441.1" width="12.4" height="12.4"/><rect x="739.1" y="443.3" width="12.4" height="12.4"/><rect x="740.6" y="445" width="12.4" height="12.4"/><rect x="742" y="449.8" width="12.4" height="12.4"/><rect x="743.5" y="454.8" width="12.4" height="12.4"/><rect x="744.9" y="458.6" width="12.4" height="12.4"/><rect x="746.3" y="460.7" width="12.4" height="12.4"/><rect x="747.8" y="461.7" width="12.4" height="12.4"/><rect x="749.2" y="464.5" width="12.4" height="12.4"/><rect x="750.7" y="468.9" width="12.4" height="12.4"/><rect x="752.1" y="473.1" width="12.4" height="12.4"/><rect x="753.6" y="478.3" width="12.4" height="12.4"/><rect x="755" y="485.8" width="12.4" height="12.4"/><rect x="756.5" y="490.7" width="12.4" height="12.4"/><rect x="757.9" y="496.7" width="12.4" height="12.4"/><rect x="759.4" y="502.4" width="12.4" height="12.4"/><rect x="760.8" y="506.1" width="12.4" height="12.4"/><rect x="762.3" y="511.1" width="12.4" height="12.4"/><rect x="763.7" y="517.6" width="12.4" height="12.4"/><rect x="765.2" y="524" width="12.4" height="12.4"/><rect x="766.6" y="528.7" width="12.4" height="12.4"/><rect x="768.1" y="531.6" width="12.4" height="12.4"/><rect x="769.5" y="536.4" width="12.4" height="12.4"/><rect x="771" y="544.5" width="12.4" height="12.4"/><rect x="772.4" y="548.2" width="12.4" height="12.4"/><rect x="773.9" y="555.2" width="12.4" height="12.4"/><rect x="775.3" y="563.5" width="12.4" height="12.4"/><rect x="776.8" y="568.7" width="12.4" height="12.4"/><rect x="778.2" y="574.4" width="12.4" height="12.4"/><rect x="779.7" y="580.6" width="12.4" height="12.4"/><rect x="781.1" y="588.5" width="12.4" height="12.4"/><rect x="782.6" y="596.9" width="12.4" height="12.4"/><rect x="784" y="602.2" width="12.4" height="12.4"/><rect x="785.5" y="609.3" width="12.4" height="12.4"/><rect x="786.9" y="617.1" width="12.4" height="12.4"/><rect x="788.4" y="623.4" width="12.4" height="12.4"/><rect x="789.8" y="632" width="12.4" height="12.4"/><rect x="791.3" y="640" width="12.4" height="12.4"/><rect x="792.7" y="646.9" width="12.4" height="12.4"/><rect x="794.2" y="655.1" width="12.4" height="12.4"/><rect x="795.6" y="664" width="12.4" height="12.4"/><rect x="797.1" y="672.3" width="12.4" height="12.4"/><rect x="798.5" y="682" width="12.4" height="12.4"/><rect x="800" y="690.8" width="12.4" height="12.4"/><rect x="801.4" y="699.4" width="12.4" height="12.4"/><rect x="802.9" y="709.4" width="12.4" height="12.4"/><rect x="804.3" y="718.8" width="12.4" height="12.4"/><rect x="805.8" y="727" width="12.4" height="12.4"/><rect x="807.2" y="736.6" width="12.4" height="12.4"/><rect x="808.7" y="744.6" width="12.4" height="12.4"/><rect x="810.1" y="751.9" width="12.4" height="12.4"/><rect x="811.6" y="760.4" width="12.4" height="12.4"/><rect x="813" y="767.6" width="12.4" height="12.4"/><rect x="814.5" y="775.5" width="12.4" height="12.4"/><rect x="815.9" y="782.4" width="12.4" height="12.4"/><rect x="817.4" y="788.1" width="12.4" height="12.4"/><rect x="818.8" y="795.4" width="12.4" height="12.4"/><rect x="820.3" y="802.1" width="12.4" height="12.4"/><rect x="821.7" y="808.9" width="12.4" height="12.4"/><rect x="823.2" y="815.4" width="12.4" height="12.4"/><rect x="824.6" y="819.9" width="12.4" height="12.4"/><rect x="826.1" y="827.7" width="12.4" height="12.4"/><rect x="827.5" y="835.9" width="12.4" height="12.4"/><rect x="829" y="842" width="12.4" height="12.4"/><rect x="830.4" y="847.9" width="12.4" height="12.4"/><rect x="831.9" y="854.1" width="12.4" height="12.4"/><rect x="833.3" y="859.8" width="12.4" height="12.4"/><rect x="834.8" y="866.6" width="12.4" height="12.4"/><rect x="836.2" y="874.5" width="12.4" height="12.4"/><rect x="837.7" y="881.3" width="12.4" height="12.4"/><rect x="839.1" y="888.6" width="12.4" height="12.4"/><rect x="840.6" y="897.6" width="12.4" height="12.4"/><rect x="842" y="910.5" width="12.4" height="12.4"/><rect x="843.5" y="923" width="12.4" height="12.4"/><rect x="844.9" y="933.5" width="12.4" height="12.4"/><rect x="846.4" y="943.7" width="12.4" height="12.4"/><rect x="847.8" y="955" width="12.4" height="12.4"/><rect x="849.3" y="965" width="12.4" height="12.4"/><rect x="850.7" y="973.7" width="12.4" height="12.4"/><rect x="852.2" y="983.1" width="12.4" height="12.4"/><rect x="853.6" y="992" width="12.4" height="12.4"/><rect x="855.1" y="1002.2" width="12.4" height="12.4"/><rect x="856.5" y="1011.6" width="12.4" height="12.4"/><rect x="858" y="1019.8" width="12.4" height="12.4"/><rect x="859.4" y="1029.1" width="12.4" height="12.4"/><rect x="860.8" y="1038" width="12.4" height="12.4"/><rect x="862.3" y="1046.8" width="12.4" height="12.4"/><rect x="863.7" y="1055.4" width="12.4" height="12.4"/><rect x="865.2" y="1061.4" width="12.4" height="12.4"/><rect x="866.6" y="1067.5" width="12.4" height="12.4"/><rect x="868.1" y="1076.5" width="12.4" height="12.4"/><rect x="869.5" y="1083.6" width="12.4" height="12.4"/><rect x="871" y="1089.9" width="12.4" height="12.4"/><rect x="872.4" y="1095.8" width="12.4" height="12.4"/><rect x="873.9" y="1099.4" width="12.4" height="12.4"/><rect x="875.3" y="1104.2" width="12.4" height="12.4"/><rect x="876.8" y="1111.3" width="12.4" height="12.4"/><rect x="878.2" y="1118.3" width="12.4" height="12.4"/><rect x="879.7" y="1126.1" width="12.4" height="12.4"/><rect x="881.1" y="1132.1" width="12.4" height="12.4"/><rect x="882.6" y="1135.5" width="12.4" height="12.4"/><rect x="884" y="1140.4" width="12.4" height="12.4"/><rect x="885.5" y="1143" width="12.4" height="12.4"/><rect x="886.9" y="1146.9" width="12.4" height="12.4"/><rect x="888.4" y="1152.8" width="12.4" height="12.4"/><rect x="889.8" y="1159" width="12.4" height="12.4"/><rect x="891.3" y="1163.3" width="12.4" height="12.4"/><rect x="892.7" y="1165.3" width="12.4" height="12.4"/><rect x="894.2" y="1171.1" width="12.4" height="12.4"/><rect x="895.6" y="1177.6" width="12.4" height="12.4"/><rect x="897.1" y="1183.4" width="12.4" height="12.4"/><rect x="898.5" y="1190.1" width="12.4" height="12.4"/><rect x="900" y="1196.9" width="12.4" height="12.4"/><rect x="901.4" y="1203.3" width="12.4" height="12.4"/><rect x="902.9" y="1209.9" width="12.4" height="12.4"/><rect x="904.3" y="1219.6" width="12.4" height="12.4"/><rect x="905.8" y="1226.3" width="12.4" height="12.4"/><rect x="907.2" y="1231.4" width="12.4" height="12.4"/><rect x="908.7" y="1237" width="12.4" height="12.4"/><rect x="910.1" y="1240.4" width="12.4" height="12.4"/><rect x="911.6" y="1246.6" width="12.4" height="12.4"/><rect x="913" y="1252.4" width="12.4" height="12.4"/><rect x="914.5" y="1256.8" width="12.4" height="12.4"/><rect x="915.9" y="1261.3" width="12.4" height="12.4"/><rect x="917.4" y="1264" width="12.4" height="12.4"/><rect x="918.8" y="1265.9" width="12.4" height="12.4"/><rect x="920.3" y="1270.6" width="12.4" height="12.4"/><rect x="921.7" y="1274.5" width="12.4" height="12.4"/><rect x="923.2" y="1277.7" width="12.4" height="12.4"/><rect x="924.6" y="1281.3" width="12.4" height="12.4"/><rect x="926.1" y="1283.1" width="12.4" height="12.4"/><rect x="927.5" y="1285.9" width="12.4" height="12.4"/><rect x="929" y="1288.4" width="12.4" height="12.4"/><rect x="930.4" y="1290.5" width="12.4" height="12.4"/><rect x="931.9" y="1294.9" width="12.4" height="12.4"/><rect x="933.3" y="1297.2" width="12.4" height="12.4"/><rect x="934.8" y="1292.1" width="12.4" height="12.4"/><rect x="936.2" y="1298.9" width="12.4" height="12.4"/><rect x="937.7" y="1304.7" width="12.4" height="12.4"/><rect x="939.1" y="1310.1" width="12.4" height="12.4"/><rect x="940.6" y="1314.9" width="12.4" height="12.4"/><rect x="942" y="1319" width="12.4" height="12.4"/><rect x="943.5" y="1323.4" width="12.4" height="12.4"/><rect x="944.9" y="1320.7" width="12.4" height="12.4"/><rect x="946.4" y="1323" width="12.4" height="12.4"/><rect x="947.8" y="1331.4" width="12.4" height="12.4"/><rect x="949.3" y="1334.2" width="12.4" height="12.4"/><rect x="950.7" y="1332.9" width="12.4" height="12.4"/><rect x="952.2" y="1337.9" width="12.4" height="12.4"/><rect x="953.6" y="1345.1" width="12.4" height="12.4"/><rect x="955.1" y="1353.1" width="12.4" height="12.4"/><rect x="956.5" y="1356.8" width="12.4" height="12.4"/><rect x="958" y="1358.7" width="12.4" height="12.4"/><rect x="959.4" y="1359.7" width="12.4" height="12.4"/><rect x="960.9" y="1365.6" width="12.4" height="12.4"/><rect x="962.3" y="1375.9" width="12.4" height="12.4"/><rect x="963.8" y="1370.3" width="12.4" height="12.4"/><rect x="965.2" y="1366.4" width="12.4" height="12.4"/><rect x="966.7" y="1370.5" width="12.4" height="12.4"/><rect x="968.1" y="1373" width="12.4" height="12.4"/><rect x="969.6" y="1374.7" width="12.4" height="12.4"/><rect x="971" y="1373.6" width="12.4" height="12.4"/><rect x="972.5" y="1372.5" width="12.4" height="12.4"/><rect x="973.9" y="1375.2" width="12.4" height="12.4"/><rect x="975.3" y="1381.4" width="12.4" height="12.4"/><rect x="976.8" y="1388.4" width="12.4" height="12.4"/><rect x="978.2" y="1392.1" width="12.4" height="12.4"/><rect x="979.7" y="1389.3" width="12.4" height="12.4"/><rect x="981.1" y="1387.2" width="12.4" height="12.4"/><rect x="982.6" y="1385.6" width="12.4" height="12.4"/><rect x="984" y="1391.7" width="12.4" height="12.4"/><rect x="985.5" y="1398.7" width="12.4" height="12.4"/><rect x="986.9" y="1400.2" width="12.4" height="12.4"/><rect x="988.4" y="1404.1" width="12.4" height="12.4"/><rect x="989.8" y="1405.7" width="12.4" height="12.4"/><rect x="991.3" y="1404.7" width="12.4" height="12.4"/><rect x="992.7" y="1403.7" width="12.4" height="12.4"/><rect x="994.2" y="1402.5" width="12.4" height="12.4"/><rect x="995.6" y="1403" width="12.4" height="12.4"/><rect x="997.1" y="1409.3" width="12.4" height="12.4"/><rect x="998.5" y="1420.2" width="12.4" height="12.4"/><rect x="1000" y="1419.2" width="12.4" height="12.4"/><rect x="1001.4" y="1414.2" width="12.4" height="12.4"/><rect x="1002.9" y="1427.4" width="12.4" height="12.4"/><rect x="1004.3" y="1428.5" width="12.4" height="12.4"/><rect x="1005.8" y="1418.6" width="12.4" height="12.4"/><rect x="1007.2" y="1419.8" width="12.4" height="12.4"/><rect x="1008.7" y="1421.6" width="12.4" height="12.4"/><rect x="1010.1" y="1416.7" width="12.4" height="12.4"/><rect x="1011.6" y="1421.6" width="12.4" height="12.4"/><rect x="1013" y="1423.4" width="12.4" height="12.4"/><rect x="1014.5" y="1420.3" width="12.4" height="12.4"/><rect x="1015.9" y="1425.9" width="12.4" height="12.4"/><rect x="1017.4" y="1430.4" width="12.4" height="12.4"/><rect x="1018.8" y="1432.4" width="12.4" height="12.4"/><rect x="1020.3" y="1430.6" width="12.4" height="12.4"/><rect x="1021.7" y="1429.7" width="12.4" height="12.4"/><rect x="1023.2" y="1433.2" width="12.4" height="12.4"/><rect x="1024.6" y="1436.1" width="12.4" height="12.4"/><rect x="1026.1" y="1434.2" width="12.4" height="12.4"/><rect x="1027.5" y="1432.1" width="12.4" height="12.4"/><rect x="1029" y="1432.8" width="12.4" height="12.4"/><rect x="1030.4" y="1438.7" width="12.4" height="12.4"/><rect x="1031.9" y="1437.5" width="12.4" height="12.4"/><rect x="1033.3" y="1438.6" width="12.4" height="12.4"/><rect x="1034.8" y="1445" width="12.4" height="12.4"/><rect x="1036.2" y="1449.3" width="12.4" height="12.4"/><rect x="1037.7" y="1447.9" width="12.4" height="12.4"/><rect x="1039.1" y="1442" width="12.4" height="12.4"/><rect x="1040.6" y="1444.9" width="12.4" height="12.4"/><rect x="1042" y="1447.8" width="12.4" height="12.4"/><rect x="1043.5" y="1440.6" width="12.4" height="12.4"/><rect x="1044.9" y="1446.7" width="12.4" height="12.4"/><rect x="1046.4" y="1456.8" width="12.4" height="12.4"/><rect x="1047.8" y="1454.3" width="12.4" height="12.4"/><rect x="1049.3" y="1451.8" width="12.4" height="12.4"/><rect x="1050.7" y="1453.4" width="12.4" height="12.4"/><rect x="1052.2" y="1455.9" width="12.4" height="12.4"/><rect x="1053.6" y="1460.7" width="12.4" height="12.4"/><rect x="1055.1" y="1464.7" width="12.4" height="12.4"/><rect x="1056.5" y="1465.1" width="12.4" height="12.4"/><rect x="1058" y="1459.7" width="12.4" height="12.4"/><rect x="1059.4" y="1453.1" width="12.4" height="12.4"/><rect x="1060.9" y="1456.5" width="12.4" height="12.4"/><rect x="1062.3" y="1458.2" width="12.4" height="12.4"/><rect x="1063.8" y="1465.5" width="12.4" height="12.4"/><rect x="1065.2" y="1469.5" width="12.4" height="12.4"/><rect x="1066.7" y="1461.7" width="12.4" height="12.4"/><rect x="1068.1" y="1460.4" width="12.4" height="12.4"/><rect x="1069.6" y="1470.5" width="12.4" height="12.4"/><rect x="1071" y="1471.1" width="12.4" height="12.4"/><rect x="1072.5" y="1467.9" width="12.4" height="12.4"/><rect x="1073.9" y="1464.1" width="12.4" height="12.4"/><rect x="1075.4" y="1461" width="12.4" height="12.4"/><rect x="1076.8" y="1466.7" width="12.4" height="12.4"/><rect x="1078.3" y="1468.3" width="12.4" height="12.4"/><rect x="1079.7" y="1469.5" width="12.4" height="12.4"/><rect x="1081.2" y="1472" width="12.4" height="12.4"/><rect x="1082.6" y="1476.3" width="12.4" height="12.4"/><rect x="1084.1" y="1470.1" width="12.4" height="12.4"/><rect x="1085.5" y="1467.1" width="12.4" height="12.4"/><rect x="1087" y="1475.5" width="12.4" height="12.4"/><rect x="1088.4" y="1476.5" width="12.4" height="12.4"/><rect x="1089.8" y="1478.3" width="12.4" height="12.4"/><rect x="1091.3" y="1477.6" width="12.4" height="12.4"/><rect x="1092.7" y="1472.8" width="12.4" height="12.4"/><rect x="1094.2" y="1470.9" width="12.4" height="12.4"/><rect x="1095.6" y="1475.6" width="12.4" height="12.4"/><rect x="1097.1" y="1474.4" width="12.4" height="12.4"/><rect x="1098.5" y="1470.4" width="12.4" height="12.4"/><rect x="1100" y="1474.7" width="12.4" height="12.4"/><rect x="1101.4" y="1478.4" width="12.4" height="12.4"/><rect x="1102.9" y="1477.8" width="12.4" height="12.4"/><rect x="1104.3" y="1473.1" width="12.4" height="12.4"/><rect x="1105.8" y="1476.1" width="12.4" height="12.4"/><rect x="1107.2" y="1475.7" width="12.4" height="12.4"/><rect x="1108.7" y="1471.7" width="12.4" height="12.4"/><rect x="1110.1" y="1469.2" width="12.4" height="12.4"/><rect x="1111.6" y="1472.3" width="12.4" height="12.4"/><rect x="1113" y="1479.4" width="12.4" height="12.4"/><rect x="1114.5" y="1473.4" width="12.4" height="12.4"/><rect x="1115.9" y="1472.4" width="12.4" height="12.4"/><rect x="1117.4" y="1480.1" width="12.4" height="12.4"/><rect x="1118.8" y="1478.8" width="12.4" height="12.4"/><rect x="1120.3" y="1471.8" width="12.4" height="12.4"/><rect x="1121.7" y="1473.8" width="12.4" height="12.4"/><rect x="1123.2" y="1481.4" width="12.4" height="12.4"/><rect x="1124.6" y="1475.9" width="12.4" height="12.4"/><rect x="1126.1" y="1476.8" width="12.4" height="12.4"/><rect x="1127.5" y="1482.8" width="12.4" height="12.4"/><rect x="1129" y="1483.2" width="12.4" height="12.4"/><rect x="1130.4" y="1480.3" width="12.4" height="12.4"/><rect x="1131.9" y="1480.5" width="12.4" height="12.4"/><rect x="1133.3" y="1485.1" width="12.4" height="12.4"/><rect x="1134.8" y="1484.8" width="12.4" height="12.4"/><rect x="1136.2" y="1484.1" width="12.4" height="12.4"/><rect x="1137.7" y="1485" width="12.4" height="12.4"/><rect x="1139.1" y="1484.4" width="12.4" height="12.4"/><rect x="1140.6" y="1480" width="12.4" height="12.4"/><rect x="1142" y="1477.4" width="12.4" height="12.4"/><rect x="1143.5" y="1474" width="12.4" height="12.4"/><rect x="1144.9" y="1477.7" width="12.4" height="12.4"/><rect x="1146.4" y="1481.9" width="12.4" height="12.4"/><rect x="1147.8" y="1481.5" width="12.4" height="12.4"/><rect x="1149.3" y="1481.9" width="12.4" height="12.4"/><rect x="1150.7" y="1483.5" width="12.4" height="12.4"/><rect x="1152.2" y="1484.8" width="12.4" height="12.4"/><rect x="1153.6" y="1482" width="12.4" height="12.4"/><rect x="1155.1" y="1484.5" width="12.4" height="12.4"/><rect x="1156.5" y="1493.4" width="12.4" height="12.4"/><rect x="1158" y="1488.3" width="12.4" height="12.4"/><rect x="1159.4" y="1480.3" width="12.4" height="12.4"/><rect x="1160.9" y="1485.1" width="12.4" height="12.4"/><rect x="1162.3" y="1484.4" width="12.4" height="12.4"/><rect x="1163.8" y="1486.1" width="12.4" height="12.4"/><rect x="1165.2" y="1486.4" width="12.4" height="12.4"/><rect x="1166.7" y="1479.5" width="12.4" height="12.4"/><rect x="1168.1" y="1478.8" width="12.4" height="12.4"/><rect x="1169.6" y="1486.3" width="12.4" height="12.4"/><rect x="1171" y="1483" width="12.4" height="12.4"/><rect x="1172.5" y="1480.2" width="12.4" height="12.4"/><rect x="1173.9" y="1480" width="12.4" height="12.4"/><rect x="1175.4" y="1482.2" width="12.4" height="12.4"/><rect x="1176.8" y="1490.6" width="12.4" height="12.4"/><rect x="1178.3" y="1490.6" width="12.4" height="12.4"/><rect x="1179.7" y="1496.4" width="12.4" height="12.4"/><rect x="1181.2" y="1494.3" width="12.4" height="12.4"/><rect x="1182.6" y="1491.4" width="12.4" height="12.4"/><rect x="1184.1" y="1493.8" width="12.4" height="12.4"/><rect x="1185.5" y="1493.7" width="12.4" height="12.4"/><rect x="1187" y="1489.6" width="12.4" height="12.4"/><rect x="1188.4" y="1490" width="12.4" height="12.4"/><rect x="1189.9" y="1491.7" width="12.4" height="12.4"/><rect x="1191.3" y="1493.1" width="12.4" height="12.4"/><rect x="1192.8" y="1497.4" width="12.4" height="12.4"/><rect x="1194.2" y="1493.1" width="12.4" height="12.4"/><rect x="1195.7" y="1492.2" width="12.4" height="12.4"/><rect x="1197.1" y="1494" width="12.4" height="12.4"/><rect x="1198.6" y="1493.1" width="12.4" height="12.4"/><rect x="1200" y="1500.2" width="12.4" height="12.4"/><rect x="1201.4" y="1497" width="12.4" height="12.4"/><rect x="1202.9" y="1484.2" width="12.4" height="12.4"/><rect x="1204.3" y="1482.8" width="12.4" height="12.4"/><rect x="1205.8" y="1486.6" width="12.4" height="12.4"/><rect x="1207.2" y="1491" width="12.4" height="12.4"/><rect x="1208.7" y="1494.2" width="12.4" height="12.4"/><rect x="1210.1" y="1497.8" width="12.4" height="12.4"/><rect x="1211.6" y="1496.7" width="12.4" height="12.4"/><rect x="1213" y="1494.2" width="12.4" height="12.4"/><rect x="1214.5" y="1490.6" width="12.4" height="12.4"/><rect x="1215.9" y="1493.6" width="12.4" height="12.4"/><rect x="1217.4" y="1501.4" width="12.4" height="12.4"/><rect x="1218.8" y="1498" width="12.4" height="12.4"/><rect x="1220.3" y="1496.1" width="12.4" height="12.4"/><rect x="1221.7" y="1494.7" width="12.4" height="12.4"/><rect x="1223.2" y="1492.6" width="12.4" height="12.4"/><rect x="1224.6" y="1495.2" width="12.4" height="12.4"/><rect x="1226.1" y="1498.4" width="12.4" height="12.4"/><rect x="1227.5" y="1493.6" width="12.4" height="12.4"/><rect x="1229" y="1491.3" width="12.4" height="12.4"/><rect x="1230.4" y="1499.2" width="12.4" height="12.4"/><rect x="1231.9" y="1500.4" width="12.4" height="12.4"/><rect x="1233.3" y="1500" width="12.4" height="12.4"/><rect x="1234.8" y="1491.1" width="12.4" height="12.4"/><rect x="1236.2" y="1486.4" width="12.4" height="12.4"/><rect x="1237.7" y="1493.4" width="12.4" height="12.4"/><rect x="1239.1" y="1494" width="12.4" height="12.4"/><rect x="1240.6" y="1488.1" width="12.4" height="12.4"/><rect x="1242" y="1494.3" width="12.4" height="12.4"/><rect x="1243.5" y="1503" width="12.4" height="12.4"/><rect x="1244.9" y="1493.5" width="12.4" height="12.4"/><rect x="1246.4" y="1491.5" width="12.4" height="12.4"/><rect x="1247.8" y="1498.2" width="12.4" height="12.4"/><rect x="1249.3" y="1503.2" width="12.4" height="12.4"/><rect x="1250.7" y="1505.6" width="12.4" height="12.4"/><rect x="1252.2" y="1499.5" width="12.4" height="12.4"/><rect x="1253.6" y="1495.5" width="12.4" height="12.4"/><rect x="1255.1" y="1499.9" width="12.4" height="12.4"/><rect x="1256.5" y="1505.5" width="12.4" height="12.4"/><rect x="1258" y="1503.7" width="12.4" height="12.4"/><rect x="1259.4" y="1498.8" width="12.4" height="12.4"/><rect x="1260.9" y="1502.4" width="12.4" height="12.4"/><rect x="1262.3" y="1505.3" width="12.4" height="12.4"/><rect x="1263.8" y="1508.2" width="12.4" height="12.4"/><rect x="1265.2" y="1509.6" width="12.4" height="12.4"/><rect x="1266.7" y="1508.7" width="12.4" height="12.4"/><rect x="1268.1" y="1501.1" width="12.4" height="12.4"/><rect x="1269.6" y="1493.7" width="12.4" height="12.4"/><rect x="1271" y="1495.4" width="12.4" height="12.4"/><rect x="1272.5" y="1497.9" width="12.4" height="12.4"/><rect x="1273.9" y="1504.3" width="12.4" height="12.4"/><rect x="1275.4" y="1505.9" width="12.4" height="12.4"/><rect x="1276.8" y="1506.7" width="12.4" height="12.4"/><rect x="1278.3" y="1505.4" width="12.4" height="12.4"/><rect x="1279.7" y="1507.2" width="12.4" height="12.4"/><rect x="1281.2" y="1512.8" width="12.4" height="12.4"/><rect x="1282.6" y="1504.2" width="12.4" height="12.4"/><rect x="1284.1" y="1498.2" width="12.4" height="12.4"/><rect x="1285.5" y="1502" width="12.4" height="12.4"/><rect x="1287" y="1508.4" width="12.4" height="12.4"/><rect x="1288.4" y="1513.2" width="12.4" height="12.4"/><rect x="1289.9" y="1516.6" width="12.4" height="12.4"/><rect x="1291.3" y="1509.4" width="12.4" height="12.4"/><rect x="1292.8" y="1504.4" width="12.4" height="12.4"/><rect x="1294.2" y="1509.4" width="12.4" height="12.4"/><rect x="1295.7" y="1508.3" width="12.4" height="12.4"/><rect x="1297.1" y="1508.2" width="12.4" height="12.4"/><rect x="1298.6" y="1503.9" width="12.4" height="12.4"/><rect x="1300" y="1505.2" width="12.4" height="12.4"/><rect x="1301.5" y="1509.6" width="12.4" height="12.4"/><rect x="1302.9" y="1505.9" width="12.4" height="12.4"/><rect x="1304.4" y="1510.8" width="12.4" height="12.4"/><rect x="1305.8" y="1512.5" width="12.4" height="12.4"/><rect x="1307.3" y="1509.6" width="12.4" height="12.4"/><rect x="1308.7" y="1509.9" width="12.4" height="12.4"/><rect x="1310.2" y="1505.5" width="12.4" height="12.4"/><rect x="1311.6" y="1506.3" width="12.4" height="12.4"/><rect x="1313.1" y="1511.3" width="12.4" height="12.4"/><rect x="1314.5" y="1510.1" width="12.4" height="12.4"/><rect x="1315.9" y="1510.8" width="12.4" height="12.4"/><rect x="1317.4" y="1518" width="12.4" height="12.4"/><rect x="1318.8" y="1520" width="12.4" height="12.4"/><rect x="1320.3" y="1515.1" width="12.4" height="12.4"/><rect x="1321.7" y="1510.2" width="12.4" height="12.4"/><rect x="1323.2" y="1513.6" width="12.4" height="12.4"/><rect x="1324.6" y="1512.2" width="12.4" height="12.4"/><rect x="1326.1" y="1507.4" width="12.4" height="12.4"/><rect x="1327.5" y="1515.7" width="12.4" height="12.4"/><rect x="1329" y="1519.6" width="12.4" height="12.4"/><rect x="1330.4" y="1516.6" width="12.4" height="12.4"/><rect x="1331.9" y="1515.1" width="12.4" height="12.4"/><rect x="1333.3" y="1521.4" width="12.4" height="12.4"/><rect x="1334.8" y="1530.5" width="12.4" height="12.4"/><rect x="1336.2" y="1523" width="12.4" height="12.4"/><rect x="1337.7" y="1517.3" width="12.4" height="12.4"/><rect x="1339.1" y="1517.2" width="12.4" height="12.4"/><rect x="1340.6" y="1516.5" width="12.4" height="12.4"/><rect x="1342" y="1520.9" width="12.4" height="12.4"/><rect x="1343.5" y="1523.2" width="12.4" height="12.4"/><rect x="1344.9" y="1519.4" width="12.4" height="12.4"/><rect x="1346.4" y="1517.3" width="12.4" height="12.4"/><rect x="1347.8" y="1525.5" width="12.4" height="12.4"/><rect x="1349.3" y="1527.1" width="12.4" height="12.4"/><rect x="1350.7" y="1523.7" width="12.4" height="12.4"/><rect x="1352.2" y="1522.9" width="12.4" height="12.4"/><rect x="1353.6" y="1519.1" width="12.4" height="12.4"/><rect x="1355.1" y="1515" width="12.4" height="12.4"/><rect x="1356.5" y="1512.9" width="12.4" height="12.4"/><rect x="1358" y="1511.6" width="12.4" height="12.4"/><rect x="1359.4" y="1511.5" width="12.4" height="12.4"/><rect x="1360.9" y="1513.7" width="12.4" height="12.4"/><rect x="1362.3" y="1518.6" width="12.4" height="12.4"/><rect x="1363.8" y="1516.7" width="12.4" height="12.4"/><rect x="1365.2" y="1516" width="12.4" height="12.4"/><rect x="1366.7" y="1515.4" width="12.4" height="12.4"/><rect x="1368.1" y="1521.3" width="12.4" height="12.4"/><rect x="1369.6" y="1525" width="12.4" height="12.4"/><rect x="1371" y="1518.8" width="12.4" height="12.4"/><rect x="1372.5" y="1525" width="12.4" height="12.4"/><rect x="1373.9" y="1524.3" width="12.4" height="12.4"/><rect x="1375.4" y="1520.2" width="12.4" height="12.4"/><rect x="1376.8" y="1521.2" width="12.4" height="12.4"/><rect x="1378.3" y="1522.6" width="12.4" height="12.4"/><rect x="1379.7" y="1521" width="12.4" height="12.4"/><rect x="1381.2" y="1524.3" width="12.4" height="12.4"/><rect x="1382.6" y="1528.7" width="12.4" height="12.4"/><rect x="1384.1" y="1524.7" width="12.4" height="12.4"/><rect x="1385.5" y="1525.1" width="12.4" height="12.4"/><rect x="1387" y="1524.6" width="12.4" height="12.4"/><rect x="1388.4" y="1520.2" width="12.4" height="12.4"/><rect x="1389.9" y="1520.3" width="12.4" height="12.4"/><rect x="1391.3" y="1523.1" width="12.4" height="12.4"/><rect x="1392.8" y="1519.5" width="12.4" height="12.4"/><rect x="1394.2" y="1517.5" width="12.4" height="12.4"/><rect x="1395.7" y="1522.9" width="12.4" height="12.4"/><rect x="1397.1" y="1521" width="12.4" height="12.4"/><rect x="1398.6" y="1520.8" width="12.4" height="12.4"/><rect x="1400" y="1520.9" width="12.4" height="12.4"/><rect x="1401.5" y="1520.7" width="12.4" height="12.4"/><rect x="1402.9" y="1523.6" width="12.4" height="12.4"/><rect x="1404.4" y="1524.1" width="12.4" height="12.4"/><rect x="1405.8" y="1522.5" width="12.4" height="12.4"/><rect x="1407.3" y="1516.6" width="12.4" height="12.4"/><rect x="1408.7" y="1511.9" width="12.4" height="12.4"/><rect x="1410.2" y="1526.9" width="12.4" height="12.4"/><rect x="1411.6" y="1529.9" width="12.4" height="12.4"/><rect x="1413.1" y="1518" width="12.4" height="12.4"/><rect x="1414.5" y="1517.7" width="12.4" height="12.4"/><rect x="1416" y="1523.7" width="12.4" height="12.4"/><rect x="1417.4" y="1530" width="12.4" height="12.4"/><rect x="1418.9" y="1528.8" width="12.4" height="12.4"/><rect x="1420.3" y="1524.1" width="12.4" height="12.4"/><rect x="1421.8" y="1524.6" width="12.4" height="12.4"/><rect x="1423.2" y="1525.7" width="12.4" height="12.4"/><rect x="1424.7" y="1526.5" width="12.4" height="12.4"/><rect x="1426.1" y="1528.4" width="12.4" height="12.4"/><rect x="1427.6" y="1519.2" width="12.4" height="12.4"/><rect x="1429" y="1519.3" width="12.4" height="12.4"/><rect x="1430.4" y="1523.1" width="12.4" height="12.4"/><rect x="1431.9" y="1529.9" width="12.4" height="12.4"/><rect x="1433.3" y="1528.8" width="12.4" height="12.4"/><rect x="1434.8" y="1521.8" width="12.4" height="12.4"/><rect x="1436.2" y="1524.7" width="12.4" height="12.4"/><rect x="1437.7" y="1523.4" width="12.4" height="12.4"/><rect x="1439.1" y="1522.3" width="12.4" height="12.4"/><rect x="1440.6" y="1524.5" width="12.4" height="12.4"/><rect x="1442" y="1527.4" width="12.4" height="12.4"/><rect x="1443.5" y="1526.6" width="12.4" height="12.4"/><rect x="1444.9" y="1525.1" width="12.4" height="12.4"/><rect x="1446.4" y="1526.3" width="12.4" height="12.4"/><rect x="1447.8" y="1524.7" width="12.4" height="12.4"/><rect x="1449.3" y="1524.1" width="12.4" height="12.4"/><rect x="1450.7" y="1526.8" width="12.4" height="12.4"/><rect x="1452.2" y="1530.3" width="12.4" height="12.4"/><rect x="1453.6" y="1532.1" width="12.4" height="12.4"/><rect x="1455.1" y="1530.8" width="12.4" height="12.4"/><rect x="1456.5" y="1531.6" width="12.4" height="12.4"/><rect x="1458" y="1528.4" width="12.4" height="12.4"/><rect x="1459.4" y="1529" width="12.4" height="12.4"/><rect x="1460.9" y="1530.2" width="12.4" height="12.4"/><rect x="1462.3" y="1527" width="12.4" height="12.4"/><rect x="1463.8" y="1527" width="12.4" height="12.4"/><rect x="1465.2" y="1529.2" width="12.4" height="12.4"/><rect x="1466.7" y="1528.7" width="12.4" height="12.4"/><rect x="1468.1" y="1528.7" width="12.4" height="12.4"/><rect x="1469.6" y="1529.5" width="12.4" height="12.4"/><rect x="1471" y="1526.8" width="12.4" height="12.4"/><rect x="1472.5" y="1528.9" width="12.4" height="12.4"/><rect x="1473.9" y="1528" width="12.4" height="12.4"/><rect x="1475.4" y="1530.2" width="12.4" height="12.4"/><rect x="1476.8" y="1530.7" width="12.4" height="12.4"/><rect x="1478.3" y="1526.5" width="12.4" height="12.4"/><rect x="1479.7" y="1531.6" width="12.4" height="12.4"/><rect x="1481.2" y="1529.1" width="12.4" height="12.4"/><rect x="1482.6" y="1528.4" width="12.4" height="12.4"/><rect x="1484.1" y="1532.5" width="12.4" height="12.4"/><rect x="1485.5" y="1530.5" width="12.4" height="12.4"/><rect x="1487" y="1531" width="12.4" height="12.4"/><rect x="1488.4" y="1528.5" width="12.4" height="12.4"/><rect x="1489.9" y="1532.4" width="12.4" height="12.4"/><rect x="1491.3" y="1536.2" width="12.4" height="12.4"/><rect x="1492.8" y="1533.8" width="12.4" height="12.4"/><rect x="1494.2" y="1534.6" width="12.4" height="12.4"/><rect x="1495.7" y="1535.5" width="12.4" height="12.4"/><rect x="1497.1" y="1534.3" width="12.4" height="12.4"/><rect x="1498.6" y="1529.5" width="12.4" height="12.4"/><rect x="1500" y="1525.4" width="12.4" height="12.4"/><rect x="1501.5" y="1524.4" width="12.4" height="12.4"/><rect x="1502.9" y="1526.7" width="12.4" height="12.4"/><rect x="1504.4" y="1532.9" width="12.4" height="12.4"/><rect x="1505.8" y="1530.8" width="12.4" height="12.4"/><rect x="1507.3" y="1527.4" width="12.4" height="12.4"/><rect x="1508.7" y="1532.5" width="12.4" height="12.4"/><rect x="1510.2" y="1532.6" width="12.4" height="12.4"/><rect x="1511.6" y="1530.4" width="12.4" height="12.4"/><rect x="1513.1" y="1528.6" width="12.4" height="12.4"/><rect x="1514.5" y="1529.8" width="12.4" height="12.4"/><rect x="1516" y="1531.2" width="12.4" height="12.4"/><rect x="1517.4" y="1529.1" width="12.4" height="12.4"/><rect x="1518.9" y="1529.6" width="12.4" height="12.4"/><rect x="1520.3" y="1532.5" width="12.4" height="12.4"/><rect x="1521.8" y="1536.2" width="12.4" height="12.4"/><rect x="1523.2" y="1532.3" width="12.4" height="12.4"/><rect x="1524.7" y="1531.2" width="12.4" height="12.4"/><rect x="1526.1" y="1531.4" width="12.4" height="12.4"/><rect x="1527.6" y="1525.4" width="12.4" height="12.4"/><rect x="1529" y="1526.7" width="12.4" height="12.4"/><rect x="1530.5" y="1531.7" width="12.4" height="12.4"/><rect x="1531.9" y="1533.4" width="12.4" height="12.4"/><rect x="1533.4" y="1534.4" width="12.4" height="12.4"/><rect x="1534.8" y="1529.4" width="12.4" height="12.4"/><rect x="1536.3" y="1532.1" width="12.4" height="12.4"/><rect x="1537.7" y="1539.6" width="12.4" height="12.4"/><rect x="1539.2" y="1537.8" width="12.4" height="12.4"/><rect x="1540.6" y="1531.7" width="12.4" height="12.4"/><rect x="1542.1" y="1531.2" width="12.4" height="12.4"/><rect x="1543.5" y="1534.2" width="12.4" height="12.4"/><rect x="1544.9" y="1531.9" width="12.4" height="12.4"/><rect x="1546.4" y="1533.3" width="12.4" height="12.4"/><rect x="1547.8" y="1530.5" width="12.4" height="12.4"/><rect x="1549.3" y="1533.4" width="12.4" height="12.4"/><rect x="1550.7" y="1540.3" width="12.4" height="12.4"/><rect x="1552.2" y="1539.7" width="12.4" height="12.4"/><rect x="1553.6" y="1540.8" width="12.4" height="12.4"/><rect x="1555.1" y="1534.5" width="12.4" height="12.4"/><rect x="1556.5" y="1530.2" width="12.4" height="12.4"/><rect x="1558" y="1533.8" width="12.4" height="12.4"/><rect x="1559.4" y="1531.5" width="12.4" height="12.4"/><rect x="1560.9" y="1534.5" width="12.4" height="12.4"/><rect x="1562.3" y="1544.5" width="12.4" height="12.4"/><rect x="1563.8" y="1539.8" width="12.4" height="12.4"/><rect x="1565.2" y="1534.8" width="12.4" height="12.4"/><rect x="1566.7" y="1537.8" width="12.4" height="12.4"/><rect x="1568.1" y="1536.8" width="12.4" height="12.4"/><rect x="1569.6" y="1537" width="12.4" height="12.4"/><rect x="1571" y="1538.5" width="12.4" height="12.4"/><rect x="1572.5" y="1536.7" width="12.4" height="12.4"/><rect x="1573.9" y="1534" width="12.4" height="12.4"/><rect x="1575.4" y="1540" width="12.4" height="12.4"/><rect x="1576.8" y="1541.2" width="12.4" height="12.4"/><rect x="1578.3" y="1537" width="12.4" height="12.4"/><rect x="1579.7" y="1532.6" width="12.4" height="12.4"/><rect x="1581.2" y="1533.9" width="12.4" height="12.4"/><rect x="1582.6" y="1540.1" width="12.4" height="12.4"/><rect x="1584.1" y="1539.7" width="12.4" height="12.4"/><rect x="1585.5" y="1542.2" width="12.4" height="12.4"/><rect x="1587" y="1536.5" width="12.4" height="12.4"/><rect x="1588.4" y="1534.8" width="12.4" height="12.4"/><rect x="1589.9" y="1535.8" width="12.4" height="12.4"/><rect x="1591.3" y="1530.9" width="12.4" height="12.4"/><rect x="1592.8" y="1530.1" width="12.4" height="12.4"/><rect x="1594.2" y="1535" width="12.4" height="12.4"/><rect x="1595.7" y="1539.8" width="12.4" height="12.4"/><rect x="1597.1" y="1536.7" width="12.4" height="12.4"/><rect x="1598.6" y="1537.1" width="12.4" height="12.4"/><rect x="1600" y="1533" width="12.4" height="12.4"/><rect x="1601.5" y="1531.4" width="12.4" height="12.4"/><rect x="1602.9" y="1537.3" width="12.4" height="12.4"/><rect x="1604.4" y="1537.5" width="12.4" height="12.4"/><rect x="1605.8" y="1536.9" width="12.4" height="12.4"/><rect x="1607.3" y="1534.4" width="12.4" height="12.4"/><rect x="1608.7" y="1535.1" width="12.4" height="12.4"/><rect x="1610.2" y="1538.5" width="12.4" height="12.4"/><rect x="1611.6" y="1538.7" width="12.4" height="12.4"/><rect x="1613.1" y="1543.5" width="12.4" height="12.4"/><rect x="1614.5" y="1543.3" width="12.4" height="12.4"/><rect x="1616" y="1537.8" width="12.4" height="12.4"/><rect x="1617.4" y="1538.7" width="12.4" height="12.4"/><rect x="1618.9" y="1537.5" width="12.4" height="12.4"/><rect x="1620.3" y="1540.7" width="12.4" height="12.4"/><rect x="1621.8" y="1543.7" width="12.4" height="12.4"/><rect x="1623.2" y="1539.6" width="12.4" height="12.4"/><rect x="1624.7" y="1541" width="12.4" height="12.4"/><rect x="1626.1" y="1537.8" width="12.4" height="12.4"/><rect x="1627.6" y="1536.5" width="12.4" height="12.4"/><rect x="1629" y="1539.3" width="12.4" height="12.4"/><rect x="1630.5" y="1544.9" width="12.4" height="12.4"/><rect x="1631.9" y="1549.3" width="12.4" height="12.4"/><rect x="1633.4" y="1548.5" width="12.4" height="12.4"/><rect x="1634.8" y="1545" width="12.4" height="12.4"/><rect x="1636.3" y="1540.8" width="12.4" height="12.4"/><rect x="1637.7" y="1543.5" width="12.4" height="12.4"/><rect x="1639.2" y="1541.5" width="12.4" height="12.4"/><rect x="1640.6" y="1536.5" width="12.4" height="12.4"/><rect x="1642.1" y="1542.3" width="12.4" height="12.4"/><rect x="1643.5" y="1546" width="12.4" height="12.4"/><rect x="1645" y="1543.3" width="12.4" height="12.4"/><rect x="1646.4" y="1537.8" width="12.4" height="12.4"/><rect x="1647.9" y="1535.6" width="12.4" height="12.4"/><rect x="1649.3" y="1538.9" width="12.4" height="12.4"/><rect x="1650.8" y="1538.2" width="12.4" height="12.4"/><rect x="1652.2" y="1540.4" width="12.4" height="12.4"/><rect x="1653.7" y="1539.9" width="12.4" height="12.4"/><rect x="1655.1" y="1536.1" width="12.4" height="12.4"/><rect x="1656.5" y="1543.6" width="12.4" height="12.4"/><rect x="1658" y="1547.9" width="12.4" height="12.4"/><rect x="1659.4" y="1540.4" width="12.4" height="12.4"/><rect x="1660.9" y="1544.7" width="12.4" height="12.4"/><rect x="1662.3" y="1548.9" width="12.4" height="12.4"/><rect x="1663.8" y="1544.5" width="12.4" height="12.4"/><rect x="1665.2" y="1536.3" width="12.4" height="12.4"/><rect x="1666.7" y="1539.3" width="12.4" height="12.4"/><rect x="1668.1" y="1546.8" width="12.4" height="12.4"/><rect x="1669.6" y="1546.3" width="12.4" height="12.4"/><rect x="1671" y="1550.4" width="12.4" height="12.4"/><rect x="1672.5" y="1544.1" width="12.4" height="12.4"/><rect x="1673.9" y="1544.6" width="12.4" height="12.4"/><rect x="1675.4" y="1550.1" width="12.4" height="12.4"/><rect x="1676.8" y="1545.8" width="12.4" height="12.4"/><rect x="1678.3" y="1537.9" width="12.4" height="12.4"/><rect x="1679.7" y="1542.8" width="12.4" height="12.4"/><rect x="1681.2" y="1549.6" width="12.4" height="12.4"/><rect x="1682.6" y="1546.2" width="12.4" height="12.4"/><rect x="1684.1" y="1542.5" width="12.4" height="12.4"/><rect x="1685.5" y="1542.5" width="12.4" height="12.4"/><rect x="1687" y="1547.1" width="12.4" height="12.4"/><rect x="1688.4" y="1549.5" width="12.4" height="12.4"/><rect x="1689.9" y="1545.8" width="12.4" height="12.4"/><rect x="1691.3" y="1536.4" width="12.4" height="12.4"/><rect x="1692.8" y="1537.3" width="12.4" height="12.4"/><rect x="1694.2" y="1540.4" width="12.4" height="12.4"/><rect x="1695.7" y="1542.8" width="12.4" height="12.4"/><rect x="1697.1" y="1545" width="12.4" height="12.4"/><rect x="1698.6" y="1544.9" width="12.4" height="12.4"/><rect x="1700" y="1548.7" width="12.4" height="12.4"/><rect x="1701.5" y="1552.6" width="12.4" height="12.4"/><rect x="1702.9" y="1549.5" width="12.4" height="12.4"/><rect x="1704.4" y="1541.2" width="12.4" height="12.4"/><rect x="1705.8" y="1541.1" width="12.4" height="12.4"/><rect x="1707.3" y="1544.7" width="12.4" height="12.4"/><rect x="1708.7" y="1544.6" width="12.4" height="12.4"/><rect x="1710.2" y="1544.8" width="12.4" height="12.4"/><rect x="1711.6" y="1545" width="12.4" height="12.4"/><rect x="1713.1" y="1539.8" width="12.4" height="12.4"/><rect x="1714.5" y="1541.4" width="12.4" height="12.4"/><rect x="1716" y="1548.3" width="12.4" height="12.4"/><rect x="1717.4" y="1547.9" width="12.4" height="12.4"/><rect x="1718.9" y="1546.3" width="12.4" height="12.4"/><rect x="1720.3" y="1547.8" width="12.4" height="12.4"/><rect x="1721.8" y="1543.9" width="12.4" height="12.4"/><rect x="1723.2" y="1541.4" width="12.4" height="12.4"/><rect x="1724.7" y="1547.2" width="12.4" height="12.4"/><rect x="1726.1" y="1546.4" width="12.4" height="12.4"/><rect x="1727.6" y="1544.8" width="12.4" height="12.4"/><rect x="1729" y="1548.6" width="12.4" height="12.4"/><rect x="1730.5" y="1548.4" width="12.4" height="12.4"/><rect x="1731.9" y="1543.7" width="12.4" height="12.4"/><rect x="1733.4" y="1543" width="12.4" height="12.4"/><rect x="1734.8" y="1546.2" width="12.4" height="12.4"/><rect x="1736.3" y="1544.9" width="12.4" height="12.4"/><rect x="1737.7" y="1544.1" width="12.4" height="12.4"/><rect x="1739.2" y="1545.8" width="12.4" height="12.4"/><rect x="1740.6" y="1546" width="12.4" height="12.4"/><rect x="1742.1" y="1549" width="12.4" height="12.4"/><rect x="1743.5" y="1550.8" width="12.4" height="12.4"/><rect x="1745" y="1549.1" width="12.4" height="12.4"/><rect x="1746.4" y="1547.9" width="12.4" height="12.4"/><rect x="1747.9" y="1549.8" width="12.4" height="12.4"/><rect x="1749.3" y="1547.4" width="12.4" height="12.4"/><rect x="1750.8" y="1545.9" width="12.4" height="12.4"/><rect x="1752.2" y="1545" width="12.4" height="12.4"/><rect x="1753.7" y="1547.9" width="12.4" height="12.4"/><rect x="1755.1" y="1551.1" width="12.4" height="12.4"/><rect x="1756.6" y="1544.8" width="12.4" height="12.4"/><rect x="1758" y="1543.5" width="12.4" height="12.4"/><rect x="1759.5" y="1548.7" width="12.4" height="12.4"/><rect x="1760.9" y="1550.7" width="12.4" height="12.4"/><rect x="1762.4" y="1544.7" width="12.4" height="12.4"/><rect x="1763.8" y="1548.5" width="12.4" height="12.4"/><rect x="1765.3" y="1553.4" width="12.4" height="12.4"/><rect x="1766.7" y="1550" width="12.4" height="12.4"/><rect x="1768.2" y="1548.7" width="12.4" height="12.4"/><rect x="1769.6" y="1545.8" width="12.4" height="12.4"/><rect x="1771" y="1542.9" width="12.4" height="12.4"/><rect x="1772.5" y="1545.4" width="12.4" height="12.4"/><rect x="1773.9" y="1549.3" width="12.4" height="12.4"/><rect x="1775.4" y="1548.3" width="12.4" height="12.4"/><rect x="1776.8" y="1550.4" width="12.4" height="12.4"/><rect x="1778.3" y="1551.9" width="12.4" height="12.4"/><rect x="1779.7" y="1547.5" width="12.4" height="12.4"/><rect x="1781.2" y="1545.7" width="12.4" height="12.4"/><rect x="1782.6" y="1551.2" width="12.4" height="12.4"/><rect x="1784.1" y="1548.9" width="12.4" height="12.4"/><rect x="1785.5" y="1551.5" width="12.4" height="12.4"/><rect x="1787" y="1553.7" width="12.4" height="12.4"/><rect x="1788.4" y="1554.9" width="12.4" height="12.4"/><rect x="1789.9" y="1557.5" width="12.4" height="12.4"/><rect x="1791.3" y="1547.1" width="12.4" height="12.4"/><rect x="1792.8" y="1547.2" width="12.4" height="12.4"/><rect x="1794.2" y="1551.5" width="12.4" height="12.4"/><rect x="1795.7" y="1549.4" width="12.4" height="12.4"/><rect x="1797.1" y="1549.4" width="12.4" height="12.4"/><rect x="1798.6" y="1550.7" width="12.4" height="12.4"/><rect x="1800" y="1542.4" width="12.4" height="12.4"/><rect x="1801.5" y="1544.2" width="12.4" height="12.4"/><rect x="1802.9" y="1551.8" width="12.4" height="12.4"/><rect x="1804.4" y="1550" width="12.4" height="12.4"/><rect x="1805.8" y="1552.6" width="12.4" height="12.4"/><rect x="1807.3" y="1552.7" width="12.4" height="12.4"/><rect x="1808.7" y="1547.8" width="12.4" height="12.4"/><rect x="1810.2" y="1550" width="12.4" height="12.4"/><rect x="1811.6" y="1552.4" width="12.4" height="12.4"/><rect x="1813.1" y="1551" width="12.4" height="12.4"/><rect x="1814.5" y="1550" width="12.4" height="12.4"/><rect x="1816" y="1549.1" width="12.4" height="12.4"/><rect x="1817.4" y="1548.5" width="12.4" height="12.4"/><rect x="1818.9" y="1553" width="12.4" height="12.4"/><rect x="1820.3" y="1552.9" width="12.4" height="12.4"/><rect x="1821.8" y="1551.4" width="12.4" height="12.4"/><rect x="1823.2" y="1549.4" width="12.4" height="12.4"/><rect x="1824.7" y="1547.7" width="12.4" height="12.4"/><rect x="1826.1" y="1551.8" width="12.4" height="12.4"/><rect x="1827.6" y="1553.7" width="12.4" height="12.4"/><rect x="1829" y="1555.1" width="12.4" height="12.4"/><rect x="1830.5" y="1558.4" width="12.4" height="12.4"/><rect x="1831.9" y="1565.3" width="12.4" height="12.4"/><rect x="1833.4" y="1558.3" width="12.4" height="12.4"/><rect x="1834.8" y="1552.7" width="12.4" height="12.4"/><rect x="1836.3" y="1551.8" width="12.4" height="12.4"/><rect x="1837.7" y="1547.7" width="12.4" height="12.4"/><rect x="1839.2" y="1550" width="12.4" height="12.4"/><rect x="1840.6" y="1554.7" width="12.4" height="12.4"/><rect x="1842.1" y="1556.6" width="12.4" height="12.4"/><rect x="1843.5" y="1554" width="12.4" height="12.4"/><rect x="1845" y="1555.3" width="12.4" height="12.4"/><rect x="1846.4" y="1552.8" width="12.4" height="12.4"/><rect x="1847.9" y="1547.8" width="12.4" height="12.4"/><rect x="1849.3" y="1550.6" width="12.4" height="12.4"/><rect x="1850.8" y="1548.4" width="12.4" height="12.4"/><rect x="1852.2" y="1552.1" width="12.4" height="12.4"/><rect x="1853.7" y="1556.4" width="12.4" height="12.4"/><rect x="1855.1" y="1552.2" width="12.4" height="12.4"/><rect x="1856.6" y="1553.8" width="12.4" height="12.4"/><rect x="1858" y="1551.3" width="12.4" height="12.4"/><rect x="1859.5" y="1550" width="12.4" height="12.4"/><rect x="1860.9" y="1549.1" width="12.4" height="12.4"/><rect x="1862.4" y="1549.1" width="12.4" height="12.4"/><rect x="1863.8" y="1553.8" width="12.4" height="12.4"/><rect x="1865.3" y="1558.3" width="12.4" height="12.4"/><rect x="1866.7" y="1558.1" width="12.4" height="12.4"/><rect x="1868.2" y="1557.6" width="12.4" height="12.4"/><rect x="1869.6" y="1557.6" width="12.4" height="12.4"/><rect x="1871.1" y="1550.1" width="12.4" height="12.4"/><rect x="1872.5" y="1552.1" width="12.4" height="12.4"/><rect x="1874" y="1556.5" width="12.4" height="12.4"/><rect x="1875.4" y="1553.2" width="12.4" height="12.4"/><rect x="1876.9" y="1555.4" width="12.4" height="12.4"/><rect x="1878.3" y="1554.2" width="12.4" height="12.4"/><rect x="1879.8" y="1551" width="12.4" height="12.4"/><rect x="1881.2" y="1555.5" width="12.4" height="12.4"/><rect x="1882.7" y="1558.7" width="12.4" height="12.4"/><rect x="1884.1" y="1555.3" width="12.4" height="12.4"/></g></g>
<path d="M296 56.2V1654.6M294 1652.6H1890.3M294 58.2H1890.3" stroke="#000" stroke-width="4" fill="none"/><path d="M296 1652.6H269.5M296 1564H283M296 1475.4H269.5M296 1386.9H283M296 1298.3H269.5M296 1209.7H283M296 1121.1H269.5M296 1032.6H283M296 944H269.5M296 855.4H283M296 766.8H269.5M296 678.2H283M296 589.7H269.5M296 501.1H283M296 412.5H269.5M296 323.9H283M296 235.4H269.5M296 146.8H283M296 58.2H269.5" stroke="#000" stroke-width="4"/><path d="M296 1652.6V1678.6M368.5 1652.6V1665.1M440.9 1652.6V1678.6M513.4 1652.6V1665.1M585.9 1652.6V1678.6M658.3 1652.6V1665.1M730.8 1652.6V1678.6M803.3 1652.6V1665.1M875.7 1652.6V1678.6M948.2 1652.6V1665.1M1020.7 1652.6V1678.6M1093.2 1652.6V1665.1M1165.6 1652.6V1678.6M1238.1 1652.6V1665.1M1310.6 1652.6V1678.6M1383 1652.6V1665.1M1455.5 1652.6V1678.6M1528 1652.6V1665.1M1600.4 1652.6V1678.6M1672.9 1652.6V1665.1M1745.4 1652.6V1678.6M1817.8 1652.6V1665.1M1890.3 1652.6V1678.6" stroke="#000" stroke-width="4"/><path d="M1890.3 56.2V1654.6M1890.3 1652.6H1916.8M1890.3 1591.3H1902.8M1890.3 1530H1916.8M1890.3 1468.6H1902.8M1890.3 1407.3H1916.8M1890.3 1346H1902.8M1890.3 1284.7H1916.8M1890.3 1223.3H1902.8M1890.3 1162H1916.8M1890.3 1100.7H1902.8M1890.3 1039.4H1916.8M1890.3 978H1902.8M1890.3 916.7H1916.8M1890.3 855.4H1902.8M1890.3 794.1H1916.8M1890.3 732.8H1902.8M1890.3 671.4H1916.8M1890.3 610.1H1902.8M1890.3 548.8H1916.8M1890.3 487.5H1902.8M1890.3 426.1H1916.8M1890.3 364.8H1902.8M1890.3 303.5H1916.8M1890.3 242.2H1902.8M1890.3 180.8H1916.8M1890.3 119.5H1902.8M1890.3 58.2H1916.8" stroke="#ff0000" stroke-width="4" fill="none"/><path d="M2209 853.5V1654.5M2209 855.5H2227M2209 895.4H2218M2209 935.2H2227M2209 975.1H2218M2209 1014.9H2227M2209 1054.8H2218M2209 1094.6H2227M2209 1134.5H2218M2209 1174.3H2227M2209 1214.2H2218M2209 1254H2227M2209 1293.8H2218M2209 1333.7H2227M2209 1373.5H2218M2209 1413.4H2227M2209 1453.2H2218M2209 1493.1H2227M2209 1533H2218M2209 1572.8H2227M2209 1612.7H2218M2209 1652.5H2227" stroke="#0000ff" stroke-width="3.7" fill="none"/>
<g font-size="72.5" fill="#000"><text x="251.7" y="1674.9" text-anchor="end">0</text><text x="251.7" y="1497.7" text-anchor="end">20</text><text x="251.7" y="1320.6" text-anchor="end">40</text><text x="251.7" y="1143.4" text-anchor="end">60</text><text x="251.7" y="966.3" text-anchor="end">80</text><text x="251.7" y="789.1" text-anchor="end">100</text><text x="251.7" y="612" text-anchor="end">120</text><text x="251.7" y="434.8" text-anchor="end">140</text><text x="251.7" y="257.7" text-anchor="end">160</text><text x="251.7" y="80.5" text-anchor="end">180</text></g><g font-size="71" fill="#000"><text x="296" y="1751.2" text-anchor="middle">0</text><text x="440.9" y="1751.2" text-anchor="middle">5</text><text x="585.9" y="1751.2" text-anchor="middle">10</text><text x="730.8" y="1751.2" text-anchor="middle">15</text><text x="875.7" y="1751.2" text-anchor="middle">20</text><text x="1020.7" y="1751.2" text-anchor="middle">25</text><text x="1165.6" y="1751.2" text-anchor="middle">30</text><text x="1310.6" y="1751.2" text-anchor="middle">35</text><text x="1455.5" y="1751.2" text-anchor="middle">40</text><text x="1600.4" y="1751.2" text-anchor="middle">45</text><text x="1745.4" y="1751.2" text-anchor="middle">50</text><text x="1890.3" y="1751.2" text-anchor="middle">55</text></g><g font-size="72.5" fill="#ff0000"><text x="1934" y="1675.2">1140</text><text x="1934" y="1552.6">1150</text><text x="1934" y="1429.9">1160</text><text x="1934" y="1307.3">1170</text><text x="1934" y="1184.6">1180</text><text x="1934" y="1062">1190</text><text x="1934" y="939.3">1200</text><text x="1934" y="816.7">1210</text><text x="1934" y="694">1220</text><text x="1934" y="571.4">1230</text><text x="1934" y="448.7">1240</text><text x="1934" y="326.1">1250</text><text x="1934" y="203.4">1260</text><text x="1934" y="80.8">1270</text></g><g font-size="56.5" fill="#0000ff"><text x="2239.8" y="872.4">20</text><text x="2239.8" y="952.1">15</text><text x="2239.8" y="1031.8">10</text><text x="2239.8" y="1111.5">5</text><text x="2239.8" y="1191.2">0</text><text x="2239.8" y="1270.9">−5</text><text x="2239.8" y="1350.6">−10</text><text x="2239.8" y="1430.3">−15</text><text x="2239.8" y="1510">−20</text><text x="2239.8" y="1589.7">−25</text><text x="2239.8" y="1669.4">−30</text></g>
<text transform="translate(88.8,1036.5) rotate(-90)" font-size="82" fill="#000">CA<tspan font-size="56.5" dy="22.5">mean</tspan><tspan dy="-22.5"> (°)</tspan></text><text x="1095" y="1875" text-anchor="middle" font-size="83.5" fill="#000"><tspan font-style="italic">t</tspan> (min)</text><text transform="translate(2177,961) rotate(-90)" font-size="81" fill="#ff0000"><tspan font-style="italic">T</tspan><tspan dx="-4"> (°C)</tspan></text><text transform="translate(2409.5,1524.5) rotate(-90)" font-size="69.2" fill="#0000ff"><tspan font-style="italic">d</tspan>CA<tspan font-size="44" dy="19">mean</tspan><tspan dy="-19">/</tspan><tspan font-style="italic">d</tspan>t (°/min)</text>
<rect x="313.7" y="95.2" width="663.3" height="161.7" fill="#fff" stroke="#000" stroke-width="4"/><circle cx="391.4" cy="137.7" r="17.6" fill="#000"/><rect x="377.9" y="201.3" width="26" height="25.5" fill="#fff" stroke="#808080" stroke-width="5.2"/><text x="460" y="159.5" font-size="63" fill="#000">YSZ P 0.02 μm</text><text x="460" y="236" font-size="63" fill="#808080">YYbDS P 0.02 μm</text><rect x="1150.9" y="873.8" width="692.9" height="164.8" fill="#fff" stroke="#0000ff" stroke-width="3.4"/><path d="M1230 900.9L1244.8 927.6H1215.3Z" fill="#0000ff"/><path d="M1217.3 987.1H1242.5L1229.9 1009.4Z" fill="#fff" stroke="#4daeea" stroke-width="3.6"/><text x="1319" y="939.7" font-size="63.7" fill="#0000ff">YSZ P 0.02 μm</text><text x="1319" y="1016.3" font-size="63.7" fill="#4daeea">YYbDS P 0.02 μm</text>
</svg>
</body></html>
